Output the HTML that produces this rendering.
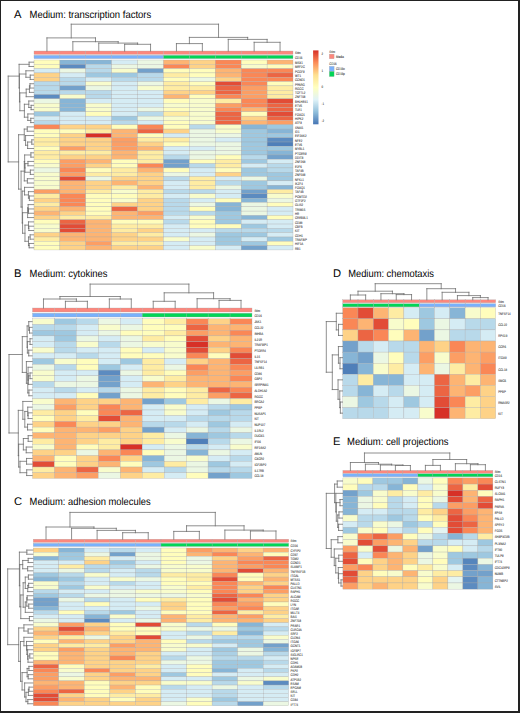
<!DOCTYPE html>
<html><head><meta charset="utf-8"><title>Heatmaps</title>
<style>html,body{margin:0;padding:0;background:#fff;}body{width:520px;height:713px;overflow:hidden;font-family:"Liberation Sans",sans-serif;}svg{display:block;}</style>
</head><body>
<svg width="520" height="713" viewBox="0 0 520 713" font-family="Liberation Sans, sans-serif" text-rendering="geometricPrecision">
<rect x="0" y="0" width="520" height="713" fill="#fff"/>
<g stroke="#a8a8a8" stroke-width="0.3">
<rect x="34" y="60" width="25.9" height="4.32" fill="#fffdbc"/>
<rect x="59.9" y="60" width="25.9" height="4.32" fill="#87b5d6"/>
<rect x="85.8" y="60" width="25.9" height="4.32" fill="#87b5d6"/>
<rect x="111.7" y="60" width="25.9" height="4.32" fill="#d5ecf4"/>
<rect x="137.6" y="60" width="25.9" height="4.32" fill="#ebf7e3"/>
<rect x="163.5" y="60" width="25.9" height="4.32" fill="#fdb473"/>
<rect x="189.4" y="60" width="25.9" height="4.32" fill="#fed287"/>
<rect x="215.3" y="60" width="25.9" height="4.32" fill="#fa8756"/>
<rect x="241.2" y="60" width="25.9" height="4.32" fill="#fffdbc"/>
<rect x="267.1" y="60" width="25.9" height="4.32" fill="#fdb473"/>
<rect x="34" y="64.32" width="25.9" height="4.32" fill="#fffdbc"/>
<rect x="59.9" y="64.32" width="25.9" height="4.32" fill="#5c8bc0"/>
<rect x="85.8" y="64.32" width="25.9" height="4.32" fill="#b8d9ea"/>
<rect x="111.7" y="64.32" width="25.9" height="4.32" fill="#ebf7e3"/>
<rect x="137.6" y="64.32" width="25.9" height="4.32" fill="#ebf7e3"/>
<rect x="163.5" y="64.32" width="25.9" height="4.32" fill="#fa8756"/>
<rect x="189.4" y="64.32" width="25.9" height="4.32" fill="#fed287"/>
<rect x="215.3" y="64.32" width="25.9" height="4.32" fill="#fa8756"/>
<rect x="241.2" y="64.32" width="25.9" height="4.32" fill="#f8fccc"/>
<rect x="267.1" y="64.32" width="25.9" height="4.32" fill="#fffdbc"/>
<rect x="34" y="68.63" width="25.9" height="4.32" fill="#d5ecf4"/>
<rect x="59.9" y="68.63" width="25.9" height="4.32" fill="#ebf7e3"/>
<rect x="85.8" y="68.63" width="25.9" height="4.32" fill="#b8d9ea"/>
<rect x="111.7" y="68.63" width="25.9" height="4.32" fill="#f8fccc"/>
<rect x="137.6" y="68.63" width="25.9" height="4.32" fill="#73a1cb"/>
<rect x="163.5" y="68.63" width="25.9" height="4.32" fill="#fffdbc"/>
<rect x="189.4" y="68.63" width="25.9" height="4.32" fill="#fffdbc"/>
<rect x="215.3" y="68.63" width="25.9" height="4.32" fill="#fdb473"/>
<rect x="241.2" y="68.63" width="25.9" height="4.32" fill="#fa8756"/>
<rect x="267.1" y="68.63" width="25.9" height="4.32" fill="#fa8756"/>
<rect x="34" y="72.95" width="25.9" height="4.32" fill="#fed287"/>
<rect x="59.9" y="72.95" width="25.9" height="4.32" fill="#d5ecf4"/>
<rect x="85.8" y="72.95" width="25.9" height="4.32" fill="#9ec8e0"/>
<rect x="111.7" y="72.95" width="25.9" height="4.32" fill="#9ec8e0"/>
<rect x="137.6" y="72.95" width="25.9" height="4.32" fill="#b8d9ea"/>
<rect x="163.5" y="72.95" width="25.9" height="4.32" fill="#feeca3"/>
<rect x="189.4" y="72.95" width="25.9" height="4.32" fill="#fffdbc"/>
<rect x="215.3" y="72.95" width="25.9" height="4.32" fill="#fdb473"/>
<rect x="241.2" y="72.95" width="25.9" height="4.32" fill="#fa8756"/>
<rect x="267.1" y="72.95" width="25.9" height="4.32" fill="#ec6543"/>
<rect x="34" y="77.27" width="25.9" height="4.32" fill="#fed287"/>
<rect x="59.9" y="77.27" width="25.9" height="4.32" fill="#b8d9ea"/>
<rect x="85.8" y="77.27" width="25.9" height="4.32" fill="#d5ecf4"/>
<rect x="111.7" y="77.27" width="25.9" height="4.32" fill="#b8d9ea"/>
<rect x="137.6" y="77.27" width="25.9" height="4.32" fill="#b8d9ea"/>
<rect x="163.5" y="77.27" width="25.9" height="4.32" fill="#fffdbc"/>
<rect x="189.4" y="77.27" width="25.9" height="4.32" fill="#ebf7e3"/>
<rect x="215.3" y="77.27" width="25.9" height="4.32" fill="#fed287"/>
<rect x="241.2" y="77.27" width="25.9" height="4.32" fill="#fa8756"/>
<rect x="267.1" y="77.27" width="25.9" height="4.32" fill="#fa8756"/>
<rect x="34" y="81.59" width="25.9" height="4.32" fill="#b8d9ea"/>
<rect x="59.9" y="81.59" width="25.9" height="4.32" fill="#b8d9ea"/>
<rect x="85.8" y="81.59" width="25.9" height="4.32" fill="#f8fccc"/>
<rect x="111.7" y="81.59" width="25.9" height="4.32" fill="#d5ecf4"/>
<rect x="137.6" y="81.59" width="25.9" height="4.32" fill="#ebf7e3"/>
<rect x="163.5" y="81.59" width="25.9" height="4.32" fill="#feeca3"/>
<rect x="189.4" y="81.59" width="25.9" height="4.32" fill="#fffdbc"/>
<rect x="215.3" y="81.59" width="25.9" height="4.32" fill="#e24c36"/>
<rect x="241.2" y="81.59" width="25.9" height="4.32" fill="#fa8756"/>
<rect x="267.1" y="81.59" width="25.9" height="4.32" fill="#fffdbc"/>
<rect x="34" y="85.9" width="25.9" height="4.32" fill="#b8d9ea"/>
<rect x="59.9" y="85.9" width="25.9" height="4.32" fill="#73a1cb"/>
<rect x="85.8" y="85.9" width="25.9" height="4.32" fill="#ebf7e3"/>
<rect x="111.7" y="85.9" width="25.9" height="4.32" fill="#d5ecf4"/>
<rect x="137.6" y="85.9" width="25.9" height="4.32" fill="#f8fccc"/>
<rect x="163.5" y="85.9" width="25.9" height="4.32" fill="#feeca3"/>
<rect x="189.4" y="85.9" width="25.9" height="4.32" fill="#feeca3"/>
<rect x="215.3" y="85.9" width="25.9" height="4.32" fill="#ec6543"/>
<rect x="241.2" y="85.9" width="25.9" height="4.32" fill="#fc9e64"/>
<rect x="267.1" y="85.9" width="25.9" height="4.32" fill="#feeca3"/>
<rect x="34" y="90.22" width="25.9" height="4.32" fill="#b8d9ea"/>
<rect x="59.9" y="90.22" width="25.9" height="4.32" fill="#b8d9ea"/>
<rect x="85.8" y="90.22" width="25.9" height="4.32" fill="#b8d9ea"/>
<rect x="111.7" y="90.22" width="25.9" height="4.32" fill="#d5ecf4"/>
<rect x="137.6" y="90.22" width="25.9" height="4.32" fill="#d5ecf4"/>
<rect x="163.5" y="90.22" width="25.9" height="4.32" fill="#fed287"/>
<rect x="189.4" y="90.22" width="25.9" height="4.32" fill="#fed287"/>
<rect x="215.3" y="90.22" width="25.9" height="4.32" fill="#ec6543"/>
<rect x="241.2" y="90.22" width="25.9" height="4.32" fill="#fc9e64"/>
<rect x="267.1" y="90.22" width="25.9" height="4.32" fill="#feeca3"/>
<rect x="34" y="94.54" width="25.9" height="4.32" fill="#5c8bc0"/>
<rect x="59.9" y="94.54" width="25.9" height="4.32" fill="#f8fccc"/>
<rect x="85.8" y="94.54" width="25.9" height="4.32" fill="#b8d9ea"/>
<rect x="111.7" y="94.54" width="25.9" height="4.32" fill="#d5ecf4"/>
<rect x="137.6" y="94.54" width="25.9" height="4.32" fill="#d5ecf4"/>
<rect x="163.5" y="94.54" width="25.9" height="4.32" fill="#fdb473"/>
<rect x="189.4" y="94.54" width="25.9" height="4.32" fill="#fffdbc"/>
<rect x="215.3" y="94.54" width="25.9" height="4.32" fill="#fa8756"/>
<rect x="241.2" y="94.54" width="25.9" height="4.32" fill="#fc9e64"/>
<rect x="267.1" y="94.54" width="25.9" height="4.32" fill="#feeca3"/>
<rect x="34" y="98.85" width="25.9" height="4.32" fill="#ebf7e3"/>
<rect x="59.9" y="98.85" width="25.9" height="4.32" fill="#87b5d6"/>
<rect x="85.8" y="98.85" width="25.9" height="4.32" fill="#d5ecf4"/>
<rect x="111.7" y="98.85" width="25.9" height="4.32" fill="#d5ecf4"/>
<rect x="137.6" y="98.85" width="25.9" height="4.32" fill="#d5ecf4"/>
<rect x="163.5" y="98.85" width="25.9" height="4.32" fill="#fffdbc"/>
<rect x="189.4" y="98.85" width="25.9" height="4.32" fill="#f8fccc"/>
<rect x="215.3" y="98.85" width="25.9" height="4.32" fill="#feeca3"/>
<rect x="241.2" y="98.85" width="25.9" height="4.32" fill="#fa8756"/>
<rect x="267.1" y="98.85" width="25.9" height="4.32" fill="#e24c36"/>
<rect x="34" y="103.17" width="25.9" height="4.32" fill="#f8fccc"/>
<rect x="59.9" y="103.17" width="25.9" height="4.32" fill="#87b5d6"/>
<rect x="85.8" y="103.17" width="25.9" height="4.32" fill="#f8fccc"/>
<rect x="111.7" y="103.17" width="25.9" height="4.32" fill="#d5ecf4"/>
<rect x="137.6" y="103.17" width="25.9" height="4.32" fill="#d5ecf4"/>
<rect x="163.5" y="103.17" width="25.9" height="4.32" fill="#f8fccc"/>
<rect x="189.4" y="103.17" width="25.9" height="4.32" fill="#f8fccc"/>
<rect x="215.3" y="103.17" width="25.9" height="4.32" fill="#fc9e64"/>
<rect x="241.2" y="103.17" width="25.9" height="4.32" fill="#fa8756"/>
<rect x="267.1" y="103.17" width="25.9" height="4.32" fill="#ec6543"/>
<rect x="34" y="107.49" width="25.9" height="4.32" fill="#f8fccc"/>
<rect x="59.9" y="107.49" width="25.9" height="4.32" fill="#87b5d6"/>
<rect x="85.8" y="107.49" width="25.9" height="4.32" fill="#f8fccc"/>
<rect x="111.7" y="107.49" width="25.9" height="4.32" fill="#d5ecf4"/>
<rect x="137.6" y="107.49" width="25.9" height="4.32" fill="#ebf7e3"/>
<rect x="163.5" y="107.49" width="25.9" height="4.32" fill="#fffdbc"/>
<rect x="189.4" y="107.49" width="25.9" height="4.32" fill="#f8fccc"/>
<rect x="215.3" y="107.49" width="25.9" height="4.32" fill="#fa8756"/>
<rect x="241.2" y="107.49" width="25.9" height="4.32" fill="#fdb473"/>
<rect x="267.1" y="107.49" width="25.9" height="4.32" fill="#ec6543"/>
<rect x="34" y="111.8" width="25.9" height="4.32" fill="#9ec8e0"/>
<rect x="59.9" y="111.8" width="25.9" height="4.32" fill="#d5ecf4"/>
<rect x="85.8" y="111.8" width="25.9" height="4.32" fill="#fffdbc"/>
<rect x="111.7" y="111.8" width="25.9" height="4.32" fill="#d5ecf4"/>
<rect x="137.6" y="111.8" width="25.9" height="4.32" fill="#b8d9ea"/>
<rect x="163.5" y="111.8" width="25.9" height="4.32" fill="#feeca3"/>
<rect x="189.4" y="111.8" width="25.9" height="4.32" fill="#f8fccc"/>
<rect x="215.3" y="111.8" width="25.9" height="4.32" fill="#ec6543"/>
<rect x="241.2" y="111.8" width="25.9" height="4.32" fill="#fffdbc"/>
<rect x="267.1" y="111.8" width="25.9" height="4.32" fill="#e24c36"/>
<rect x="34" y="116.12" width="25.9" height="4.32" fill="#d5ecf4"/>
<rect x="59.9" y="116.12" width="25.9" height="4.32" fill="#d5ecf4"/>
<rect x="85.8" y="116.12" width="25.9" height="4.32" fill="#d5ecf4"/>
<rect x="111.7" y="116.12" width="25.9" height="4.32" fill="#9ec8e0"/>
<rect x="137.6" y="116.12" width="25.9" height="4.32" fill="#ebf7e3"/>
<rect x="163.5" y="116.12" width="25.9" height="4.32" fill="#f8fccc"/>
<rect x="189.4" y="116.12" width="25.9" height="4.32" fill="#f8fccc"/>
<rect x="215.3" y="116.12" width="25.9" height="4.32" fill="#ec6543"/>
<rect x="241.2" y="116.12" width="25.9" height="4.32" fill="#fed287"/>
<rect x="267.1" y="116.12" width="25.9" height="4.32" fill="#ec6543"/>
<rect x="34" y="120.44" width="25.9" height="4.32" fill="#b8d9ea"/>
<rect x="59.9" y="120.44" width="25.9" height="4.32" fill="#d5ecf4"/>
<rect x="85.8" y="120.44" width="25.9" height="4.32" fill="#d5ecf4"/>
<rect x="111.7" y="120.44" width="25.9" height="4.32" fill="#b8d9ea"/>
<rect x="137.6" y="120.44" width="25.9" height="4.32" fill="#d5ecf4"/>
<rect x="163.5" y="120.44" width="25.9" height="4.32" fill="#fffdbc"/>
<rect x="189.4" y="120.44" width="25.9" height="4.32" fill="#f8fccc"/>
<rect x="215.3" y="120.44" width="25.9" height="4.32" fill="#ec6543"/>
<rect x="241.2" y="120.44" width="25.9" height="4.32" fill="#fdb473"/>
<rect x="267.1" y="120.44" width="25.9" height="4.32" fill="#fc9e64"/>
<rect x="34" y="124.75" width="25.9" height="4.32" fill="#fa8756"/>
<rect x="59.9" y="124.75" width="25.9" height="4.32" fill="#fed287"/>
<rect x="85.8" y="124.75" width="25.9" height="4.32" fill="#fed287"/>
<rect x="111.7" y="124.75" width="25.9" height="4.32" fill="#fffdbc"/>
<rect x="137.6" y="124.75" width="25.9" height="4.32" fill="#fa8756"/>
<rect x="163.5" y="124.75" width="25.9" height="4.32" fill="#fffdbc"/>
<rect x="189.4" y="124.75" width="25.9" height="4.32" fill="#b8d9ea"/>
<rect x="215.3" y="124.75" width="25.9" height="4.32" fill="#f8fccc"/>
<rect x="241.2" y="124.75" width="25.9" height="4.32" fill="#87b5d6"/>
<rect x="267.1" y="124.75" width="25.9" height="4.32" fill="#9ec8e0"/>
<rect x="34" y="129.07" width="25.9" height="4.32" fill="#fffdbc"/>
<rect x="59.9" y="129.07" width="25.9" height="4.32" fill="#fffdbc"/>
<rect x="85.8" y="129.07" width="25.9" height="4.32" fill="#feeca3"/>
<rect x="111.7" y="129.07" width="25.9" height="4.32" fill="#fdb473"/>
<rect x="137.6" y="129.07" width="25.9" height="4.32" fill="#ec6543"/>
<rect x="163.5" y="129.07" width="25.9" height="4.32" fill="#fed287"/>
<rect x="189.4" y="129.07" width="25.9" height="4.32" fill="#ebf7e3"/>
<rect x="215.3" y="129.07" width="25.9" height="4.32" fill="#f8fccc"/>
<rect x="241.2" y="129.07" width="25.9" height="4.32" fill="#9ec8e0"/>
<rect x="267.1" y="129.07" width="25.9" height="4.32" fill="#87b5d6"/>
<rect x="34" y="133.39" width="25.9" height="4.32" fill="#fffdbc"/>
<rect x="59.9" y="133.39" width="25.9" height="4.32" fill="#fed287"/>
<rect x="85.8" y="133.39" width="25.9" height="4.32" fill="#d73027"/>
<rect x="111.7" y="133.39" width="25.9" height="4.32" fill="#fdb473"/>
<rect x="137.6" y="133.39" width="25.9" height="4.32" fill="#fffdbc"/>
<rect x="163.5" y="133.39" width="25.9" height="4.32" fill="#d5ecf4"/>
<rect x="189.4" y="133.39" width="25.9" height="4.32" fill="#ebf7e3"/>
<rect x="215.3" y="133.39" width="25.9" height="4.32" fill="#ebf7e3"/>
<rect x="241.2" y="133.39" width="25.9" height="4.32" fill="#9ec8e0"/>
<rect x="267.1" y="133.39" width="25.9" height="4.32" fill="#9ec8e0"/>
<rect x="34" y="137.71" width="25.9" height="4.32" fill="#feeca3"/>
<rect x="59.9" y="137.71" width="25.9" height="4.32" fill="#fed287"/>
<rect x="85.8" y="137.71" width="25.9" height="4.32" fill="#fed287"/>
<rect x="111.7" y="137.71" width="25.9" height="4.32" fill="#fc9e64"/>
<rect x="137.6" y="137.71" width="25.9" height="4.32" fill="#feeca3"/>
<rect x="163.5" y="137.71" width="25.9" height="4.32" fill="#feeca3"/>
<rect x="189.4" y="137.71" width="25.9" height="4.32" fill="#ebf7e3"/>
<rect x="215.3" y="137.71" width="25.9" height="4.32" fill="#d5ecf4"/>
<rect x="241.2" y="137.71" width="25.9" height="4.32" fill="#9ec8e0"/>
<rect x="267.1" y="137.71" width="25.9" height="4.32" fill="#5c8bc0"/>
<rect x="34" y="142.02" width="25.9" height="4.32" fill="#feeca3"/>
<rect x="59.9" y="142.02" width="25.9" height="4.32" fill="#fed287"/>
<rect x="85.8" y="142.02" width="25.9" height="4.32" fill="#fed287"/>
<rect x="111.7" y="142.02" width="25.9" height="4.32" fill="#fc9e64"/>
<rect x="137.6" y="142.02" width="25.9" height="4.32" fill="#fed287"/>
<rect x="163.5" y="142.02" width="25.9" height="4.32" fill="#fffdbc"/>
<rect x="189.4" y="142.02" width="25.9" height="4.32" fill="#ebf7e3"/>
<rect x="215.3" y="142.02" width="25.9" height="4.32" fill="#ebf7e3"/>
<rect x="241.2" y="142.02" width="25.9" height="4.32" fill="#9ec8e0"/>
<rect x="267.1" y="142.02" width="25.9" height="4.32" fill="#4f7fb9"/>
<rect x="34" y="146.34" width="25.9" height="4.32" fill="#fffdbc"/>
<rect x="59.9" y="146.34" width="25.9" height="4.32" fill="#fc9e64"/>
<rect x="85.8" y="146.34" width="25.9" height="4.32" fill="#fed287"/>
<rect x="111.7" y="146.34" width="25.9" height="4.32" fill="#fc9e64"/>
<rect x="137.6" y="146.34" width="25.9" height="4.32" fill="#fdb473"/>
<rect x="163.5" y="146.34" width="25.9" height="4.32" fill="#d5ecf4"/>
<rect x="189.4" y="146.34" width="25.9" height="4.32" fill="#d5ecf4"/>
<rect x="215.3" y="146.34" width="25.9" height="4.32" fill="#ebf7e3"/>
<rect x="241.2" y="146.34" width="25.9" height="4.32" fill="#9ec8e0"/>
<rect x="267.1" y="146.34" width="25.9" height="4.32" fill="#9ec8e0"/>
<rect x="34" y="150.66" width="25.9" height="4.32" fill="#feeca3"/>
<rect x="59.9" y="150.66" width="25.9" height="4.32" fill="#feeca3"/>
<rect x="85.8" y="150.66" width="25.9" height="4.32" fill="#feeca3"/>
<rect x="111.7" y="150.66" width="25.9" height="4.32" fill="#fdb473"/>
<rect x="137.6" y="150.66" width="25.9" height="4.32" fill="#feeca3"/>
<rect x="163.5" y="150.66" width="25.9" height="4.32" fill="#d5ecf4"/>
<rect x="189.4" y="150.66" width="25.9" height="4.32" fill="#ebf7e3"/>
<rect x="215.3" y="150.66" width="25.9" height="4.32" fill="#ebf7e3"/>
<rect x="241.2" y="150.66" width="25.9" height="4.32" fill="#9ec8e0"/>
<rect x="267.1" y="150.66" width="25.9" height="4.32" fill="#87b5d6"/>
<rect x="34" y="154.97" width="25.9" height="4.32" fill="#feeca3"/>
<rect x="59.9" y="154.97" width="25.9" height="4.32" fill="#fed287"/>
<rect x="85.8" y="154.97" width="25.9" height="4.32" fill="#fed287"/>
<rect x="111.7" y="154.97" width="25.9" height="4.32" fill="#fdb473"/>
<rect x="137.6" y="154.97" width="25.9" height="4.32" fill="#feeca3"/>
<rect x="163.5" y="154.97" width="25.9" height="4.32" fill="#b8d9ea"/>
<rect x="189.4" y="154.97" width="25.9" height="4.32" fill="#ebf7e3"/>
<rect x="215.3" y="154.97" width="25.9" height="4.32" fill="#fffdbc"/>
<rect x="241.2" y="154.97" width="25.9" height="4.32" fill="#b8d9ea"/>
<rect x="267.1" y="154.97" width="25.9" height="4.32" fill="#73a1cb"/>
<rect x="34" y="159.29" width="25.9" height="4.32" fill="#fffdbc"/>
<rect x="59.9" y="159.29" width="25.9" height="4.32" fill="#fc9e64"/>
<rect x="85.8" y="159.29" width="25.9" height="4.32" fill="#fdb473"/>
<rect x="111.7" y="159.29" width="25.9" height="4.32" fill="#fffdbc"/>
<rect x="137.6" y="159.29" width="25.9" height="4.32" fill="#feeca3"/>
<rect x="163.5" y="159.29" width="25.9" height="4.32" fill="#73a1cb"/>
<rect x="189.4" y="159.29" width="25.9" height="4.32" fill="#fffdbc"/>
<rect x="215.3" y="159.29" width="25.9" height="4.32" fill="#feeca3"/>
<rect x="241.2" y="159.29" width="25.9" height="4.32" fill="#9ec8e0"/>
<rect x="267.1" y="159.29" width="25.9" height="4.32" fill="#d5ecf4"/>
<rect x="34" y="163.61" width="25.9" height="4.32" fill="#f8fccc"/>
<rect x="59.9" y="163.61" width="25.9" height="4.32" fill="#fc9e64"/>
<rect x="85.8" y="163.61" width="25.9" height="4.32" fill="#fed287"/>
<rect x="111.7" y="163.61" width="25.9" height="4.32" fill="#fffdbc"/>
<rect x="137.6" y="163.61" width="25.9" height="4.32" fill="#fa8756"/>
<rect x="163.5" y="163.61" width="25.9" height="4.32" fill="#73a1cb"/>
<rect x="189.4" y="163.61" width="25.9" height="4.32" fill="#b8d9ea"/>
<rect x="215.3" y="163.61" width="25.9" height="4.32" fill="#feeca3"/>
<rect x="241.2" y="163.61" width="25.9" height="4.32" fill="#d5ecf4"/>
<rect x="267.1" y="163.61" width="25.9" height="4.32" fill="#b8d9ea"/>
<rect x="34" y="167.93" width="25.9" height="4.32" fill="#ebf7e3"/>
<rect x="59.9" y="167.93" width="25.9" height="4.32" fill="#fa8756"/>
<rect x="85.8" y="167.93" width="25.9" height="4.32" fill="#fffdbc"/>
<rect x="111.7" y="167.93" width="25.9" height="4.32" fill="#feeca3"/>
<rect x="137.6" y="167.93" width="25.9" height="4.32" fill="#fdb473"/>
<rect x="163.5" y="167.93" width="25.9" height="4.32" fill="#fffdbc"/>
<rect x="189.4" y="167.93" width="25.9" height="4.32" fill="#d5ecf4"/>
<rect x="215.3" y="167.93" width="25.9" height="4.32" fill="#fffdbc"/>
<rect x="241.2" y="167.93" width="25.9" height="4.32" fill="#9ec8e0"/>
<rect x="267.1" y="167.93" width="25.9" height="4.32" fill="#b8d9ea"/>
<rect x="34" y="172.24" width="25.9" height="4.32" fill="#f8fccc"/>
<rect x="59.9" y="172.24" width="25.9" height="4.32" fill="#fc9e64"/>
<rect x="85.8" y="172.24" width="25.9" height="4.32" fill="#feeca3"/>
<rect x="111.7" y="172.24" width="25.9" height="4.32" fill="#feeca3"/>
<rect x="137.6" y="172.24" width="25.9" height="4.32" fill="#fed287"/>
<rect x="163.5" y="172.24" width="25.9" height="4.32" fill="#ebf7e3"/>
<rect x="189.4" y="172.24" width="25.9" height="4.32" fill="#d5ecf4"/>
<rect x="215.3" y="172.24" width="25.9" height="4.32" fill="#fed287"/>
<rect x="241.2" y="172.24" width="25.9" height="4.32" fill="#9ec8e0"/>
<rect x="267.1" y="172.24" width="25.9" height="4.32" fill="#9ec8e0"/>
<rect x="34" y="176.56" width="25.9" height="4.32" fill="#f8fccc"/>
<rect x="59.9" y="176.56" width="25.9" height="4.32" fill="#e24c36"/>
<rect x="85.8" y="176.56" width="25.9" height="4.32" fill="#ebf7e3"/>
<rect x="111.7" y="176.56" width="25.9" height="4.32" fill="#fed287"/>
<rect x="137.6" y="176.56" width="25.9" height="4.32" fill="#fed287"/>
<rect x="163.5" y="176.56" width="25.9" height="4.32" fill="#b8d9ea"/>
<rect x="189.4" y="176.56" width="25.9" height="4.32" fill="#feeca3"/>
<rect x="215.3" y="176.56" width="25.9" height="4.32" fill="#d5ecf4"/>
<rect x="241.2" y="176.56" width="25.9" height="4.32" fill="#ebf7e3"/>
<rect x="267.1" y="176.56" width="25.9" height="4.32" fill="#9ec8e0"/>
<rect x="34" y="180.88" width="25.9" height="4.32" fill="#f8fccc"/>
<rect x="59.9" y="180.88" width="25.9" height="4.32" fill="#fdb473"/>
<rect x="85.8" y="180.88" width="25.9" height="4.32" fill="#fed287"/>
<rect x="111.7" y="180.88" width="25.9" height="4.32" fill="#fdb473"/>
<rect x="137.6" y="180.88" width="25.9" height="4.32" fill="#fed287"/>
<rect x="163.5" y="180.88" width="25.9" height="4.32" fill="#d5ecf4"/>
<rect x="189.4" y="180.88" width="25.9" height="4.32" fill="#feeca3"/>
<rect x="215.3" y="180.88" width="25.9" height="4.32" fill="#b8d9ea"/>
<rect x="241.2" y="180.88" width="25.9" height="4.32" fill="#9ec8e0"/>
<rect x="267.1" y="180.88" width="25.9" height="4.32" fill="#d5ecf4"/>
<rect x="34" y="185.19" width="25.9" height="4.32" fill="#f8fccc"/>
<rect x="59.9" y="185.19" width="25.9" height="4.32" fill="#fdb473"/>
<rect x="85.8" y="185.19" width="25.9" height="4.32" fill="#fed287"/>
<rect x="111.7" y="185.19" width="25.9" height="4.32" fill="#feeca3"/>
<rect x="137.6" y="185.19" width="25.9" height="4.32" fill="#fdb473"/>
<rect x="163.5" y="185.19" width="25.9" height="4.32" fill="#d5ecf4"/>
<rect x="189.4" y="185.19" width="25.9" height="4.32" fill="#feeca3"/>
<rect x="215.3" y="185.19" width="25.9" height="4.32" fill="#ebf7e3"/>
<rect x="241.2" y="185.19" width="25.9" height="4.32" fill="#9ec8e0"/>
<rect x="267.1" y="185.19" width="25.9" height="4.32" fill="#87b5d6"/>
<rect x="34" y="189.51" width="25.9" height="4.32" fill="#fc9e64"/>
<rect x="59.9" y="189.51" width="25.9" height="4.32" fill="#fdb473"/>
<rect x="85.8" y="189.51" width="25.9" height="4.32" fill="#feeca3"/>
<rect x="111.7" y="189.51" width="25.9" height="4.32" fill="#f8fccc"/>
<rect x="137.6" y="189.51" width="25.9" height="4.32" fill="#feeca3"/>
<rect x="163.5" y="189.51" width="25.9" height="4.32" fill="#b8d9ea"/>
<rect x="189.4" y="189.51" width="25.9" height="4.32" fill="#b8d9ea"/>
<rect x="215.3" y="189.51" width="25.9" height="4.32" fill="#d5ecf4"/>
<rect x="241.2" y="189.51" width="25.9" height="4.32" fill="#73a1cb"/>
<rect x="267.1" y="189.51" width="25.9" height="4.32" fill="#feeca3"/>
<rect x="34" y="193.83" width="25.9" height="4.32" fill="#feeca3"/>
<rect x="59.9" y="193.83" width="25.9" height="4.32" fill="#fa8756"/>
<rect x="85.8" y="193.83" width="25.9" height="4.32" fill="#fffdbc"/>
<rect x="111.7" y="193.83" width="25.9" height="4.32" fill="#fffdbc"/>
<rect x="137.6" y="193.83" width="25.9" height="4.32" fill="#feeca3"/>
<rect x="163.5" y="193.83" width="25.9" height="4.32" fill="#d5ecf4"/>
<rect x="189.4" y="193.83" width="25.9" height="4.32" fill="#f8fccc"/>
<rect x="215.3" y="193.83" width="25.9" height="4.32" fill="#d5ecf4"/>
<rect x="241.2" y="193.83" width="25.9" height="4.32" fill="#5c8bc0"/>
<rect x="267.1" y="193.83" width="25.9" height="4.32" fill="#f8fccc"/>
<rect x="34" y="198.14" width="25.9" height="4.32" fill="#fed287"/>
<rect x="59.9" y="198.14" width="25.9" height="4.32" fill="#fa8756"/>
<rect x="85.8" y="198.14" width="25.9" height="4.32" fill="#fffdbc"/>
<rect x="111.7" y="198.14" width="25.9" height="4.32" fill="#f8fccc"/>
<rect x="137.6" y="198.14" width="25.9" height="4.32" fill="#fed287"/>
<rect x="163.5" y="198.14" width="25.9" height="4.32" fill="#b8d9ea"/>
<rect x="189.4" y="198.14" width="25.9" height="4.32" fill="#d5ecf4"/>
<rect x="215.3" y="198.14" width="25.9" height="4.32" fill="#fffdbc"/>
<rect x="241.2" y="198.14" width="25.9" height="4.32" fill="#87b5d6"/>
<rect x="267.1" y="198.14" width="25.9" height="4.32" fill="#ebf7e3"/>
<rect x="34" y="202.46" width="25.9" height="4.32" fill="#feeca3"/>
<rect x="59.9" y="202.46" width="25.9" height="4.32" fill="#fa8756"/>
<rect x="85.8" y="202.46" width="25.9" height="4.32" fill="#fffdbc"/>
<rect x="111.7" y="202.46" width="25.9" height="4.32" fill="#fed287"/>
<rect x="137.6" y="202.46" width="25.9" height="4.32" fill="#fed287"/>
<rect x="163.5" y="202.46" width="25.9" height="4.32" fill="#b8d9ea"/>
<rect x="189.4" y="202.46" width="25.9" height="4.32" fill="#ebf7e3"/>
<rect x="215.3" y="202.46" width="25.9" height="4.32" fill="#87b5d6"/>
<rect x="241.2" y="202.46" width="25.9" height="4.32" fill="#ebf7e3"/>
<rect x="267.1" y="202.46" width="25.9" height="4.32" fill="#fffdbc"/>
<rect x="34" y="206.78" width="25.9" height="4.32" fill="#fed287"/>
<rect x="59.9" y="206.78" width="25.9" height="4.32" fill="#fdb473"/>
<rect x="85.8" y="206.78" width="25.9" height="4.32" fill="#fffdbc"/>
<rect x="111.7" y="206.78" width="25.9" height="4.32" fill="#ec6543"/>
<rect x="137.6" y="206.78" width="25.9" height="4.32" fill="#fed287"/>
<rect x="163.5" y="206.78" width="25.9" height="4.32" fill="#b8d9ea"/>
<rect x="189.4" y="206.78" width="25.9" height="4.32" fill="#fffdbc"/>
<rect x="215.3" y="206.78" width="25.9" height="4.32" fill="#87b5d6"/>
<rect x="241.2" y="206.78" width="25.9" height="4.32" fill="#ebf7e3"/>
<rect x="267.1" y="206.78" width="25.9" height="4.32" fill="#d5ecf4"/>
<rect x="34" y="211.09" width="25.9" height="4.32" fill="#fdb473"/>
<rect x="59.9" y="211.09" width="25.9" height="4.32" fill="#fed287"/>
<rect x="85.8" y="211.09" width="25.9" height="4.32" fill="#fffdbc"/>
<rect x="111.7" y="211.09" width="25.9" height="4.32" fill="#fdb473"/>
<rect x="137.6" y="211.09" width="25.9" height="4.32" fill="#fc9e64"/>
<rect x="163.5" y="211.09" width="25.9" height="4.32" fill="#b8d9ea"/>
<rect x="189.4" y="211.09" width="25.9" height="4.32" fill="#b8d9ea"/>
<rect x="215.3" y="211.09" width="25.9" height="4.32" fill="#9ec8e0"/>
<rect x="241.2" y="211.09" width="25.9" height="4.32" fill="#ebf7e3"/>
<rect x="267.1" y="211.09" width="25.9" height="4.32" fill="#d5ecf4"/>
<rect x="34" y="215.41" width="25.9" height="4.32" fill="#fed287"/>
<rect x="59.9" y="215.41" width="25.9" height="4.32" fill="#feeca3"/>
<rect x="85.8" y="215.41" width="25.9" height="4.32" fill="#feeca3"/>
<rect x="111.7" y="215.41" width="25.9" height="4.32" fill="#fdb473"/>
<rect x="137.6" y="215.41" width="25.9" height="4.32" fill="#fdb473"/>
<rect x="163.5" y="215.41" width="25.9" height="4.32" fill="#d5ecf4"/>
<rect x="189.4" y="215.41" width="25.9" height="4.32" fill="#f8fccc"/>
<rect x="215.3" y="215.41" width="25.9" height="4.32" fill="#9ec8e0"/>
<rect x="241.2" y="215.41" width="25.9" height="4.32" fill="#87b5d6"/>
<rect x="267.1" y="215.41" width="25.9" height="4.32" fill="#fffdbc"/>
<rect x="34" y="219.73" width="25.9" height="4.32" fill="#fffdbc"/>
<rect x="59.9" y="219.73" width="25.9" height="4.32" fill="#ec6543"/>
<rect x="85.8" y="219.73" width="25.9" height="4.32" fill="#fdb473"/>
<rect x="111.7" y="219.73" width="25.9" height="4.32" fill="#fffdbc"/>
<rect x="137.6" y="219.73" width="25.9" height="4.32" fill="#fffdbc"/>
<rect x="163.5" y="219.73" width="25.9" height="4.32" fill="#b8d9ea"/>
<rect x="189.4" y="219.73" width="25.9" height="4.32" fill="#fffdbc"/>
<rect x="215.3" y="219.73" width="25.9" height="4.32" fill="#9ec8e0"/>
<rect x="241.2" y="219.73" width="25.9" height="4.32" fill="#d5ecf4"/>
<rect x="267.1" y="219.73" width="25.9" height="4.32" fill="#d5ecf4"/>
<rect x="34" y="224.05" width="25.9" height="4.32" fill="#f8fccc"/>
<rect x="59.9" y="224.05" width="25.9" height="4.32" fill="#e24c36"/>
<rect x="85.8" y="224.05" width="25.9" height="4.32" fill="#fdb473"/>
<rect x="111.7" y="224.05" width="25.9" height="4.32" fill="#feeca3"/>
<rect x="137.6" y="224.05" width="25.9" height="4.32" fill="#feeca3"/>
<rect x="163.5" y="224.05" width="25.9" height="4.32" fill="#d5ecf4"/>
<rect x="189.4" y="224.05" width="25.9" height="4.32" fill="#fffdbc"/>
<rect x="215.3" y="224.05" width="25.9" height="4.32" fill="#fffdbc"/>
<rect x="241.2" y="224.05" width="25.9" height="4.32" fill="#9ec8e0"/>
<rect x="267.1" y="224.05" width="25.9" height="4.32" fill="#d5ecf4"/>
<rect x="34" y="228.36" width="25.9" height="4.32" fill="#f8fccc"/>
<rect x="59.9" y="228.36" width="25.9" height="4.32" fill="#e24c36"/>
<rect x="85.8" y="228.36" width="25.9" height="4.32" fill="#fdb473"/>
<rect x="111.7" y="228.36" width="25.9" height="4.32" fill="#feeca3"/>
<rect x="137.6" y="228.36" width="25.9" height="4.32" fill="#fed287"/>
<rect x="163.5" y="228.36" width="25.9" height="4.32" fill="#d5ecf4"/>
<rect x="189.4" y="228.36" width="25.9" height="4.32" fill="#d5ecf4"/>
<rect x="215.3" y="228.36" width="25.9" height="4.32" fill="#b8d9ea"/>
<rect x="241.2" y="228.36" width="25.9" height="4.32" fill="#b8d9ea"/>
<rect x="267.1" y="228.36" width="25.9" height="4.32" fill="#b8d9ea"/>
<rect x="34" y="232.68" width="25.9" height="4.32" fill="#fed287"/>
<rect x="59.9" y="232.68" width="25.9" height="4.32" fill="#fdb473"/>
<rect x="85.8" y="232.68" width="25.9" height="4.32" fill="#fdb473"/>
<rect x="111.7" y="232.68" width="25.9" height="4.32" fill="#fed287"/>
<rect x="137.6" y="232.68" width="25.9" height="4.32" fill="#feeca3"/>
<rect x="163.5" y="232.68" width="25.9" height="4.32" fill="#d5ecf4"/>
<rect x="189.4" y="232.68" width="25.9" height="4.32" fill="#ebf7e3"/>
<rect x="215.3" y="232.68" width="25.9" height="4.32" fill="#9ec8e0"/>
<rect x="241.2" y="232.68" width="25.9" height="4.32" fill="#9ec8e0"/>
<rect x="267.1" y="232.68" width="25.9" height="4.32" fill="#d5ecf4"/>
<rect x="34" y="237" width="25.9" height="4.32" fill="#feeca3"/>
<rect x="59.9" y="237" width="25.9" height="4.32" fill="#fdb473"/>
<rect x="85.8" y="237" width="25.9" height="4.32" fill="#fdb473"/>
<rect x="111.7" y="237" width="25.9" height="4.32" fill="#fed287"/>
<rect x="137.6" y="237" width="25.9" height="4.32" fill="#fed287"/>
<rect x="163.5" y="237" width="25.9" height="4.32" fill="#f8fccc"/>
<rect x="189.4" y="237" width="25.9" height="4.32" fill="#d5ecf4"/>
<rect x="215.3" y="237" width="25.9" height="4.32" fill="#9ec8e0"/>
<rect x="241.2" y="237" width="25.9" height="4.32" fill="#d5ecf4"/>
<rect x="267.1" y="237" width="25.9" height="4.32" fill="#9ec8e0"/>
<rect x="34" y="241.31" width="25.9" height="4.32" fill="#fffdbc"/>
<rect x="59.9" y="241.31" width="25.9" height="4.32" fill="#fed287"/>
<rect x="85.8" y="241.31" width="25.9" height="4.32" fill="#fc9e64"/>
<rect x="111.7" y="241.31" width="25.9" height="4.32" fill="#feeca3"/>
<rect x="137.6" y="241.31" width="25.9" height="4.32" fill="#feeca3"/>
<rect x="163.5" y="241.31" width="25.9" height="4.32" fill="#d5ecf4"/>
<rect x="189.4" y="241.31" width="25.9" height="4.32" fill="#d5ecf4"/>
<rect x="215.3" y="241.31" width="25.9" height="4.32" fill="#9ec8e0"/>
<rect x="241.2" y="241.31" width="25.9" height="4.32" fill="#9ec8e0"/>
<rect x="267.1" y="241.31" width="25.9" height="4.32" fill="#fffdbc"/>
<rect x="34" y="245.63" width="25.9" height="4.32" fill="#fffdbc"/>
<rect x="59.9" y="245.63" width="25.9" height="4.32" fill="#fed287"/>
<rect x="85.8" y="245.63" width="25.9" height="4.32" fill="#fdb473"/>
<rect x="111.7" y="245.63" width="25.9" height="4.32" fill="#fed287"/>
<rect x="137.6" y="245.63" width="25.9" height="4.32" fill="#fed287"/>
<rect x="163.5" y="245.63" width="25.9" height="4.32" fill="#d5ecf4"/>
<rect x="189.4" y="245.63" width="25.9" height="4.32" fill="#f8fccc"/>
<rect x="215.3" y="245.63" width="25.9" height="4.32" fill="#d5ecf4"/>
<rect x="241.2" y="245.63" width="25.9" height="4.32" fill="#73a1cb"/>
<rect x="267.1" y="245.63" width="25.9" height="4.32" fill="#d5ecf4"/>
<rect x="34" y="51" width="25.9" height="3.4" fill="#fc877d"/>
<rect x="34" y="55.3" width="25.9" height="3.35" fill="#79b1fc"/>
<rect x="59.9" y="51" width="25.9" height="3.4" fill="#fc877d"/>
<rect x="59.9" y="55.3" width="25.9" height="3.35" fill="#79b1fc"/>
<rect x="85.8" y="51" width="25.9" height="3.4" fill="#fc877d"/>
<rect x="85.8" y="55.3" width="25.9" height="3.35" fill="#79b1fc"/>
<rect x="111.7" y="51" width="25.9" height="3.4" fill="#fc877d"/>
<rect x="111.7" y="55.3" width="25.9" height="3.35" fill="#79b1fc"/>
<rect x="137.6" y="51" width="25.9" height="3.4" fill="#fc877d"/>
<rect x="137.6" y="55.3" width="25.9" height="3.35" fill="#79b1fc"/>
<rect x="163.5" y="51" width="25.9" height="3.4" fill="#fc877d"/>
<rect x="163.5" y="55.3" width="25.9" height="3.35" fill="#02d456"/>
<rect x="189.4" y="51" width="25.9" height="3.4" fill="#fc877d"/>
<rect x="189.4" y="55.3" width="25.9" height="3.35" fill="#02d456"/>
<rect x="215.3" y="51" width="25.9" height="3.4" fill="#fc877d"/>
<rect x="215.3" y="55.3" width="25.9" height="3.35" fill="#02d456"/>
<rect x="241.2" y="51" width="25.9" height="3.4" fill="#fc877d"/>
<rect x="241.2" y="55.3" width="25.9" height="3.35" fill="#02d456"/>
<rect x="267.1" y="51" width="25.9" height="3.4" fill="#fc877d"/>
<rect x="267.1" y="55.3" width="25.9" height="3.35" fill="#02d456"/>
</g>
<g stroke="#6a6a6a" stroke-width="0.75" stroke-linecap="square">
<line x1="124.65" y1="44.3" x2="150.55" y2="44.3"/>
<line x1="124.65" y1="44.3" x2="124.65" y2="51"/>
<line x1="150.55" y1="44.3" x2="150.55" y2="51"/>
<line x1="98.75" y1="43.1" x2="137.6" y2="43.1"/>
<line x1="98.75" y1="43.1" x2="98.75" y2="51"/>
<line x1="137.6" y1="43.1" x2="137.6" y2="44.3"/>
<line x1="72.85" y1="41.7" x2="118.17" y2="41.7"/>
<line x1="72.85" y1="41.7" x2="72.85" y2="51"/>
<line x1="118.17" y1="41.7" x2="118.17" y2="43.1"/>
<line x1="46.95" y1="37.9" x2="95.51" y2="37.9"/>
<line x1="46.95" y1="37.9" x2="46.95" y2="51"/>
<line x1="95.51" y1="37.9" x2="95.51" y2="41.7"/>
<line x1="176.45" y1="43.6" x2="202.35" y2="43.6"/>
<line x1="176.45" y1="43.6" x2="176.45" y2="51"/>
<line x1="202.35" y1="43.6" x2="202.35" y2="51"/>
<line x1="254.15" y1="42.3" x2="280.05" y2="42.3"/>
<line x1="254.15" y1="42.3" x2="254.15" y2="51"/>
<line x1="280.05" y1="42.3" x2="280.05" y2="51"/>
<line x1="228.25" y1="39.4" x2="267.1" y2="39.4"/>
<line x1="228.25" y1="39.4" x2="228.25" y2="51"/>
<line x1="267.1" y1="39.4" x2="267.1" y2="42.3"/>
<line x1="189.4" y1="37.4" x2="247.67" y2="37.4"/>
<line x1="189.4" y1="37.4" x2="189.4" y2="43.6"/>
<line x1="247.67" y1="37.4" x2="247.67" y2="39.4"/>
<line x1="71.23" y1="24.2" x2="218.54" y2="24.2"/>
<line x1="71.23" y1="24.2" x2="71.23" y2="37.9"/>
<line x1="218.54" y1="24.2" x2="218.54" y2="37.4"/>
<line x1="29.1" y1="62.16" x2="29.1" y2="66.48"/>
<line x1="29.1" y1="62.16" x2="33.6" y2="62.16"/>
<line x1="29.1" y1="66.48" x2="33.6" y2="66.48"/>
<line x1="30.22" y1="75.11" x2="30.22" y2="79.43"/>
<line x1="30.22" y1="75.11" x2="33.6" y2="75.11"/>
<line x1="30.22" y1="79.43" x2="33.6" y2="79.43"/>
<line x1="25.92" y1="70.79" x2="25.92" y2="77.27"/>
<line x1="25.92" y1="70.79" x2="33.6" y2="70.79"/>
<line x1="25.92" y1="77.27" x2="30.22" y2="77.27"/>
<line x1="29.97" y1="83.74" x2="29.97" y2="88.06"/>
<line x1="29.97" y1="83.74" x2="33.6" y2="83.74"/>
<line x1="29.97" y1="88.06" x2="33.6" y2="88.06"/>
<line x1="29.44" y1="85.9" x2="29.44" y2="92.38"/>
<line x1="29.44" y1="85.9" x2="29.97" y2="85.9"/>
<line x1="29.44" y1="92.38" x2="33.6" y2="92.38"/>
<line x1="26.19" y1="89.14" x2="26.19" y2="96.69"/>
<line x1="26.19" y1="89.14" x2="29.44" y2="89.14"/>
<line x1="26.19" y1="96.69" x2="33.6" y2="96.69"/>
<line x1="31.12" y1="105.33" x2="31.12" y2="109.65"/>
<line x1="31.12" y1="105.33" x2="33.6" y2="105.33"/>
<line x1="31.12" y1="109.65" x2="33.6" y2="109.65"/>
<line x1="28.79" y1="101.01" x2="28.79" y2="107.49"/>
<line x1="28.79" y1="101.01" x2="33.6" y2="101.01"/>
<line x1="28.79" y1="107.49" x2="31.12" y2="107.49"/>
<line x1="30.79" y1="118.28" x2="30.79" y2="122.6"/>
<line x1="30.79" y1="118.28" x2="33.6" y2="118.28"/>
<line x1="30.79" y1="122.6" x2="33.6" y2="122.6"/>
<line x1="27.84" y1="113.96" x2="27.84" y2="120.44"/>
<line x1="27.84" y1="113.96" x2="33.6" y2="113.96"/>
<line x1="27.84" y1="120.44" x2="30.79" y2="120.44"/>
<line x1="24.39" y1="104.25" x2="24.39" y2="117.2"/>
<line x1="24.39" y1="104.25" x2="28.79" y2="104.25"/>
<line x1="24.39" y1="117.2" x2="27.84" y2="117.2"/>
<line x1="19.85" y1="92.92" x2="19.85" y2="110.72"/>
<line x1="19.85" y1="92.92" x2="26.19" y2="92.92"/>
<line x1="19.85" y1="110.72" x2="24.39" y2="110.72"/>
<line x1="19.48" y1="74.03" x2="19.48" y2="101.82"/>
<line x1="19.48" y1="74.03" x2="25.92" y2="74.03"/>
<line x1="19.48" y1="101.82" x2="19.85" y2="101.82"/>
<line x1="19.1" y1="64.32" x2="19.1" y2="87.93"/>
<line x1="19.1" y1="64.32" x2="29.1" y2="64.32"/>
<line x1="19.1" y1="87.93" x2="19.48" y2="87.93"/>
<line x1="27.23" y1="126.91" x2="27.23" y2="131.23"/>
<line x1="27.23" y1="126.91" x2="33.6" y2="126.91"/>
<line x1="27.23" y1="131.23" x2="33.6" y2="131.23"/>
<line x1="31.8" y1="139.86" x2="31.8" y2="144.18"/>
<line x1="31.8" y1="139.86" x2="33.6" y2="139.86"/>
<line x1="31.8" y1="144.18" x2="33.6" y2="144.18"/>
<line x1="27.63" y1="142.02" x2="27.63" y2="148.5"/>
<line x1="27.63" y1="142.02" x2="31.8" y2="142.02"/>
<line x1="27.63" y1="148.5" x2="33.6" y2="148.5"/>
<line x1="25.57" y1="135.55" x2="25.57" y2="145.26"/>
<line x1="25.57" y1="135.55" x2="33.6" y2="135.55"/>
<line x1="25.57" y1="145.26" x2="27.63" y2="145.26"/>
<line x1="24.26" y1="129.07" x2="24.26" y2="140.4"/>
<line x1="24.26" y1="129.07" x2="27.23" y2="129.07"/>
<line x1="24.26" y1="140.4" x2="25.57" y2="140.4"/>
<line x1="30.9" y1="152.82" x2="30.9" y2="157.13"/>
<line x1="30.9" y1="152.82" x2="33.6" y2="152.82"/>
<line x1="30.9" y1="157.13" x2="33.6" y2="157.13"/>
<line x1="27.98" y1="161.45" x2="27.98" y2="165.77"/>
<line x1="27.98" y1="161.45" x2="33.6" y2="161.45"/>
<line x1="27.98" y1="165.77" x2="33.6" y2="165.77"/>
<line x1="30.35" y1="170.08" x2="30.35" y2="174.4"/>
<line x1="30.35" y1="170.08" x2="33.6" y2="170.08"/>
<line x1="30.35" y1="174.4" x2="33.6" y2="174.4"/>
<line x1="25.01" y1="163.61" x2="25.01" y2="172.24"/>
<line x1="25.01" y1="163.61" x2="27.98" y2="163.61"/>
<line x1="25.01" y1="172.24" x2="30.35" y2="172.24"/>
<line x1="24.65" y1="154.97" x2="24.65" y2="167.93"/>
<line x1="24.65" y1="154.97" x2="30.9" y2="154.97"/>
<line x1="24.65" y1="167.93" x2="25.01" y2="167.93"/>
<line x1="27.36" y1="178.72" x2="27.36" y2="183.03"/>
<line x1="27.36" y1="178.72" x2="33.6" y2="178.72"/>
<line x1="27.36" y1="183.03" x2="33.6" y2="183.03"/>
<line x1="24.29" y1="161.45" x2="24.29" y2="180.88"/>
<line x1="24.29" y1="161.45" x2="24.65" y2="161.45"/>
<line x1="24.29" y1="180.88" x2="27.36" y2="180.88"/>
<line x1="29.38" y1="195.99" x2="29.38" y2="200.3"/>
<line x1="29.38" y1="195.99" x2="33.6" y2="195.99"/>
<line x1="29.38" y1="200.3" x2="33.6" y2="200.3"/>
<line x1="28.45" y1="191.67" x2="28.45" y2="198.14"/>
<line x1="28.45" y1="191.67" x2="33.6" y2="191.67"/>
<line x1="28.45" y1="198.14" x2="29.38" y2="198.14"/>
<line x1="24.54" y1="187.35" x2="24.54" y2="194.91"/>
<line x1="24.54" y1="187.35" x2="33.6" y2="187.35"/>
<line x1="24.54" y1="194.91" x2="28.45" y2="194.91"/>
<line x1="28.51" y1="208.94" x2="28.51" y2="213.25"/>
<line x1="28.51" y1="208.94" x2="33.6" y2="208.94"/>
<line x1="28.51" y1="213.25" x2="33.6" y2="213.25"/>
<line x1="28.15" y1="204.62" x2="28.15" y2="211.09"/>
<line x1="28.15" y1="204.62" x2="33.6" y2="204.62"/>
<line x1="28.15" y1="211.09" x2="28.51" y2="211.09"/>
<line x1="27.62" y1="207.86" x2="27.62" y2="217.57"/>
<line x1="27.62" y1="207.86" x2="28.15" y2="207.86"/>
<line x1="27.62" y1="217.57" x2="33.6" y2="217.57"/>
<line x1="28.83" y1="226.2" x2="28.83" y2="230.52"/>
<line x1="28.83" y1="226.2" x2="33.6" y2="226.2"/>
<line x1="28.83" y1="230.52" x2="33.6" y2="230.52"/>
<line x1="28.47" y1="221.89" x2="28.47" y2="228.36"/>
<line x1="28.47" y1="221.89" x2="33.6" y2="221.89"/>
<line x1="28.47" y1="228.36" x2="28.83" y2="228.36"/>
<line x1="30.11" y1="234.84" x2="30.11" y2="239.16"/>
<line x1="30.11" y1="234.84" x2="33.6" y2="234.84"/>
<line x1="30.11" y1="239.16" x2="33.6" y2="239.16"/>
<line x1="29.19" y1="243.47" x2="29.19" y2="247.79"/>
<line x1="29.19" y1="243.47" x2="33.6" y2="243.47"/>
<line x1="29.19" y1="247.79" x2="33.6" y2="247.79"/>
<line x1="28.47" y1="237" x2="28.47" y2="245.63"/>
<line x1="28.47" y1="237" x2="30.11" y2="237"/>
<line x1="28.47" y1="245.63" x2="29.19" y2="245.63"/>
<line x1="24.98" y1="225.13" x2="24.98" y2="241.31"/>
<line x1="24.98" y1="225.13" x2="28.47" y2="225.13"/>
<line x1="24.98" y1="241.31" x2="28.47" y2="241.31"/>
<line x1="22.58" y1="212.71" x2="22.58" y2="233.22"/>
<line x1="22.58" y1="212.71" x2="27.62" y2="212.71"/>
<line x1="22.58" y1="233.22" x2="24.98" y2="233.22"/>
<line x1="22.22" y1="191.13" x2="22.22" y2="222.97"/>
<line x1="22.22" y1="191.13" x2="24.54" y2="191.13"/>
<line x1="22.22" y1="222.97" x2="22.58" y2="222.97"/>
<line x1="21.07" y1="171.16" x2="21.07" y2="207.05"/>
<line x1="21.07" y1="171.16" x2="24.29" y2="171.16"/>
<line x1="21.07" y1="207.05" x2="22.22" y2="207.05"/>
<line x1="18.6" y1="134.74" x2="18.6" y2="189.11"/>
<line x1="18.6" y1="134.74" x2="24.26" y2="134.74"/>
<line x1="18.6" y1="189.11" x2="21.07" y2="189.11"/>
<line x1="8.2" y1="76.12" x2="8.2" y2="161.92"/>
<line x1="8.2" y1="76.12" x2="19.1" y2="76.12"/>
<line x1="8.2" y1="161.92" x2="18.6" y2="161.92"/>
</g>
<g transform="translate(295,0) scale(0.8,1)" fill="#1e1e1e" stroke="#1e1e1e" stroke-width="0.06">
<text x="0" y="54.32" font-size="3.6" text-anchor="start" fill="#1e1e1e" >Stim</text>
<text x="0" y="58.59" font-size="3.6" text-anchor="start" fill="#1e1e1e" >CD16</text>
<text x="0" y="63.96" font-size="3.6" text-anchor="start" fill="#1e1e1e" >MSX1</text>
<text x="0" y="68.28" font-size="3.6" text-anchor="start" fill="#1e1e1e" >MEF2C</text>
<text x="0" y="72.59" font-size="3.6" text-anchor="start" fill="#1e1e1e" >PCGF3</text>
<text x="0" y="76.91" font-size="3.6" text-anchor="start" fill="#1e1e1e" >WT1</text>
<text x="0" y="81.23" font-size="3.6" text-anchor="start" fill="#1e1e1e" >CCND1</text>
<text x="0" y="85.54" font-size="3.6" text-anchor="start" fill="#1e1e1e" >PPARG</text>
<text x="0" y="89.86" font-size="3.6" text-anchor="start" fill="#1e1e1e" >RGCC</text>
<text x="0" y="94.18" font-size="3.6" text-anchor="start" fill="#1e1e1e" >TCF7L2</text>
<text x="0" y="98.49" font-size="3.6" text-anchor="start" fill="#1e1e1e" >ZNF703</text>
<text x="0" y="102.81" font-size="3.6" text-anchor="start" fill="#1e1e1e" >BHLHE41</text>
<text x="0" y="107.13" font-size="3.6" text-anchor="start" fill="#1e1e1e" >ETV5</text>
<text x="0" y="111.45" font-size="3.6" text-anchor="start" fill="#1e1e1e" >TLE1</text>
<text x="0" y="115.76" font-size="3.6" text-anchor="start" fill="#1e1e1e" >FOXO1</text>
<text x="0" y="120.08" font-size="3.6" text-anchor="start" fill="#1e1e1e" >HIPK2</text>
<text x="0" y="124.4" font-size="3.6" text-anchor="start" fill="#1e1e1e" >ATF3</text>
<text x="0" y="128.71" font-size="3.6" text-anchor="start" fill="#1e1e1e" >SNAI1</text>
<text x="0" y="133.03" font-size="3.6" text-anchor="start" fill="#1e1e1e" >ID1</text>
<text x="0" y="137.35" font-size="3.6" text-anchor="start" fill="#1e1e1e" >EIF2AK2</text>
<text x="0" y="141.66" font-size="3.6" text-anchor="start" fill="#1e1e1e" >NFE2</text>
<text x="0" y="145.98" font-size="3.6" text-anchor="start" fill="#1e1e1e" >ETV6</text>
<text x="0" y="150.3" font-size="3.6" text-anchor="start" fill="#1e1e1e" >MYBL1</text>
<text x="0" y="154.62" font-size="3.6" text-anchor="start" fill="#1e1e1e" >PTGER3</text>
<text x="0" y="158.93" font-size="3.6" text-anchor="start" fill="#1e1e1e" >DDIT3</text>
<text x="0" y="163.25" font-size="3.6" text-anchor="start" fill="#1e1e1e" >ZNF268</text>
<text x="0" y="167.57" font-size="3.6" text-anchor="start" fill="#1e1e1e" >E2F6</text>
<text x="0" y="171.88" font-size="3.6" text-anchor="start" fill="#1e1e1e" >TAF4B</text>
<text x="0" y="176.2" font-size="3.6" text-anchor="start" fill="#1e1e1e" >ZNF583</text>
<text x="0" y="180.52" font-size="3.6" text-anchor="start" fill="#1e1e1e" >NFKL1</text>
<text x="0" y="184.83" font-size="3.6" text-anchor="start" fill="#1e1e1e" >IKZF4</text>
<text x="0" y="189.15" font-size="3.6" text-anchor="start" fill="#1e1e1e" >FOXQ1</text>
<text x="0" y="193.47" font-size="3.6" text-anchor="start" fill="#1e1e1e" >TAF4B</text>
<text x="0" y="197.79" font-size="3.6" text-anchor="start" fill="#1e1e1e" >PCMTD2</text>
<text x="0" y="202.1" font-size="3.6" text-anchor="start" fill="#1e1e1e" >GTF2F2</text>
<text x="0" y="206.42" font-size="3.6" text-anchor="start" fill="#1e1e1e" >GLIS2</text>
<text x="0" y="210.74" font-size="3.6" text-anchor="start" fill="#1e1e1e" >TRIM15</text>
<text x="0" y="215.05" font-size="3.6" text-anchor="start" fill="#1e1e1e" >HR</text>
<text x="0" y="219.37" font-size="3.6" text-anchor="start" fill="#1e1e1e" >CREB3L1</text>
<text x="0" y="223.69" font-size="3.6" text-anchor="start" fill="#1e1e1e" >CD38</text>
<text x="0" y="228" font-size="3.6" text-anchor="start" fill="#1e1e1e" >CBFB</text>
<text x="0" y="232.32" font-size="3.6" text-anchor="start" fill="#1e1e1e" >KIT</text>
<text x="0" y="236.64" font-size="3.6" text-anchor="start" fill="#1e1e1e" >CDH1</text>
<text x="0" y="240.96" font-size="3.6" text-anchor="start" fill="#1e1e1e" >TRAF3IP</text>
<text x="0" y="245.27" font-size="3.6" text-anchor="start" fill="#1e1e1e" >HIF1A</text>
<text x="0" y="249.59" font-size="3.6" text-anchor="start" fill="#1e1e1e" >RB1</text>
</g>
<g stroke="#a8a8a8" stroke-width="0.3">
<rect x="32.5" y="318.8" width="21.95" height="5.7" fill="#f8fccc"/>
<rect x="54.45" y="318.8" width="21.95" height="5.7" fill="#9ec8e0"/>
<rect x="76.4" y="318.8" width="21.95" height="5.7" fill="#b8d9ea"/>
<rect x="98.35" y="318.8" width="21.95" height="5.7" fill="#ebf7e3"/>
<rect x="120.3" y="318.8" width="21.95" height="5.7" fill="#d5ecf4"/>
<rect x="142.25" y="318.8" width="21.95" height="5.7" fill="#fffdbc"/>
<rect x="164.2" y="318.8" width="21.95" height="5.7" fill="#feeca3"/>
<rect x="186.15" y="318.8" width="21.95" height="5.7" fill="#fa8756"/>
<rect x="208.1" y="318.8" width="21.95" height="5.7" fill="#fed287"/>
<rect x="230.05" y="318.8" width="21.95" height="5.7" fill="#fa8756"/>
<rect x="32.5" y="324.5" width="21.95" height="5.7" fill="#b8d9ea"/>
<rect x="54.45" y="324.5" width="21.95" height="5.7" fill="#b8d9ea"/>
<rect x="76.4" y="324.5" width="21.95" height="5.7" fill="#d5ecf4"/>
<rect x="98.35" y="324.5" width="21.95" height="5.7" fill="#f8fccc"/>
<rect x="120.3" y="324.5" width="21.95" height="5.7" fill="#ebf7e3"/>
<rect x="142.25" y="324.5" width="21.95" height="5.7" fill="#fffdbc"/>
<rect x="164.2" y="324.5" width="21.95" height="5.7" fill="#fffdbc"/>
<rect x="186.15" y="324.5" width="21.95" height="5.7" fill="#ec6543"/>
<rect x="208.1" y="324.5" width="21.95" height="5.7" fill="#fdb473"/>
<rect x="230.05" y="324.5" width="21.95" height="5.7" fill="#fdb473"/>
<rect x="32.5" y="330.2" width="21.95" height="5.7" fill="#9ec8e0"/>
<rect x="54.45" y="330.2" width="21.95" height="5.7" fill="#9ec8e0"/>
<rect x="76.4" y="330.2" width="21.95" height="5.7" fill="#d5ecf4"/>
<rect x="98.35" y="330.2" width="21.95" height="5.7" fill="#ebf7e3"/>
<rect x="120.3" y="330.2" width="21.95" height="5.7" fill="#fffdbc"/>
<rect x="142.25" y="330.2" width="21.95" height="5.7" fill="#fffdbc"/>
<rect x="164.2" y="330.2" width="21.95" height="5.7" fill="#feeca3"/>
<rect x="186.15" y="330.2" width="21.95" height="5.7" fill="#fc9e64"/>
<rect x="208.1" y="330.2" width="21.95" height="5.7" fill="#fdb473"/>
<rect x="230.05" y="330.2" width="21.95" height="5.7" fill="#fa8756"/>
<rect x="32.5" y="335.9" width="21.95" height="5.7" fill="#d5ecf4"/>
<rect x="54.45" y="335.9" width="21.95" height="5.7" fill="#9ec8e0"/>
<rect x="76.4" y="335.9" width="21.95" height="5.7" fill="#ebf7e3"/>
<rect x="98.35" y="335.9" width="21.95" height="5.7" fill="#d5ecf4"/>
<rect x="120.3" y="335.9" width="21.95" height="5.7" fill="#ebf7e3"/>
<rect x="142.25" y="335.9" width="21.95" height="5.7" fill="#feeca3"/>
<rect x="164.2" y="335.9" width="21.95" height="5.7" fill="#fffdbc"/>
<rect x="186.15" y="335.9" width="21.95" height="5.7" fill="#e24c36"/>
<rect x="208.1" y="335.9" width="21.95" height="5.7" fill="#fed287"/>
<rect x="230.05" y="335.9" width="21.95" height="5.7" fill="#fdb473"/>
<rect x="32.5" y="341.6" width="21.95" height="5.7" fill="#d5ecf4"/>
<rect x="54.45" y="341.6" width="21.95" height="5.7" fill="#b8d9ea"/>
<rect x="76.4" y="341.6" width="21.95" height="5.7" fill="#f8fccc"/>
<rect x="98.35" y="341.6" width="21.95" height="5.7" fill="#b8d9ea"/>
<rect x="120.3" y="341.6" width="21.95" height="5.7" fill="#ebf7e3"/>
<rect x="142.25" y="341.6" width="21.95" height="5.7" fill="#f8fccc"/>
<rect x="164.2" y="341.6" width="21.95" height="5.7" fill="#f8fccc"/>
<rect x="186.15" y="341.6" width="21.95" height="5.7" fill="#d73027"/>
<rect x="208.1" y="341.6" width="21.95" height="5.7" fill="#fdb473"/>
<rect x="230.05" y="341.6" width="21.95" height="5.7" fill="#fdb473"/>
<rect x="32.5" y="347.3" width="21.95" height="5.7" fill="#f8fccc"/>
<rect x="54.45" y="347.3" width="21.95" height="5.7" fill="#b8d9ea"/>
<rect x="76.4" y="347.3" width="21.95" height="5.7" fill="#d5ecf4"/>
<rect x="98.35" y="347.3" width="21.95" height="5.7" fill="#d5ecf4"/>
<rect x="120.3" y="347.3" width="21.95" height="5.7" fill="#fffdbc"/>
<rect x="142.25" y="347.3" width="21.95" height="5.7" fill="#d5ecf4"/>
<rect x="164.2" y="347.3" width="21.95" height="5.7" fill="#f8fccc"/>
<rect x="186.15" y="347.3" width="21.95" height="5.7" fill="#e24c36"/>
<rect x="208.1" y="347.3" width="21.95" height="5.7" fill="#fed287"/>
<rect x="230.05" y="347.3" width="21.95" height="5.7" fill="#fa8756"/>
<rect x="32.5" y="353" width="21.95" height="5.7" fill="#d5ecf4"/>
<rect x="54.45" y="353" width="21.95" height="5.7" fill="#d5ecf4"/>
<rect x="76.4" y="353" width="21.95" height="5.7" fill="#b8d9ea"/>
<rect x="98.35" y="353" width="21.95" height="5.7" fill="#d5ecf4"/>
<rect x="120.3" y="353" width="21.95" height="5.7" fill="#fffdbc"/>
<rect x="142.25" y="353" width="21.95" height="5.7" fill="#fffdbc"/>
<rect x="164.2" y="353" width="21.95" height="5.7" fill="#f8fccc"/>
<rect x="186.15" y="353" width="21.95" height="5.7" fill="#fa8756"/>
<rect x="208.1" y="353" width="21.95" height="5.7" fill="#fffdbc"/>
<rect x="230.05" y="353" width="21.95" height="5.7" fill="#e24c36"/>
<rect x="32.5" y="358.7" width="21.95" height="5.7" fill="#9ec8e0"/>
<rect x="54.45" y="358.7" width="21.95" height="5.7" fill="#f8fccc"/>
<rect x="76.4" y="358.7" width="21.95" height="5.7" fill="#fffdbc"/>
<rect x="98.35" y="358.7" width="21.95" height="5.7" fill="#d5ecf4"/>
<rect x="120.3" y="358.7" width="21.95" height="5.7" fill="#9ec8e0"/>
<rect x="142.25" y="358.7" width="21.95" height="5.7" fill="#feeca3"/>
<rect x="164.2" y="358.7" width="21.95" height="5.7" fill="#d5ecf4"/>
<rect x="186.15" y="358.7" width="21.95" height="5.7" fill="#fed287"/>
<rect x="208.1" y="358.7" width="21.95" height="5.7" fill="#fdb473"/>
<rect x="230.05" y="358.7" width="21.95" height="5.7" fill="#ec6543"/>
<rect x="32.5" y="364.4" width="21.95" height="5.7" fill="#ebf7e3"/>
<rect x="54.45" y="364.4" width="21.95" height="5.7" fill="#b8d9ea"/>
<rect x="76.4" y="364.4" width="21.95" height="5.7" fill="#fffdbc"/>
<rect x="98.35" y="364.4" width="21.95" height="5.7" fill="#9ec8e0"/>
<rect x="120.3" y="364.4" width="21.95" height="5.7" fill="#d5ecf4"/>
<rect x="142.25" y="364.4" width="21.95" height="5.7" fill="#feeca3"/>
<rect x="164.2" y="364.4" width="21.95" height="5.7" fill="#ebf7e3"/>
<rect x="186.15" y="364.4" width="21.95" height="5.7" fill="#fa8756"/>
<rect x="208.1" y="364.4" width="21.95" height="5.7" fill="#fdb473"/>
<rect x="230.05" y="364.4" width="21.95" height="5.7" fill="#fa8756"/>
<rect x="32.5" y="370.1" width="21.95" height="5.7" fill="#f8fccc"/>
<rect x="54.45" y="370.1" width="21.95" height="5.7" fill="#d5ecf4"/>
<rect x="76.4" y="370.1" width="21.95" height="5.7" fill="#d5ecf4"/>
<rect x="98.35" y="370.1" width="21.95" height="5.7" fill="#5c8bc0"/>
<rect x="120.3" y="370.1" width="21.95" height="5.7" fill="#ebf7e3"/>
<rect x="142.25" y="370.1" width="21.95" height="5.7" fill="#feeca3"/>
<rect x="164.2" y="370.1" width="21.95" height="5.7" fill="#fffdbc"/>
<rect x="186.15" y="370.1" width="21.95" height="5.7" fill="#fc9e64"/>
<rect x="208.1" y="370.1" width="21.95" height="5.7" fill="#fdb473"/>
<rect x="230.05" y="370.1" width="21.95" height="5.7" fill="#fc9e64"/>
<rect x="32.5" y="375.8" width="21.95" height="5.7" fill="#f8fccc"/>
<rect x="54.45" y="375.8" width="21.95" height="5.7" fill="#d5ecf4"/>
<rect x="76.4" y="375.8" width="21.95" height="5.7" fill="#ebf7e3"/>
<rect x="98.35" y="375.8" width="21.95" height="5.7" fill="#73a1cb"/>
<rect x="120.3" y="375.8" width="21.95" height="5.7" fill="#d5ecf4"/>
<rect x="142.25" y="375.8" width="21.95" height="5.7" fill="#f8fccc"/>
<rect x="164.2" y="375.8" width="21.95" height="5.7" fill="#feeca3"/>
<rect x="186.15" y="375.8" width="21.95" height="5.7" fill="#fdb473"/>
<rect x="208.1" y="375.8" width="21.95" height="5.7" fill="#fdb473"/>
<rect x="230.05" y="375.8" width="21.95" height="5.7" fill="#fa8756"/>
<rect x="32.5" y="381.5" width="21.95" height="5.7" fill="#b8d9ea"/>
<rect x="54.45" y="381.5" width="21.95" height="5.7" fill="#ebf7e3"/>
<rect x="76.4" y="381.5" width="21.95" height="5.7" fill="#ebf7e3"/>
<rect x="98.35" y="381.5" width="21.95" height="5.7" fill="#73a1cb"/>
<rect x="120.3" y="381.5" width="21.95" height="5.7" fill="#d5ecf4"/>
<rect x="142.25" y="381.5" width="21.95" height="5.7" fill="#fdb473"/>
<rect x="164.2" y="381.5" width="21.95" height="5.7" fill="#fed287"/>
<rect x="186.15" y="381.5" width="21.95" height="5.7" fill="#fdb473"/>
<rect x="208.1" y="381.5" width="21.95" height="5.7" fill="#fdb473"/>
<rect x="230.05" y="381.5" width="21.95" height="5.7" fill="#fdb473"/>
<rect x="32.5" y="387.2" width="21.95" height="5.7" fill="#d5ecf4"/>
<rect x="54.45" y="387.2" width="21.95" height="5.7" fill="#b8d9ea"/>
<rect x="76.4" y="387.2" width="21.95" height="5.7" fill="#d5ecf4"/>
<rect x="98.35" y="387.2" width="21.95" height="5.7" fill="#b8d9ea"/>
<rect x="120.3" y="387.2" width="21.95" height="5.7" fill="#ebf7e3"/>
<rect x="142.25" y="387.2" width="21.95" height="5.7" fill="#feeca3"/>
<rect x="164.2" y="387.2" width="21.95" height="5.7" fill="#fffdbc"/>
<rect x="186.15" y="387.2" width="21.95" height="5.7" fill="#feeca3"/>
<rect x="208.1" y="387.2" width="21.95" height="5.7" fill="#ec6543"/>
<rect x="230.05" y="387.2" width="21.95" height="5.7" fill="#fa8756"/>
<rect x="32.5" y="392.9" width="21.95" height="5.7" fill="#d5ecf4"/>
<rect x="54.45" y="392.9" width="21.95" height="5.7" fill="#d5ecf4"/>
<rect x="76.4" y="392.9" width="21.95" height="5.7" fill="#fffdbc"/>
<rect x="98.35" y="392.9" width="21.95" height="5.7" fill="#73a1cb"/>
<rect x="120.3" y="392.9" width="21.95" height="5.7" fill="#ebf7e3"/>
<rect x="142.25" y="392.9" width="21.95" height="5.7" fill="#feeca3"/>
<rect x="164.2" y="392.9" width="21.95" height="5.7" fill="#fffdbc"/>
<rect x="186.15" y="392.9" width="21.95" height="5.7" fill="#feeca3"/>
<rect x="208.1" y="392.9" width="21.95" height="5.7" fill="#fc9e64"/>
<rect x="230.05" y="392.9" width="21.95" height="5.7" fill="#ec6543"/>
<rect x="32.5" y="398.6" width="21.95" height="5.7" fill="#f8fccc"/>
<rect x="54.45" y="398.6" width="21.95" height="5.7" fill="#fdb473"/>
<rect x="76.4" y="398.6" width="21.95" height="5.7" fill="#fed287"/>
<rect x="98.35" y="398.6" width="21.95" height="5.7" fill="#fed287"/>
<rect x="120.3" y="398.6" width="21.95" height="5.7" fill="#fdb473"/>
<rect x="142.25" y="398.6" width="21.95" height="5.7" fill="#73a1cb"/>
<rect x="164.2" y="398.6" width="21.95" height="5.7" fill="#9ec8e0"/>
<rect x="186.15" y="398.6" width="21.95" height="5.7" fill="#feeca3"/>
<rect x="208.1" y="398.6" width="21.95" height="5.7" fill="#ebf7e3"/>
<rect x="230.05" y="398.6" width="21.95" height="5.7" fill="#feeca3"/>
<rect x="32.5" y="404.3" width="21.95" height="5.7" fill="#ebf7e3"/>
<rect x="54.45" y="404.3" width="21.95" height="5.7" fill="#fc9e64"/>
<rect x="76.4" y="404.3" width="21.95" height="5.7" fill="#fed287"/>
<rect x="98.35" y="404.3" width="21.95" height="5.7" fill="#fa8756"/>
<rect x="120.3" y="404.3" width="21.95" height="5.7" fill="#fdb473"/>
<rect x="142.25" y="404.3" width="21.95" height="5.7" fill="#d5ecf4"/>
<rect x="164.2" y="404.3" width="21.95" height="5.7" fill="#f8fccc"/>
<rect x="186.15" y="404.3" width="21.95" height="5.7" fill="#d5ecf4"/>
<rect x="208.1" y="404.3" width="21.95" height="5.7" fill="#b8d9ea"/>
<rect x="230.05" y="404.3" width="21.95" height="5.7" fill="#9ec8e0"/>
<rect x="32.5" y="410" width="21.95" height="5.7" fill="#feeca3"/>
<rect x="54.45" y="410" width="21.95" height="5.7" fill="#fed287"/>
<rect x="76.4" y="410" width="21.95" height="5.7" fill="#fffdbc"/>
<rect x="98.35" y="410" width="21.95" height="5.7" fill="#fa8756"/>
<rect x="120.3" y="410" width="21.95" height="5.7" fill="#ec6543"/>
<rect x="142.25" y="410" width="21.95" height="5.7" fill="#d5ecf4"/>
<rect x="164.2" y="410" width="21.95" height="5.7" fill="#f8fccc"/>
<rect x="186.15" y="410" width="21.95" height="5.7" fill="#d5ecf4"/>
<rect x="208.1" y="410" width="21.95" height="5.7" fill="#9ec8e0"/>
<rect x="230.05" y="410" width="21.95" height="5.7" fill="#b8d9ea"/>
<rect x="32.5" y="415.7" width="21.95" height="5.7" fill="#fffdbc"/>
<rect x="54.45" y="415.7" width="21.95" height="5.7" fill="#fed287"/>
<rect x="76.4" y="415.7" width="21.95" height="5.7" fill="#feeca3"/>
<rect x="98.35" y="415.7" width="21.95" height="5.7" fill="#e24c36"/>
<rect x="120.3" y="415.7" width="21.95" height="5.7" fill="#fdb473"/>
<rect x="142.25" y="415.7" width="21.95" height="5.7" fill="#d5ecf4"/>
<rect x="164.2" y="415.7" width="21.95" height="5.7" fill="#d5ecf4"/>
<rect x="186.15" y="415.7" width="21.95" height="5.7" fill="#b8d9ea"/>
<rect x="208.1" y="415.7" width="21.95" height="5.7" fill="#b8d9ea"/>
<rect x="230.05" y="415.7" width="21.95" height="5.7" fill="#b8d9ea"/>
<rect x="32.5" y="421.4" width="21.95" height="5.7" fill="#fed287"/>
<rect x="54.45" y="421.4" width="21.95" height="5.7" fill="#fa8756"/>
<rect x="76.4" y="421.4" width="21.95" height="5.7" fill="#fed287"/>
<rect x="98.35" y="421.4" width="21.95" height="5.7" fill="#fed287"/>
<rect x="120.3" y="421.4" width="21.95" height="5.7" fill="#fdb473"/>
<rect x="142.25" y="421.4" width="21.95" height="5.7" fill="#b8d9ea"/>
<rect x="164.2" y="421.4" width="21.95" height="5.7" fill="#b8d9ea"/>
<rect x="186.15" y="421.4" width="21.95" height="5.7" fill="#d5ecf4"/>
<rect x="208.1" y="421.4" width="21.95" height="5.7" fill="#9ec8e0"/>
<rect x="230.05" y="421.4" width="21.95" height="5.7" fill="#d5ecf4"/>
<rect x="32.5" y="427.1" width="21.95" height="5.7" fill="#fffdbc"/>
<rect x="54.45" y="427.1" width="21.95" height="5.7" fill="#fdb473"/>
<rect x="76.4" y="427.1" width="21.95" height="5.7" fill="#fdb473"/>
<rect x="98.35" y="427.1" width="21.95" height="5.7" fill="#fc9e64"/>
<rect x="120.3" y="427.1" width="21.95" height="5.7" fill="#fed287"/>
<rect x="142.25" y="427.1" width="21.95" height="5.7" fill="#73a1cb"/>
<rect x="164.2" y="427.1" width="21.95" height="5.7" fill="#d5ecf4"/>
<rect x="186.15" y="427.1" width="21.95" height="5.7" fill="#ebf7e3"/>
<rect x="208.1" y="427.1" width="21.95" height="5.7" fill="#b8d9ea"/>
<rect x="230.05" y="427.1" width="21.95" height="5.7" fill="#ebf7e3"/>
<rect x="32.5" y="432.8" width="21.95" height="5.7" fill="#fdb473"/>
<rect x="54.45" y="432.8" width="21.95" height="5.7" fill="#fdb473"/>
<rect x="76.4" y="432.8" width="21.95" height="5.7" fill="#fed287"/>
<rect x="98.35" y="432.8" width="21.95" height="5.7" fill="#fed287"/>
<rect x="120.3" y="432.8" width="21.95" height="5.7" fill="#fed287"/>
<rect x="142.25" y="432.8" width="21.95" height="5.7" fill="#feeca3"/>
<rect x="164.2" y="432.8" width="21.95" height="5.7" fill="#ebf7e3"/>
<rect x="186.15" y="432.8" width="21.95" height="5.7" fill="#87b5d6"/>
<rect x="208.1" y="432.8" width="21.95" height="5.7" fill="#9ec8e0"/>
<rect x="230.05" y="432.8" width="21.95" height="5.7" fill="#b8d9ea"/>
<rect x="32.5" y="438.5" width="21.95" height="5.7" fill="#feeca3"/>
<rect x="54.45" y="438.5" width="21.95" height="5.7" fill="#fdb473"/>
<rect x="76.4" y="438.5" width="21.95" height="5.7" fill="#fed287"/>
<rect x="98.35" y="438.5" width="21.95" height="5.7" fill="#feeca3"/>
<rect x="120.3" y="438.5" width="21.95" height="5.7" fill="#fed287"/>
<rect x="142.25" y="438.5" width="21.95" height="5.7" fill="#feeca3"/>
<rect x="164.2" y="438.5" width="21.95" height="5.7" fill="#f8fccc"/>
<rect x="186.15" y="438.5" width="21.95" height="5.7" fill="#4f7fb9"/>
<rect x="208.1" y="438.5" width="21.95" height="5.7" fill="#b8d9ea"/>
<rect x="230.05" y="438.5" width="21.95" height="5.7" fill="#ebf7e3"/>
<rect x="32.5" y="444.2" width="21.95" height="5.7" fill="#f8fccc"/>
<rect x="54.45" y="444.2" width="21.95" height="5.7" fill="#fdb473"/>
<rect x="76.4" y="444.2" width="21.95" height="5.7" fill="#fffdbc"/>
<rect x="98.35" y="444.2" width="21.95" height="5.7" fill="#feeca3"/>
<rect x="120.3" y="444.2" width="21.95" height="5.7" fill="#d73027"/>
<rect x="142.25" y="444.2" width="21.95" height="5.7" fill="#d5ecf4"/>
<rect x="164.2" y="444.2" width="21.95" height="5.7" fill="#ebf7e3"/>
<rect x="186.15" y="444.2" width="21.95" height="5.7" fill="#b8d9ea"/>
<rect x="208.1" y="444.2" width="21.95" height="5.7" fill="#d5ecf4"/>
<rect x="230.05" y="444.2" width="21.95" height="5.7" fill="#f8fccc"/>
<rect x="32.5" y="449.9" width="21.95" height="5.7" fill="#fed287"/>
<rect x="54.45" y="449.9" width="21.95" height="5.7" fill="#fed287"/>
<rect x="76.4" y="449.9" width="21.95" height="5.7" fill="#ebf7e3"/>
<rect x="98.35" y="449.9" width="21.95" height="5.7" fill="#fdb473"/>
<rect x="120.3" y="449.9" width="21.95" height="5.7" fill="#fa8756"/>
<rect x="142.25" y="449.9" width="21.95" height="5.7" fill="#fffdbc"/>
<rect x="164.2" y="449.9" width="21.95" height="5.7" fill="#ebf7e3"/>
<rect x="186.15" y="449.9" width="21.95" height="5.7" fill="#87b5d6"/>
<rect x="208.1" y="449.9" width="21.95" height="5.7" fill="#ebf7e3"/>
<rect x="230.05" y="449.9" width="21.95" height="5.7" fill="#d5ecf4"/>
<rect x="32.5" y="455.6" width="21.95" height="5.7" fill="#fdb473"/>
<rect x="54.45" y="455.6" width="21.95" height="5.7" fill="#fffdbc"/>
<rect x="76.4" y="455.6" width="21.95" height="5.7" fill="#fed287"/>
<rect x="98.35" y="455.6" width="21.95" height="5.7" fill="#fa8756"/>
<rect x="120.3" y="455.6" width="21.95" height="5.7" fill="#fed287"/>
<rect x="142.25" y="455.6" width="21.95" height="5.7" fill="#87b5d6"/>
<rect x="164.2" y="455.6" width="21.95" height="5.7" fill="#ebf7e3"/>
<rect x="186.15" y="455.6" width="21.95" height="5.7" fill="#f8fccc"/>
<rect x="208.1" y="455.6" width="21.95" height="5.7" fill="#d5ecf4"/>
<rect x="230.05" y="455.6" width="21.95" height="5.7" fill="#b8d9ea"/>
<rect x="32.5" y="461.3" width="21.95" height="5.7" fill="#e24c36"/>
<rect x="54.45" y="461.3" width="21.95" height="5.7" fill="#fffdbc"/>
<rect x="76.4" y="461.3" width="21.95" height="5.7" fill="#fed287"/>
<rect x="98.35" y="461.3" width="21.95" height="5.7" fill="#fdb473"/>
<rect x="120.3" y="461.3" width="21.95" height="5.7" fill="#fffdbc"/>
<rect x="142.25" y="461.3" width="21.95" height="5.7" fill="#9ec8e0"/>
<rect x="164.2" y="461.3" width="21.95" height="5.7" fill="#feeca3"/>
<rect x="186.15" y="461.3" width="21.95" height="5.7" fill="#ebf7e3"/>
<rect x="208.1" y="461.3" width="21.95" height="5.7" fill="#9ec8e0"/>
<rect x="230.05" y="461.3" width="21.95" height="5.7" fill="#d5ecf4"/>
<rect x="32.5" y="467" width="21.95" height="5.7" fill="#feeca3"/>
<rect x="54.45" y="467" width="21.95" height="5.7" fill="#fdb473"/>
<rect x="76.4" y="467" width="21.95" height="5.7" fill="#ec6543"/>
<rect x="98.35" y="467" width="21.95" height="5.7" fill="#f8fccc"/>
<rect x="120.3" y="467" width="21.95" height="5.7" fill="#fdb473"/>
<rect x="142.25" y="467" width="21.95" height="5.7" fill="#d5ecf4"/>
<rect x="164.2" y="467" width="21.95" height="5.7" fill="#b8d9ea"/>
<rect x="186.15" y="467" width="21.95" height="5.7" fill="#ebf7e3"/>
<rect x="208.1" y="467" width="21.95" height="5.7" fill="#b8d9ea"/>
<rect x="230.05" y="467" width="21.95" height="5.7" fill="#b8d9ea"/>
<rect x="32.5" y="472.7" width="21.95" height="5.7" fill="#fed287"/>
<rect x="54.45" y="472.7" width="21.95" height="5.7" fill="#fdb473"/>
<rect x="76.4" y="472.7" width="21.95" height="5.7" fill="#fc9e64"/>
<rect x="98.35" y="472.7" width="21.95" height="5.7" fill="#ebf7e3"/>
<rect x="120.3" y="472.7" width="21.95" height="5.7" fill="#fed287"/>
<rect x="142.25" y="472.7" width="21.95" height="5.7" fill="#feeca3"/>
<rect x="164.2" y="472.7" width="21.95" height="5.7" fill="#d5ecf4"/>
<rect x="186.15" y="472.7" width="21.95" height="5.7" fill="#fffdbc"/>
<rect x="208.1" y="472.7" width="21.95" height="5.7" fill="#73a1cb"/>
<rect x="230.05" y="472.7" width="21.95" height="5.7" fill="#9ec8e0"/>
<rect x="32.5" y="308" width="21.95" height="4" fill="#fc877d"/>
<rect x="32.5" y="313.2" width="21.95" height="3.8" fill="#79b1fc"/>
<rect x="54.45" y="308" width="21.95" height="4" fill="#fc877d"/>
<rect x="54.45" y="313.2" width="21.95" height="3.8" fill="#79b1fc"/>
<rect x="76.4" y="308" width="21.95" height="4" fill="#fc877d"/>
<rect x="76.4" y="313.2" width="21.95" height="3.8" fill="#79b1fc"/>
<rect x="98.35" y="308" width="21.95" height="4" fill="#fc877d"/>
<rect x="98.35" y="313.2" width="21.95" height="3.8" fill="#79b1fc"/>
<rect x="120.3" y="308" width="21.95" height="4" fill="#fc877d"/>
<rect x="120.3" y="313.2" width="21.95" height="3.8" fill="#79b1fc"/>
<rect x="142.25" y="308" width="21.95" height="4" fill="#fc877d"/>
<rect x="142.25" y="313.2" width="21.95" height="3.8" fill="#02d456"/>
<rect x="164.2" y="308" width="21.95" height="4" fill="#fc877d"/>
<rect x="164.2" y="313.2" width="21.95" height="3.8" fill="#02d456"/>
<rect x="186.15" y="308" width="21.95" height="4" fill="#fc877d"/>
<rect x="186.15" y="313.2" width="21.95" height="3.8" fill="#02d456"/>
<rect x="208.1" y="308" width="21.95" height="4" fill="#fc877d"/>
<rect x="208.1" y="313.2" width="21.95" height="3.8" fill="#02d456"/>
<rect x="230.05" y="308" width="21.95" height="4" fill="#fc877d"/>
<rect x="230.05" y="313.2" width="21.95" height="3.8" fill="#02d456"/>
</g>
<g stroke="#6a6a6a" stroke-width="0.75" stroke-linecap="square">
<line x1="65.42" y1="301.3" x2="87.38" y2="301.3"/>
<line x1="65.42" y1="301.3" x2="65.42" y2="308"/>
<line x1="87.38" y1="301.3" x2="87.38" y2="308"/>
<line x1="43.48" y1="299" x2="76.4" y2="299"/>
<line x1="43.48" y1="299" x2="43.48" y2="308"/>
<line x1="76.4" y1="299" x2="76.4" y2="301.3"/>
<line x1="109.33" y1="299" x2="131.27" y2="299"/>
<line x1="109.33" y1="299" x2="109.33" y2="308"/>
<line x1="131.27" y1="299" x2="131.27" y2="308"/>
<line x1="59.94" y1="296.5" x2="120.3" y2="296.5"/>
<line x1="59.94" y1="296.5" x2="59.94" y2="299"/>
<line x1="120.3" y1="296.5" x2="120.3" y2="299"/>
<line x1="153.22" y1="301.3" x2="175.17" y2="301.3"/>
<line x1="153.22" y1="301.3" x2="153.22" y2="308"/>
<line x1="175.17" y1="301.3" x2="175.17" y2="308"/>
<line x1="219.07" y1="300.4" x2="241.03" y2="300.4"/>
<line x1="219.07" y1="300.4" x2="219.07" y2="308"/>
<line x1="241.03" y1="300.4" x2="241.03" y2="308"/>
<line x1="197.12" y1="298.7" x2="230.05" y2="298.7"/>
<line x1="197.12" y1="298.7" x2="197.12" y2="308"/>
<line x1="230.05" y1="298.7" x2="230.05" y2="300.4"/>
<line x1="164.2" y1="292.8" x2="213.59" y2="292.8"/>
<line x1="164.2" y1="292.8" x2="164.2" y2="301.3"/>
<line x1="213.59" y1="292.8" x2="213.59" y2="298.7"/>
<line x1="90.12" y1="284.1" x2="188.89" y2="284.1"/>
<line x1="90.12" y1="284.1" x2="90.12" y2="296.5"/>
<line x1="188.89" y1="284.1" x2="188.89" y2="292.8"/>
<line x1="29.5" y1="327.35" x2="29.5" y2="333.05"/>
<line x1="29.5" y1="327.35" x2="32.1" y2="327.35"/>
<line x1="29.5" y1="333.05" x2="32.1" y2="333.05"/>
<line x1="28.74" y1="321.65" x2="28.74" y2="330.2"/>
<line x1="28.74" y1="321.65" x2="32.1" y2="321.65"/>
<line x1="28.74" y1="330.2" x2="29.5" y2="330.2"/>
<line x1="30.04" y1="338.75" x2="30.04" y2="344.45"/>
<line x1="30.04" y1="338.75" x2="32.1" y2="338.75"/>
<line x1="30.04" y1="344.45" x2="32.1" y2="344.45"/>
<line x1="28.72" y1="350.15" x2="28.72" y2="355.85"/>
<line x1="28.72" y1="350.15" x2="32.1" y2="350.15"/>
<line x1="28.72" y1="355.85" x2="32.1" y2="355.85"/>
<line x1="27.39" y1="341.6" x2="27.39" y2="353"/>
<line x1="27.39" y1="341.6" x2="30.04" y2="341.6"/>
<line x1="27.39" y1="353" x2="28.72" y2="353"/>
<line x1="27.13" y1="325.93" x2="27.13" y2="347.3"/>
<line x1="27.13" y1="325.93" x2="28.74" y2="325.93"/>
<line x1="27.13" y1="347.3" x2="27.39" y2="347.3"/>
<line x1="30.04" y1="372.95" x2="30.04" y2="378.65"/>
<line x1="30.04" y1="372.95" x2="32.1" y2="372.95"/>
<line x1="30.04" y1="378.65" x2="32.1" y2="378.65"/>
<line x1="28.38" y1="375.8" x2="28.38" y2="384.35"/>
<line x1="28.38" y1="375.8" x2="30.04" y2="375.8"/>
<line x1="28.38" y1="384.35" x2="32.1" y2="384.35"/>
<line x1="28.07" y1="367.25" x2="28.07" y2="380.08"/>
<line x1="28.07" y1="367.25" x2="32.1" y2="367.25"/>
<line x1="28.07" y1="380.08" x2="28.38" y2="380.08"/>
<line x1="28.91" y1="390.05" x2="28.91" y2="395.75"/>
<line x1="28.91" y1="390.05" x2="32.1" y2="390.05"/>
<line x1="28.91" y1="395.75" x2="32.1" y2="395.75"/>
<line x1="27.77" y1="373.66" x2="27.77" y2="392.9"/>
<line x1="27.77" y1="373.66" x2="28.07" y2="373.66"/>
<line x1="27.77" y1="392.9" x2="28.91" y2="392.9"/>
<line x1="26.4" y1="361.55" x2="26.4" y2="383.28"/>
<line x1="26.4" y1="361.55" x2="32.1" y2="361.55"/>
<line x1="26.4" y1="383.28" x2="27.77" y2="383.28"/>
<line x1="22.3" y1="336.61" x2="22.3" y2="372.42"/>
<line x1="22.3" y1="336.61" x2="27.13" y2="336.61"/>
<line x1="22.3" y1="372.42" x2="26.4" y2="372.42"/>
<line x1="28.09" y1="412.85" x2="28.09" y2="418.55"/>
<line x1="28.09" y1="412.85" x2="32.1" y2="412.85"/>
<line x1="28.09" y1="418.55" x2="32.1" y2="418.55"/>
<line x1="27.74" y1="407.15" x2="27.74" y2="415.7"/>
<line x1="27.74" y1="407.15" x2="32.1" y2="407.15"/>
<line x1="27.74" y1="415.7" x2="28.09" y2="415.7"/>
<line x1="27.55" y1="424.25" x2="27.55" y2="429.95"/>
<line x1="27.55" y1="424.25" x2="32.1" y2="424.25"/>
<line x1="27.55" y1="429.95" x2="32.1" y2="429.95"/>
<line x1="24.81" y1="411.43" x2="24.81" y2="427.1"/>
<line x1="24.81" y1="411.43" x2="27.74" y2="411.43"/>
<line x1="24.81" y1="427.1" x2="27.55" y2="427.1"/>
<line x1="22.83" y1="401.45" x2="22.83" y2="419.26"/>
<line x1="22.83" y1="401.45" x2="32.1" y2="401.45"/>
<line x1="22.83" y1="419.26" x2="24.81" y2="419.26"/>
<line x1="28.18" y1="435.65" x2="28.18" y2="441.35"/>
<line x1="28.18" y1="435.65" x2="32.1" y2="435.65"/>
<line x1="28.18" y1="441.35" x2="32.1" y2="441.35"/>
<line x1="26.22" y1="447.05" x2="26.22" y2="452.75"/>
<line x1="26.22" y1="447.05" x2="32.1" y2="447.05"/>
<line x1="26.22" y1="452.75" x2="32.1" y2="452.75"/>
<line x1="23.36" y1="438.5" x2="23.36" y2="449.9"/>
<line x1="23.36" y1="438.5" x2="28.18" y2="438.5"/>
<line x1="23.36" y1="449.9" x2="26.22" y2="449.9"/>
<line x1="26.56" y1="458.45" x2="26.56" y2="464.15"/>
<line x1="26.56" y1="458.45" x2="32.1" y2="458.45"/>
<line x1="26.56" y1="464.15" x2="32.1" y2="464.15"/>
<line x1="26.7" y1="469.85" x2="26.7" y2="475.55"/>
<line x1="26.7" y1="469.85" x2="32.1" y2="469.85"/>
<line x1="26.7" y1="475.55" x2="32.1" y2="475.55"/>
<line x1="19.99" y1="461.3" x2="19.99" y2="472.7"/>
<line x1="19.99" y1="461.3" x2="26.56" y2="461.3"/>
<line x1="19.99" y1="472.7" x2="26.7" y2="472.7"/>
<line x1="18.65" y1="444.2" x2="18.65" y2="467"/>
<line x1="18.65" y1="444.2" x2="23.36" y2="444.2"/>
<line x1="18.65" y1="467" x2="19.99" y2="467"/>
<line x1="18.3" y1="410.36" x2="18.3" y2="455.6"/>
<line x1="18.3" y1="410.36" x2="22.83" y2="410.36"/>
<line x1="18.3" y1="455.6" x2="18.65" y2="455.6"/>
<line x1="9" y1="354.51" x2="9" y2="432.98"/>
<line x1="9" y1="354.51" x2="22.3" y2="354.51"/>
<line x1="9" y1="432.98" x2="18.3" y2="432.98"/>
</g>
<g transform="translate(254.4,0) scale(0.8,1)" fill="#1e1e1e" stroke="#1e1e1e" stroke-width="0.06">
<text x="0" y="311.62" font-size="3.6" text-anchor="start" fill="#1e1e1e" >Stim</text>
<text x="0" y="316.72" font-size="3.6" text-anchor="start" fill="#1e1e1e" >CD16</text>
<text x="0" y="323.45" font-size="3.6" text-anchor="start" fill="#1e1e1e" >JAK1</text>
<text x="0" y="329.15" font-size="3.6" text-anchor="start" fill="#1e1e1e" >CCL22</text>
<text x="0" y="334.85" font-size="3.6" text-anchor="start" fill="#1e1e1e" >INHBA</text>
<text x="0" y="340.55" font-size="3.6" text-anchor="start" fill="#1e1e1e" >IL21R</text>
<text x="0" y="346.25" font-size="3.6" text-anchor="start" fill="#1e1e1e" >TRAF3IP1</text>
<text x="0" y="351.95" font-size="3.6" text-anchor="start" fill="#1e1e1e" >PTGER4</text>
<text x="0" y="357.65" font-size="3.6" text-anchor="start" fill="#1e1e1e" >IL15</text>
<text x="0" y="363.35" font-size="3.6" text-anchor="start" fill="#1e1e1e" >TNFSF14</text>
<text x="0" y="369.05" font-size="3.6" text-anchor="start" fill="#1e1e1e" >LILRB1</text>
<text x="0" y="374.75" font-size="3.6" text-anchor="start" fill="#1e1e1e" >CD86</text>
<text x="0" y="380.45" font-size="3.6" text-anchor="start" fill="#1e1e1e" >GBP2</text>
<text x="0" y="386.15" font-size="3.6" text-anchor="start" fill="#1e1e1e" >SERPINA1</text>
<text x="0" y="391.85" font-size="3.6" text-anchor="start" fill="#1e1e1e" >ALDH1A2</text>
<text x="0" y="397.55" font-size="3.6" text-anchor="start" fill="#1e1e1e" >RGCC</text>
<text x="0" y="403.25" font-size="3.6" text-anchor="start" fill="#1e1e1e" >BRCA2</text>
<text x="0" y="408.95" font-size="3.6" text-anchor="start" fill="#1e1e1e" >PPBP</text>
<text x="0" y="414.65" font-size="3.6" text-anchor="start" fill="#1e1e1e" >NUSAP1</text>
<text x="0" y="420.35" font-size="3.6" text-anchor="start" fill="#1e1e1e" >KIT</text>
<text x="0" y="426.05" font-size="3.6" text-anchor="start" fill="#1e1e1e" >NUP107</text>
<text x="0" y="431.75" font-size="3.6" text-anchor="start" fill="#1e1e1e" >IL1RL2</text>
<text x="0" y="437.45" font-size="3.6" text-anchor="start" fill="#1e1e1e" >DUOX1</text>
<text x="0" y="443.15" font-size="3.6" text-anchor="start" fill="#1e1e1e" >IFI16</text>
<text x="0" y="448.85" font-size="3.6" text-anchor="start" fill="#1e1e1e" >EIF2AK2</text>
<text x="0" y="454.55" font-size="3.6" text-anchor="start" fill="#1e1e1e" >ANLN</text>
<text x="0" y="460.25" font-size="3.6" text-anchor="start" fill="#1e1e1e" >CXCR2</text>
<text x="0" y="465.95" font-size="3.6" text-anchor="start" fill="#1e1e1e" >IGF2BP2</text>
<text x="0" y="471.65" font-size="3.6" text-anchor="start" fill="#1e1e1e" >IL17RB</text>
<text x="0" y="477.35" font-size="3.6" text-anchor="start" fill="#1e1e1e" >CCL18</text>
</g>
<g stroke="#a8a8a8" stroke-width="0.3">
<rect x="33.25" y="548" width="25.55" height="4.15" fill="#fed287"/>
<rect x="58.8" y="548" width="25.55" height="4.15" fill="#87b5d6"/>
<rect x="84.35" y="548" width="25.55" height="4.15" fill="#d5ecf4"/>
<rect x="109.9" y="548" width="25.55" height="4.15" fill="#b8d9ea"/>
<rect x="135.45" y="548" width="25.55" height="4.15" fill="#d5ecf4"/>
<rect x="161" y="548" width="25.55" height="4.15" fill="#fffdbc"/>
<rect x="186.55" y="548" width="25.55" height="4.15" fill="#fc9e64"/>
<rect x="212.1" y="548" width="25.55" height="4.15" fill="#fdb473"/>
<rect x="237.65" y="548" width="25.55" height="4.15" fill="#fed287"/>
<rect x="263.2" y="548" width="25.55" height="4.15" fill="#fdb473"/>
<rect x="33.25" y="552.15" width="25.55" height="4.15" fill="#f8fccc"/>
<rect x="58.8" y="552.15" width="25.55" height="4.15" fill="#9ec8e0"/>
<rect x="84.35" y="552.15" width="25.55" height="4.15" fill="#ebf7e3"/>
<rect x="109.9" y="552.15" width="25.55" height="4.15" fill="#73a1cb"/>
<rect x="135.45" y="552.15" width="25.55" height="4.15" fill="#ebf7e3"/>
<rect x="161" y="552.15" width="25.55" height="4.15" fill="#fffdbc"/>
<rect x="186.55" y="552.15" width="25.55" height="4.15" fill="#fdb473"/>
<rect x="212.1" y="552.15" width="25.55" height="4.15" fill="#fa8756"/>
<rect x="237.65" y="552.15" width="25.55" height="4.15" fill="#fdb473"/>
<rect x="263.2" y="552.15" width="25.55" height="4.15" fill="#fffdbc"/>
<rect x="33.25" y="556.31" width="25.55" height="4.15" fill="#87b5d6"/>
<rect x="58.8" y="556.31" width="25.55" height="4.15" fill="#9ec8e0"/>
<rect x="84.35" y="556.31" width="25.55" height="4.15" fill="#feeca3"/>
<rect x="109.9" y="556.31" width="25.55" height="4.15" fill="#d5ecf4"/>
<rect x="135.45" y="556.31" width="25.55" height="4.15" fill="#ebf7e3"/>
<rect x="161" y="556.31" width="25.55" height="4.15" fill="#fffdbc"/>
<rect x="186.55" y="556.31" width="25.55" height="4.15" fill="#ebf7e3"/>
<rect x="212.1" y="556.31" width="25.55" height="4.15" fill="#fed287"/>
<rect x="237.65" y="556.31" width="25.55" height="4.15" fill="#fc9e64"/>
<rect x="263.2" y="556.31" width="25.55" height="4.15" fill="#ec6543"/>
<rect x="33.25" y="560.46" width="25.55" height="4.15" fill="#d5ecf4"/>
<rect x="58.8" y="560.46" width="25.55" height="4.15" fill="#d5ecf4"/>
<rect x="84.35" y="560.46" width="25.55" height="4.15" fill="#fed287"/>
<rect x="109.9" y="560.46" width="25.55" height="4.15" fill="#9ec8e0"/>
<rect x="135.45" y="560.46" width="25.55" height="4.15" fill="#d5ecf4"/>
<rect x="161" y="560.46" width="25.55" height="4.15" fill="#fffdbc"/>
<rect x="186.55" y="560.46" width="25.55" height="4.15" fill="#ebf7e3"/>
<rect x="212.1" y="560.46" width="25.55" height="4.15" fill="#fdb473"/>
<rect x="237.65" y="560.46" width="25.55" height="4.15" fill="#fa8756"/>
<rect x="263.2" y="560.46" width="25.55" height="4.15" fill="#fa8756"/>
<rect x="33.25" y="564.61" width="25.55" height="4.15" fill="#d5ecf4"/>
<rect x="58.8" y="564.61" width="25.55" height="4.15" fill="#feeca3"/>
<rect x="84.35" y="564.61" width="25.55" height="4.15" fill="#b8d9ea"/>
<rect x="109.9" y="564.61" width="25.55" height="4.15" fill="#b8d9ea"/>
<rect x="135.45" y="564.61" width="25.55" height="4.15" fill="#ebf7e3"/>
<rect x="161" y="564.61" width="25.55" height="4.15" fill="#f8fccc"/>
<rect x="186.55" y="564.61" width="25.55" height="4.15" fill="#f8fccc"/>
<rect x="212.1" y="564.61" width="25.55" height="4.15" fill="#fdb473"/>
<rect x="237.65" y="564.61" width="25.55" height="4.15" fill="#fc9e64"/>
<rect x="263.2" y="564.61" width="25.55" height="4.15" fill="#fa8756"/>
<rect x="33.25" y="568.76" width="25.55" height="4.15" fill="#d5ecf4"/>
<rect x="58.8" y="568.76" width="25.55" height="4.15" fill="#ebf7e3"/>
<rect x="84.35" y="568.76" width="25.55" height="4.15" fill="#b8d9ea"/>
<rect x="109.9" y="568.76" width="25.55" height="4.15" fill="#d5ecf4"/>
<rect x="135.45" y="568.76" width="25.55" height="4.15" fill="#b8d9ea"/>
<rect x="161" y="568.76" width="25.55" height="4.15" fill="#f8fccc"/>
<rect x="186.55" y="568.76" width="25.55" height="4.15" fill="#f8fccc"/>
<rect x="212.1" y="568.76" width="25.55" height="4.15" fill="#fdb473"/>
<rect x="237.65" y="568.76" width="25.55" height="4.15" fill="#e24c36"/>
<rect x="263.2" y="568.76" width="25.55" height="4.15" fill="#fdb473"/>
<rect x="33.25" y="572.92" width="25.55" height="4.15" fill="#9ec8e0"/>
<rect x="58.8" y="572.92" width="25.55" height="4.15" fill="#b8d9ea"/>
<rect x="84.35" y="572.92" width="25.55" height="4.15" fill="#f8fccc"/>
<rect x="109.9" y="572.92" width="25.55" height="4.15" fill="#d5ecf4"/>
<rect x="135.45" y="572.92" width="25.55" height="4.15" fill="#b8d9ea"/>
<rect x="161" y="572.92" width="25.55" height="4.15" fill="#feeca3"/>
<rect x="186.55" y="572.92" width="25.55" height="4.15" fill="#feeca3"/>
<rect x="212.1" y="572.92" width="25.55" height="4.15" fill="#fa8756"/>
<rect x="237.65" y="572.92" width="25.55" height="4.15" fill="#fffdbc"/>
<rect x="263.2" y="572.92" width="25.55" height="4.15" fill="#fed287"/>
<rect x="33.25" y="577.07" width="25.55" height="4.15" fill="#87b5d6"/>
<rect x="58.8" y="577.07" width="25.55" height="4.15" fill="#9ec8e0"/>
<rect x="84.35" y="577.07" width="25.55" height="4.15" fill="#d5ecf4"/>
<rect x="109.9" y="577.07" width="25.55" height="4.15" fill="#f8fccc"/>
<rect x="135.45" y="577.07" width="25.55" height="4.15" fill="#ebf7e3"/>
<rect x="161" y="577.07" width="25.55" height="4.15" fill="#fffdbc"/>
<rect x="186.55" y="577.07" width="25.55" height="4.15" fill="#feeca3"/>
<rect x="212.1" y="577.07" width="25.55" height="4.15" fill="#e24c36"/>
<rect x="237.65" y="577.07" width="25.55" height="4.15" fill="#fffdbc"/>
<rect x="263.2" y="577.07" width="25.55" height="4.15" fill="#fdb473"/>
<rect x="33.25" y="581.22" width="25.55" height="4.15" fill="#f8fccc"/>
<rect x="58.8" y="581.22" width="25.55" height="4.15" fill="#b8d9ea"/>
<rect x="84.35" y="581.22" width="25.55" height="4.15" fill="#d5ecf4"/>
<rect x="109.9" y="581.22" width="25.55" height="4.15" fill="#b8d9ea"/>
<rect x="135.45" y="581.22" width="25.55" height="4.15" fill="#d5ecf4"/>
<rect x="161" y="581.22" width="25.55" height="4.15" fill="#fffdbc"/>
<rect x="186.55" y="581.22" width="25.55" height="4.15" fill="#fffdbc"/>
<rect x="212.1" y="581.22" width="25.55" height="4.15" fill="#fa8756"/>
<rect x="237.65" y="581.22" width="25.55" height="4.15" fill="#fdb473"/>
<rect x="263.2" y="581.22" width="25.55" height="4.15" fill="#fed287"/>
<rect x="33.25" y="585.38" width="25.55" height="4.15" fill="#f8fccc"/>
<rect x="58.8" y="585.38" width="25.55" height="4.15" fill="#9ec8e0"/>
<rect x="84.35" y="585.38" width="25.55" height="4.15" fill="#f8fccc"/>
<rect x="109.9" y="585.38" width="25.55" height="4.15" fill="#d5ecf4"/>
<rect x="135.45" y="585.38" width="25.55" height="4.15" fill="#d5ecf4"/>
<rect x="161" y="585.38" width="25.55" height="4.15" fill="#f8fccc"/>
<rect x="186.55" y="585.38" width="25.55" height="4.15" fill="#feeca3"/>
<rect x="212.1" y="585.38" width="25.55" height="4.15" fill="#fa8756"/>
<rect x="237.65" y="585.38" width="25.55" height="4.15" fill="#fed287"/>
<rect x="263.2" y="585.38" width="25.55" height="4.15" fill="#fa8756"/>
<rect x="33.25" y="589.53" width="25.55" height="4.15" fill="#b8d9ea"/>
<rect x="58.8" y="589.53" width="25.55" height="4.15" fill="#d5ecf4"/>
<rect x="84.35" y="589.53" width="25.55" height="4.15" fill="#d5ecf4"/>
<rect x="109.9" y="589.53" width="25.55" height="4.15" fill="#ebf7e3"/>
<rect x="135.45" y="589.53" width="25.55" height="4.15" fill="#f8fccc"/>
<rect x="161" y="589.53" width="25.55" height="4.15" fill="#f8fccc"/>
<rect x="186.55" y="589.53" width="25.55" height="4.15" fill="#fffdbc"/>
<rect x="212.1" y="589.53" width="25.55" height="4.15" fill="#fa8756"/>
<rect x="237.65" y="589.53" width="25.55" height="4.15" fill="#fed287"/>
<rect x="263.2" y="589.53" width="25.55" height="4.15" fill="#fc9e64"/>
<rect x="33.25" y="593.68" width="25.55" height="4.15" fill="#9ec8e0"/>
<rect x="58.8" y="593.68" width="25.55" height="4.15" fill="#b8d9ea"/>
<rect x="84.35" y="593.68" width="25.55" height="4.15" fill="#ebf7e3"/>
<rect x="109.9" y="593.68" width="25.55" height="4.15" fill="#ebf7e3"/>
<rect x="135.45" y="593.68" width="25.55" height="4.15" fill="#ebf7e3"/>
<rect x="161" y="593.68" width="25.55" height="4.15" fill="#ebf7e3"/>
<rect x="186.55" y="593.68" width="25.55" height="4.15" fill="#f8fccc"/>
<rect x="212.1" y="593.68" width="25.55" height="4.15" fill="#ec6543"/>
<rect x="237.65" y="593.68" width="25.55" height="4.15" fill="#fa8756"/>
<rect x="263.2" y="593.68" width="25.55" height="4.15" fill="#fed287"/>
<rect x="33.25" y="597.84" width="25.55" height="4.15" fill="#73a1cb"/>
<rect x="58.8" y="597.84" width="25.55" height="4.15" fill="#ebf7e3"/>
<rect x="84.35" y="597.84" width="25.55" height="4.15" fill="#b8d9ea"/>
<rect x="109.9" y="597.84" width="25.55" height="4.15" fill="#d5ecf4"/>
<rect x="135.45" y="597.84" width="25.55" height="4.15" fill="#fffdbc"/>
<rect x="161" y="597.84" width="25.55" height="4.15" fill="#feeca3"/>
<rect x="186.55" y="597.84" width="25.55" height="4.15" fill="#fffdbc"/>
<rect x="212.1" y="597.84" width="25.55" height="4.15" fill="#e24c36"/>
<rect x="237.65" y="597.84" width="25.55" height="4.15" fill="#fdb473"/>
<rect x="263.2" y="597.84" width="25.55" height="4.15" fill="#fed287"/>
<rect x="33.25" y="601.99" width="25.55" height="4.15" fill="#73a1cb"/>
<rect x="58.8" y="601.99" width="25.55" height="4.15" fill="#d5ecf4"/>
<rect x="84.35" y="601.99" width="25.55" height="4.15" fill="#fffdbc"/>
<rect x="109.9" y="601.99" width="25.55" height="4.15" fill="#d5ecf4"/>
<rect x="135.45" y="601.99" width="25.55" height="4.15" fill="#d5ecf4"/>
<rect x="161" y="601.99" width="25.55" height="4.15" fill="#fed287"/>
<rect x="186.55" y="601.99" width="25.55" height="4.15" fill="#fffdbc"/>
<rect x="212.1" y="601.99" width="25.55" height="4.15" fill="#fa8756"/>
<rect x="237.65" y="601.99" width="25.55" height="4.15" fill="#fc9e64"/>
<rect x="263.2" y="601.99" width="25.55" height="4.15" fill="#fffdbc"/>
<rect x="33.25" y="606.14" width="25.55" height="4.15" fill="#87b5d6"/>
<rect x="58.8" y="606.14" width="25.55" height="4.15" fill="#d5ecf4"/>
<rect x="84.35" y="606.14" width="25.55" height="4.15" fill="#d5ecf4"/>
<rect x="109.9" y="606.14" width="25.55" height="4.15" fill="#d5ecf4"/>
<rect x="135.45" y="606.14" width="25.55" height="4.15" fill="#ebf7e3"/>
<rect x="161" y="606.14" width="25.55" height="4.15" fill="#fed287"/>
<rect x="186.55" y="606.14" width="25.55" height="4.15" fill="#fffdbc"/>
<rect x="212.1" y="606.14" width="25.55" height="4.15" fill="#fc9e64"/>
<rect x="237.65" y="606.14" width="25.55" height="4.15" fill="#fa8756"/>
<rect x="263.2" y="606.14" width="25.55" height="4.15" fill="#fed287"/>
<rect x="33.25" y="610.29" width="25.55" height="4.15" fill="#b8d9ea"/>
<rect x="58.8" y="610.29" width="25.55" height="4.15" fill="#fffdbc"/>
<rect x="84.35" y="610.29" width="25.55" height="4.15" fill="#b8d9ea"/>
<rect x="109.9" y="610.29" width="25.55" height="4.15" fill="#9ec8e0"/>
<rect x="135.45" y="610.29" width="25.55" height="4.15" fill="#d5ecf4"/>
<rect x="161" y="610.29" width="25.55" height="4.15" fill="#fffdbc"/>
<rect x="186.55" y="610.29" width="25.55" height="4.15" fill="#fffdbc"/>
<rect x="212.1" y="610.29" width="25.55" height="4.15" fill="#ec6543"/>
<rect x="237.65" y="610.29" width="25.55" height="4.15" fill="#feeca3"/>
<rect x="263.2" y="610.29" width="25.55" height="4.15" fill="#fed287"/>
<rect x="33.25" y="614.45" width="25.55" height="4.15" fill="#d5ecf4"/>
<rect x="58.8" y="614.45" width="25.55" height="4.15" fill="#d5ecf4"/>
<rect x="84.35" y="614.45" width="25.55" height="4.15" fill="#87b5d6"/>
<rect x="109.9" y="614.45" width="25.55" height="4.15" fill="#f8fccc"/>
<rect x="135.45" y="614.45" width="25.55" height="4.15" fill="#d5ecf4"/>
<rect x="161" y="614.45" width="25.55" height="4.15" fill="#fdb473"/>
<rect x="186.55" y="614.45" width="25.55" height="4.15" fill="#feeca3"/>
<rect x="212.1" y="614.45" width="25.55" height="4.15" fill="#fdb473"/>
<rect x="237.65" y="614.45" width="25.55" height="4.15" fill="#fc9e64"/>
<rect x="263.2" y="614.45" width="25.55" height="4.15" fill="#feeca3"/>
<rect x="33.25" y="618.6" width="25.55" height="4.15" fill="#ebf7e3"/>
<rect x="58.8" y="618.6" width="25.55" height="4.15" fill="#d5ecf4"/>
<rect x="84.35" y="618.6" width="25.55" height="4.15" fill="#5c8bc0"/>
<rect x="109.9" y="618.6" width="25.55" height="4.15" fill="#d5ecf4"/>
<rect x="135.45" y="618.6" width="25.55" height="4.15" fill="#ebf7e3"/>
<rect x="161" y="618.6" width="25.55" height="4.15" fill="#fdb473"/>
<rect x="186.55" y="618.6" width="25.55" height="4.15" fill="#feeca3"/>
<rect x="212.1" y="618.6" width="25.55" height="4.15" fill="#fdb473"/>
<rect x="237.65" y="618.6" width="25.55" height="4.15" fill="#fdb473"/>
<rect x="263.2" y="618.6" width="25.55" height="4.15" fill="#fed287"/>
<rect x="33.25" y="622.75" width="25.55" height="4.15" fill="#f8fccc"/>
<rect x="58.8" y="622.75" width="25.55" height="4.15" fill="#fc9e64"/>
<rect x="84.35" y="622.75" width="25.55" height="4.15" fill="#fed287"/>
<rect x="109.9" y="622.75" width="25.55" height="4.15" fill="#fffdbc"/>
<rect x="135.45" y="622.75" width="25.55" height="4.15" fill="#e24c36"/>
<rect x="161" y="622.75" width="25.55" height="4.15" fill="#f8fccc"/>
<rect x="186.55" y="622.75" width="25.55" height="4.15" fill="#b8d9ea"/>
<rect x="212.1" y="622.75" width="25.55" height="4.15" fill="#fffdbc"/>
<rect x="237.65" y="622.75" width="25.55" height="4.15" fill="#87b5d6"/>
<rect x="263.2" y="622.75" width="25.55" height="4.15" fill="#d5ecf4"/>
<rect x="33.25" y="626.91" width="25.55" height="4.15" fill="#fed287"/>
<rect x="58.8" y="626.91" width="25.55" height="4.15" fill="#e24c36"/>
<rect x="84.35" y="626.91" width="25.55" height="4.15" fill="#fdb473"/>
<rect x="109.9" y="626.91" width="25.55" height="4.15" fill="#fffdbc"/>
<rect x="135.45" y="626.91" width="25.55" height="4.15" fill="#fffdbc"/>
<rect x="161" y="626.91" width="25.55" height="4.15" fill="#f8fccc"/>
<rect x="186.55" y="626.91" width="25.55" height="4.15" fill="#ebf7e3"/>
<rect x="212.1" y="626.91" width="25.55" height="4.15" fill="#ebf7e3"/>
<rect x="237.65" y="626.91" width="25.55" height="4.15" fill="#9ec8e0"/>
<rect x="263.2" y="626.91" width="25.55" height="4.15" fill="#b8d9ea"/>
<rect x="33.25" y="631.06" width="25.55" height="4.15" fill="#fdb473"/>
<rect x="58.8" y="631.06" width="25.55" height="4.15" fill="#fa8756"/>
<rect x="84.35" y="631.06" width="25.55" height="4.15" fill="#fed287"/>
<rect x="109.9" y="631.06" width="25.55" height="4.15" fill="#feeca3"/>
<rect x="135.45" y="631.06" width="25.55" height="4.15" fill="#fffdbc"/>
<rect x="161" y="631.06" width="25.55" height="4.15" fill="#d5ecf4"/>
<rect x="186.55" y="631.06" width="25.55" height="4.15" fill="#b8d9ea"/>
<rect x="212.1" y="631.06" width="25.55" height="4.15" fill="#feeca3"/>
<rect x="237.65" y="631.06" width="25.55" height="4.15" fill="#87b5d6"/>
<rect x="263.2" y="631.06" width="25.55" height="4.15" fill="#d5ecf4"/>
<rect x="33.25" y="635.21" width="25.55" height="4.15" fill="#fed287"/>
<rect x="58.8" y="635.21" width="25.55" height="4.15" fill="#feeca3"/>
<rect x="84.35" y="635.21" width="25.55" height="4.15" fill="#ebf7e3"/>
<rect x="109.9" y="635.21" width="25.55" height="4.15" fill="#fed287"/>
<rect x="135.45" y="635.21" width="25.55" height="4.15" fill="#e24c36"/>
<rect x="161" y="635.21" width="25.55" height="4.15" fill="#d5ecf4"/>
<rect x="186.55" y="635.21" width="25.55" height="4.15" fill="#ebf7e3"/>
<rect x="212.1" y="635.21" width="25.55" height="4.15" fill="#b8d9ea"/>
<rect x="237.65" y="635.21" width="25.55" height="4.15" fill="#b8d9ea"/>
<rect x="263.2" y="635.21" width="25.55" height="4.15" fill="#f8fccc"/>
<rect x="33.25" y="639.37" width="25.55" height="4.15" fill="#fffdbc"/>
<rect x="58.8" y="639.37" width="25.55" height="4.15" fill="#fdb473"/>
<rect x="84.35" y="639.37" width="25.55" height="4.15" fill="#fed287"/>
<rect x="109.9" y="639.37" width="25.55" height="4.15" fill="#fed287"/>
<rect x="135.45" y="639.37" width="25.55" height="4.15" fill="#fdb473"/>
<rect x="161" y="639.37" width="25.55" height="4.15" fill="#fffdbc"/>
<rect x="186.55" y="639.37" width="25.55" height="4.15" fill="#b8d9ea"/>
<rect x="212.1" y="639.37" width="25.55" height="4.15" fill="#9ec8e0"/>
<rect x="237.65" y="639.37" width="25.55" height="4.15" fill="#9ec8e0"/>
<rect x="263.2" y="639.37" width="25.55" height="4.15" fill="#ebf7e3"/>
<rect x="33.25" y="643.52" width="25.55" height="4.15" fill="#fed287"/>
<rect x="58.8" y="643.52" width="25.55" height="4.15" fill="#feeca3"/>
<rect x="84.35" y="643.52" width="25.55" height="4.15" fill="#feeca3"/>
<rect x="109.9" y="643.52" width="25.55" height="4.15" fill="#fc9e64"/>
<rect x="135.45" y="643.52" width="25.55" height="4.15" fill="#fdb473"/>
<rect x="161" y="643.52" width="25.55" height="4.15" fill="#f8fccc"/>
<rect x="186.55" y="643.52" width="25.55" height="4.15" fill="#f8fccc"/>
<rect x="212.1" y="643.52" width="25.55" height="4.15" fill="#d5ecf4"/>
<rect x="237.65" y="643.52" width="25.55" height="4.15" fill="#9ec8e0"/>
<rect x="263.2" y="643.52" width="25.55" height="4.15" fill="#73a1cb"/>
<rect x="33.25" y="647.67" width="25.55" height="4.15" fill="#fed287"/>
<rect x="58.8" y="647.67" width="25.55" height="4.15" fill="#fc9e64"/>
<rect x="84.35" y="647.67" width="25.55" height="4.15" fill="#fed287"/>
<rect x="109.9" y="647.67" width="25.55" height="4.15" fill="#fdb473"/>
<rect x="135.45" y="647.67" width="25.55" height="4.15" fill="#fdb473"/>
<rect x="161" y="647.67" width="25.55" height="4.15" fill="#f8fccc"/>
<rect x="186.55" y="647.67" width="25.55" height="4.15" fill="#d5ecf4"/>
<rect x="212.1" y="647.67" width="25.55" height="4.15" fill="#9ec8e0"/>
<rect x="237.65" y="647.67" width="25.55" height="4.15" fill="#ebf7e3"/>
<rect x="263.2" y="647.67" width="25.55" height="4.15" fill="#87b5d6"/>
<rect x="33.25" y="651.83" width="25.55" height="4.15" fill="#fffdbc"/>
<rect x="58.8" y="651.83" width="25.55" height="4.15" fill="#fdb473"/>
<rect x="84.35" y="651.83" width="25.55" height="4.15" fill="#fed287"/>
<rect x="109.9" y="651.83" width="25.55" height="4.15" fill="#fdb473"/>
<rect x="135.45" y="651.83" width="25.55" height="4.15" fill="#fed287"/>
<rect x="161" y="651.83" width="25.55" height="4.15" fill="#d5ecf4"/>
<rect x="186.55" y="651.83" width="25.55" height="4.15" fill="#d5ecf4"/>
<rect x="212.1" y="651.83" width="25.55" height="4.15" fill="#abd0e5"/>
<rect x="237.65" y="651.83" width="25.55" height="4.15" fill="#ebf7e3"/>
<rect x="263.2" y="651.83" width="25.55" height="4.15" fill="#b8d9ea"/>
<rect x="33.25" y="655.98" width="25.55" height="4.15" fill="#fffdbc"/>
<rect x="58.8" y="655.98" width="25.55" height="4.15" fill="#fdb473"/>
<rect x="84.35" y="655.98" width="25.55" height="4.15" fill="#fed287"/>
<rect x="109.9" y="655.98" width="25.55" height="4.15" fill="#fa8756"/>
<rect x="135.45" y="655.98" width="25.55" height="4.15" fill="#fed287"/>
<rect x="161" y="655.98" width="25.55" height="4.15" fill="#b8d9ea"/>
<rect x="186.55" y="655.98" width="25.55" height="4.15" fill="#ebf7e3"/>
<rect x="212.1" y="655.98" width="25.55" height="4.15" fill="#b8d9ea"/>
<rect x="237.65" y="655.98" width="25.55" height="4.15" fill="#b8d9ea"/>
<rect x="263.2" y="655.98" width="25.55" height="4.15" fill="#d5ecf4"/>
<rect x="33.25" y="660.13" width="25.55" height="4.15" fill="#fdb473"/>
<rect x="58.8" y="660.13" width="25.55" height="4.15" fill="#fdb473"/>
<rect x="84.35" y="660.13" width="25.55" height="4.15" fill="#fed287"/>
<rect x="109.9" y="660.13" width="25.55" height="4.15" fill="#fed287"/>
<rect x="135.45" y="660.13" width="25.55" height="4.15" fill="#fed287"/>
<rect x="161" y="660.13" width="25.55" height="4.15" fill="#ebf7e3"/>
<rect x="186.55" y="660.13" width="25.55" height="4.15" fill="#ebf7e3"/>
<rect x="212.1" y="660.13" width="25.55" height="4.15" fill="#9ec8e0"/>
<rect x="237.65" y="660.13" width="25.55" height="4.15" fill="#9ec8e0"/>
<rect x="263.2" y="660.13" width="25.55" height="4.15" fill="#b8d9ea"/>
<rect x="33.25" y="664.28" width="25.55" height="4.15" fill="#ec6543"/>
<rect x="58.8" y="664.28" width="25.55" height="4.15" fill="#fffdbc"/>
<rect x="84.35" y="664.28" width="25.55" height="4.15" fill="#fed287"/>
<rect x="109.9" y="664.28" width="25.55" height="4.15" fill="#fed287"/>
<rect x="135.45" y="664.28" width="25.55" height="4.15" fill="#feeca3"/>
<rect x="161" y="664.28" width="25.55" height="4.15" fill="#d5ecf4"/>
<rect x="186.55" y="664.28" width="25.55" height="4.15" fill="#fffdbc"/>
<rect x="212.1" y="664.28" width="25.55" height="4.15" fill="#9ec8e0"/>
<rect x="237.65" y="664.28" width="25.55" height="4.15" fill="#9ec8e0"/>
<rect x="263.2" y="664.28" width="25.55" height="4.15" fill="#d5ecf4"/>
<rect x="33.25" y="668.44" width="25.55" height="4.15" fill="#fa8756"/>
<rect x="58.8" y="668.44" width="25.55" height="4.15" fill="#f8fccc"/>
<rect x="84.35" y="668.44" width="25.55" height="4.15" fill="#fa8756"/>
<rect x="109.9" y="668.44" width="25.55" height="4.15" fill="#fed287"/>
<rect x="135.45" y="668.44" width="25.55" height="4.15" fill="#fed287"/>
<rect x="161" y="668.44" width="25.55" height="4.15" fill="#d5ecf4"/>
<rect x="186.55" y="668.44" width="25.55" height="4.15" fill="#fffdbc"/>
<rect x="212.1" y="668.44" width="25.55" height="4.15" fill="#87b5d6"/>
<rect x="237.65" y="668.44" width="25.55" height="4.15" fill="#d5ecf4"/>
<rect x="263.2" y="668.44" width="25.55" height="4.15" fill="#b8d9ea"/>
<rect x="33.25" y="672.59" width="25.55" height="4.15" fill="#fc9e64"/>
<rect x="58.8" y="672.59" width="25.55" height="4.15" fill="#ebf7e3"/>
<rect x="84.35" y="672.59" width="25.55" height="4.15" fill="#fed287"/>
<rect x="109.9" y="672.59" width="25.55" height="4.15" fill="#fc9e64"/>
<rect x="135.45" y="672.59" width="25.55" height="4.15" fill="#fed287"/>
<rect x="161" y="672.59" width="25.55" height="4.15" fill="#9ec8e0"/>
<rect x="186.55" y="672.59" width="25.55" height="4.15" fill="#fffdbc"/>
<rect x="212.1" y="672.59" width="25.55" height="4.15" fill="#d5ecf4"/>
<rect x="237.65" y="672.59" width="25.55" height="4.15" fill="#d5ecf4"/>
<rect x="263.2" y="672.59" width="25.55" height="4.15" fill="#d5ecf4"/>
<rect x="33.25" y="676.74" width="25.55" height="4.15" fill="#fc9e64"/>
<rect x="58.8" y="676.74" width="25.55" height="4.15" fill="#f8fccc"/>
<rect x="84.35" y="676.74" width="25.55" height="4.15" fill="#fed287"/>
<rect x="109.9" y="676.74" width="25.55" height="4.15" fill="#fdb473"/>
<rect x="135.45" y="676.74" width="25.55" height="4.15" fill="#fdb473"/>
<rect x="161" y="676.74" width="25.55" height="4.15" fill="#d5ecf4"/>
<rect x="186.55" y="676.74" width="25.55" height="4.15" fill="#d5ecf4"/>
<rect x="212.1" y="676.74" width="25.55" height="4.15" fill="#9ec8e0"/>
<rect x="237.65" y="676.74" width="25.55" height="4.15" fill="#ebf7e3"/>
<rect x="263.2" y="676.74" width="25.55" height="4.15" fill="#f8fccc"/>
<rect x="33.25" y="680.9" width="25.55" height="4.15" fill="#fdb473"/>
<rect x="58.8" y="680.9" width="25.55" height="4.15" fill="#fdb473"/>
<rect x="84.35" y="680.9" width="25.55" height="4.15" fill="#fffdbc"/>
<rect x="109.9" y="680.9" width="25.55" height="4.15" fill="#fed287"/>
<rect x="135.45" y="680.9" width="25.55" height="4.15" fill="#fed287"/>
<rect x="161" y="680.9" width="25.55" height="4.15" fill="#f8fccc"/>
<rect x="186.55" y="680.9" width="25.55" height="4.15" fill="#f8fccc"/>
<rect x="212.1" y="680.9" width="25.55" height="4.15" fill="#b8d9ea"/>
<rect x="237.65" y="680.9" width="25.55" height="4.15" fill="#f8fccc"/>
<rect x="263.2" y="680.9" width="25.55" height="4.15" fill="#5c8bc0"/>
<rect x="33.25" y="685.05" width="25.55" height="4.15" fill="#fc9e64"/>
<rect x="58.8" y="685.05" width="25.55" height="4.15" fill="#fdb473"/>
<rect x="84.35" y="685.05" width="25.55" height="4.15" fill="#fffdbc"/>
<rect x="109.9" y="685.05" width="25.55" height="4.15" fill="#fdb473"/>
<rect x="135.45" y="685.05" width="25.55" height="4.15" fill="#fffdbc"/>
<rect x="161" y="685.05" width="25.55" height="4.15" fill="#b8d9ea"/>
<rect x="186.55" y="685.05" width="25.55" height="4.15" fill="#d5ecf4"/>
<rect x="212.1" y="685.05" width="25.55" height="4.15" fill="#ebf7e3"/>
<rect x="237.65" y="685.05" width="25.55" height="4.15" fill="#d5ecf4"/>
<rect x="263.2" y="685.05" width="25.55" height="4.15" fill="#b8d9ea"/>
<rect x="33.25" y="689.2" width="25.55" height="4.15" fill="#fa8756"/>
<rect x="58.8" y="689.2" width="25.55" height="4.15" fill="#ec6543"/>
<rect x="84.35" y="689.2" width="25.55" height="4.15" fill="#fffdbc"/>
<rect x="109.9" y="689.2" width="25.55" height="4.15" fill="#fed287"/>
<rect x="135.45" y="689.2" width="25.55" height="4.15" fill="#fffdbc"/>
<rect x="161" y="689.2" width="25.55" height="4.15" fill="#d5ecf4"/>
<rect x="186.55" y="689.2" width="25.55" height="4.15" fill="#d5ecf4"/>
<rect x="212.1" y="689.2" width="25.55" height="4.15" fill="#b8d9ea"/>
<rect x="237.65" y="689.2" width="25.55" height="4.15" fill="#d5ecf4"/>
<rect x="263.2" y="689.2" width="25.55" height="4.15" fill="#d5ecf4"/>
<rect x="33.25" y="693.36" width="25.55" height="4.15" fill="#e24c36"/>
<rect x="58.8" y="693.36" width="25.55" height="4.15" fill="#fed287"/>
<rect x="84.35" y="693.36" width="25.55" height="4.15" fill="#fffdbc"/>
<rect x="109.9" y="693.36" width="25.55" height="4.15" fill="#feeca3"/>
<rect x="135.45" y="693.36" width="25.55" height="4.15" fill="#feeca3"/>
<rect x="161" y="693.36" width="25.55" height="4.15" fill="#d5ecf4"/>
<rect x="186.55" y="693.36" width="25.55" height="4.15" fill="#d5ecf4"/>
<rect x="212.1" y="693.36" width="25.55" height="4.15" fill="#b8d9ea"/>
<rect x="237.65" y="693.36" width="25.55" height="4.15" fill="#d5ecf4"/>
<rect x="263.2" y="693.36" width="25.55" height="4.15" fill="#d5ecf4"/>
<rect x="33.25" y="697.51" width="25.55" height="4.15" fill="#e24c36"/>
<rect x="58.8" y="697.51" width="25.55" height="4.15" fill="#fdb473"/>
<rect x="84.35" y="697.51" width="25.55" height="4.15" fill="#fed287"/>
<rect x="109.9" y="697.51" width="25.55" height="4.15" fill="#fffdbc"/>
<rect x="135.45" y="697.51" width="25.55" height="4.15" fill="#fed287"/>
<rect x="161" y="697.51" width="25.55" height="4.15" fill="#d5ecf4"/>
<rect x="186.55" y="697.51" width="25.55" height="4.15" fill="#f8fccc"/>
<rect x="212.1" y="697.51" width="25.55" height="4.15" fill="#9ec8e0"/>
<rect x="237.65" y="697.51" width="25.55" height="4.15" fill="#d5ecf4"/>
<rect x="263.2" y="697.51" width="25.55" height="4.15" fill="#d5ecf4"/>
<rect x="33.25" y="701.66" width="25.55" height="4.15" fill="#fa8756"/>
<rect x="58.8" y="701.66" width="25.55" height="4.15" fill="#fed287"/>
<rect x="84.35" y="701.66" width="25.55" height="4.15" fill="#fed287"/>
<rect x="109.9" y="701.66" width="25.55" height="4.15" fill="#fed287"/>
<rect x="135.45" y="701.66" width="25.55" height="4.15" fill="#fed287"/>
<rect x="161" y="701.66" width="25.55" height="4.15" fill="#ebf7e3"/>
<rect x="186.55" y="701.66" width="25.55" height="4.15" fill="#fffdbc"/>
<rect x="212.1" y="701.66" width="25.55" height="4.15" fill="#b8d9ea"/>
<rect x="237.65" y="701.66" width="25.55" height="4.15" fill="#73a1cb"/>
<rect x="263.2" y="701.66" width="25.55" height="4.15" fill="#ebf7e3"/>
<rect x="33.25" y="539.2" width="25.55" height="3.2" fill="#fc877d"/>
<rect x="33.25" y="543.3" width="25.55" height="3.2" fill="#79b1fc"/>
<rect x="58.8" y="539.2" width="25.55" height="3.2" fill="#fc877d"/>
<rect x="58.8" y="543.3" width="25.55" height="3.2" fill="#79b1fc"/>
<rect x="84.35" y="539.2" width="25.55" height="3.2" fill="#fc877d"/>
<rect x="84.35" y="543.3" width="25.55" height="3.2" fill="#79b1fc"/>
<rect x="109.9" y="539.2" width="25.55" height="3.2" fill="#fc877d"/>
<rect x="109.9" y="543.3" width="25.55" height="3.2" fill="#79b1fc"/>
<rect x="135.45" y="539.2" width="25.55" height="3.2" fill="#fc877d"/>
<rect x="135.45" y="543.3" width="25.55" height="3.2" fill="#79b1fc"/>
<rect x="161" y="539.2" width="25.55" height="3.2" fill="#fc877d"/>
<rect x="161" y="543.3" width="25.55" height="3.2" fill="#02d456"/>
<rect x="186.55" y="539.2" width="25.55" height="3.2" fill="#fc877d"/>
<rect x="186.55" y="543.3" width="25.55" height="3.2" fill="#02d456"/>
<rect x="212.1" y="539.2" width="25.55" height="3.2" fill="#fc877d"/>
<rect x="212.1" y="543.3" width="25.55" height="3.2" fill="#02d456"/>
<rect x="237.65" y="539.2" width="25.55" height="3.2" fill="#fc877d"/>
<rect x="237.65" y="543.3" width="25.55" height="3.2" fill="#02d456"/>
<rect x="263.2" y="539.2" width="25.55" height="3.2" fill="#fc877d"/>
<rect x="263.2" y="543.3" width="25.55" height="3.2" fill="#02d456"/>
</g>
<g stroke="#6a6a6a" stroke-width="0.75" stroke-linecap="square">
<line x1="122.67" y1="532.7" x2="148.23" y2="532.7"/>
<line x1="122.67" y1="532.7" x2="122.67" y2="539.2"/>
<line x1="148.23" y1="532.7" x2="148.23" y2="539.2"/>
<line x1="97.12" y1="530.4" x2="135.45" y2="530.4"/>
<line x1="97.12" y1="530.4" x2="97.12" y2="539.2"/>
<line x1="135.45" y1="530.4" x2="135.45" y2="532.7"/>
<line x1="71.58" y1="528.3" x2="116.29" y2="528.3"/>
<line x1="71.58" y1="528.3" x2="71.58" y2="539.2"/>
<line x1="116.29" y1="528.3" x2="116.29" y2="530.4"/>
<line x1="46.02" y1="527" x2="93.93" y2="527"/>
<line x1="46.02" y1="527" x2="46.02" y2="539.2"/>
<line x1="93.93" y1="527" x2="93.93" y2="528.3"/>
<line x1="173.78" y1="531.4" x2="199.33" y2="531.4"/>
<line x1="173.78" y1="531.4" x2="173.78" y2="539.2"/>
<line x1="199.33" y1="531.4" x2="199.33" y2="539.2"/>
<line x1="250.43" y1="531" x2="275.98" y2="531"/>
<line x1="250.43" y1="531" x2="250.43" y2="539.2"/>
<line x1="275.98" y1="531" x2="275.98" y2="539.2"/>
<line x1="224.88" y1="530.1" x2="263.2" y2="530.1"/>
<line x1="224.88" y1="530.1" x2="224.88" y2="539.2"/>
<line x1="263.2" y1="530.1" x2="263.2" y2="531"/>
<line x1="186.55" y1="525.8" x2="244.04" y2="525.8"/>
<line x1="186.55" y1="525.8" x2="186.55" y2="531.4"/>
<line x1="244.04" y1="525.8" x2="244.04" y2="530.1"/>
<line x1="69.98" y1="512.4" x2="215.29" y2="512.4"/>
<line x1="69.98" y1="512.4" x2="69.98" y2="527"/>
<line x1="215.29" y1="512.4" x2="215.29" y2="525.8"/>
<line x1="26.83" y1="550.08" x2="26.83" y2="554.23"/>
<line x1="26.83" y1="550.08" x2="32.9" y2="550.08"/>
<line x1="26.83" y1="554.23" x2="32.9" y2="554.23"/>
<line x1="28.16" y1="558.38" x2="28.16" y2="562.54"/>
<line x1="28.16" y1="558.38" x2="32.9" y2="558.38"/>
<line x1="28.16" y1="562.54" x2="32.9" y2="562.54"/>
<line x1="27.65" y1="566.69" x2="27.65" y2="570.84"/>
<line x1="27.65" y1="566.69" x2="32.9" y2="566.69"/>
<line x1="27.65" y1="570.84" x2="32.9" y2="570.84"/>
<line x1="22.71" y1="560.46" x2="22.71" y2="568.76"/>
<line x1="22.71" y1="560.46" x2="28.16" y2="560.46"/>
<line x1="22.71" y1="568.76" x2="27.65" y2="568.76"/>
<line x1="28.38" y1="574.99" x2="28.38" y2="579.15"/>
<line x1="28.38" y1="574.99" x2="32.9" y2="574.99"/>
<line x1="28.38" y1="579.15" x2="32.9" y2="579.15"/>
<line x1="28.61" y1="583.3" x2="28.61" y2="587.45"/>
<line x1="28.61" y1="583.3" x2="32.9" y2="583.3"/>
<line x1="28.61" y1="587.45" x2="32.9" y2="587.45"/>
<line x1="27.74" y1="585.38" x2="27.74" y2="591.61"/>
<line x1="27.74" y1="585.38" x2="28.61" y2="585.38"/>
<line x1="27.74" y1="591.61" x2="32.9" y2="591.61"/>
<line x1="25.28" y1="577.07" x2="25.28" y2="588.49"/>
<line x1="25.28" y1="577.07" x2="28.38" y2="577.07"/>
<line x1="25.28" y1="588.49" x2="27.74" y2="588.49"/>
<line x1="27.18" y1="595.76" x2="27.18" y2="599.91"/>
<line x1="27.18" y1="595.76" x2="32.9" y2="595.76"/>
<line x1="27.18" y1="599.91" x2="32.9" y2="599.91"/>
<line x1="28.73" y1="604.07" x2="28.73" y2="608.22"/>
<line x1="28.73" y1="604.07" x2="32.9" y2="604.07"/>
<line x1="28.73" y1="608.22" x2="32.9" y2="608.22"/>
<line x1="26.78" y1="597.84" x2="26.78" y2="606.14"/>
<line x1="26.78" y1="597.84" x2="27.18" y2="597.84"/>
<line x1="26.78" y1="606.14" x2="28.73" y2="606.14"/>
<line x1="25.29" y1="601.99" x2="25.29" y2="612.37"/>
<line x1="25.29" y1="601.99" x2="26.78" y2="601.99"/>
<line x1="25.29" y1="612.37" x2="32.9" y2="612.37"/>
<line x1="23.15" y1="582.78" x2="23.15" y2="607.18"/>
<line x1="23.15" y1="582.78" x2="25.28" y2="582.78"/>
<line x1="23.15" y1="607.18" x2="25.29" y2="607.18"/>
<line x1="29.4" y1="616.52" x2="29.4" y2="620.68"/>
<line x1="29.4" y1="616.52" x2="32.9" y2="616.52"/>
<line x1="29.4" y1="620.68" x2="32.9" y2="620.68"/>
<line x1="20.79" y1="594.98" x2="20.79" y2="618.6"/>
<line x1="20.79" y1="594.98" x2="23.15" y2="594.98"/>
<line x1="20.79" y1="618.6" x2="29.4" y2="618.6"/>
<line x1="19.8" y1="564.61" x2="19.8" y2="606.79"/>
<line x1="19.8" y1="564.61" x2="22.71" y2="564.61"/>
<line x1="19.8" y1="606.79" x2="20.79" y2="606.79"/>
<line x1="19.4" y1="552.15" x2="19.4" y2="585.7"/>
<line x1="19.4" y1="552.15" x2="26.83" y2="552.15"/>
<line x1="19.4" y1="585.7" x2="19.8" y2="585.7"/>
<line x1="28.11" y1="628.98" x2="28.11" y2="633.14"/>
<line x1="28.11" y1="628.98" x2="32.9" y2="628.98"/>
<line x1="28.11" y1="633.14" x2="32.9" y2="633.14"/>
<line x1="23.92" y1="624.83" x2="23.92" y2="631.06"/>
<line x1="23.92" y1="624.83" x2="32.9" y2="624.83"/>
<line x1="23.92" y1="631.06" x2="28.11" y2="631.06"/>
<line x1="29.75" y1="653.9" x2="29.75" y2="658.05"/>
<line x1="29.75" y1="653.9" x2="32.9" y2="653.9"/>
<line x1="29.75" y1="658.05" x2="32.9" y2="658.05"/>
<line x1="28.01" y1="655.98" x2="28.01" y2="662.21"/>
<line x1="28.01" y1="655.98" x2="29.75" y2="655.98"/>
<line x1="28.01" y1="662.21" x2="32.9" y2="662.21"/>
<line x1="27.63" y1="649.75" x2="27.63" y2="659.09"/>
<line x1="27.63" y1="649.75" x2="32.9" y2="649.75"/>
<line x1="27.63" y1="659.09" x2="28.01" y2="659.09"/>
<line x1="26.89" y1="645.6" x2="26.89" y2="654.42"/>
<line x1="26.89" y1="645.6" x2="32.9" y2="645.6"/>
<line x1="26.89" y1="654.42" x2="27.63" y2="654.42"/>
<line x1="26.52" y1="641.44" x2="26.52" y2="650.01"/>
<line x1="26.52" y1="641.44" x2="32.9" y2="641.44"/>
<line x1="26.52" y1="650.01" x2="26.89" y2="650.01"/>
<line x1="23.91" y1="637.29" x2="23.91" y2="645.73"/>
<line x1="23.91" y1="637.29" x2="32.9" y2="637.29"/>
<line x1="23.91" y1="645.73" x2="26.52" y2="645.73"/>
<line x1="28.91" y1="666.36" x2="28.91" y2="670.51"/>
<line x1="28.91" y1="666.36" x2="32.9" y2="666.36"/>
<line x1="28.91" y1="670.51" x2="32.9" y2="670.51"/>
<line x1="28.2" y1="674.67" x2="28.2" y2="678.82"/>
<line x1="28.2" y1="674.67" x2="32.9" y2="674.67"/>
<line x1="28.2" y1="678.82" x2="32.9" y2="678.82"/>
<line x1="27.14" y1="668.44" x2="27.14" y2="676.74"/>
<line x1="27.14" y1="668.44" x2="28.91" y2="668.44"/>
<line x1="27.14" y1="676.74" x2="28.2" y2="676.74"/>
<line x1="29.02" y1="687.13" x2="29.02" y2="691.28"/>
<line x1="29.02" y1="687.13" x2="32.9" y2="687.13"/>
<line x1="29.02" y1="691.28" x2="32.9" y2="691.28"/>
<line x1="28.39" y1="689.2" x2="28.39" y2="695.43"/>
<line x1="28.39" y1="689.2" x2="29.02" y2="689.2"/>
<line x1="28.39" y1="695.43" x2="32.9" y2="695.43"/>
<line x1="27.84" y1="699.58" x2="27.84" y2="703.74"/>
<line x1="27.84" y1="699.58" x2="32.9" y2="699.58"/>
<line x1="27.84" y1="703.74" x2="32.9" y2="703.74"/>
<line x1="25.98" y1="692.32" x2="25.98" y2="701.66"/>
<line x1="25.98" y1="692.32" x2="28.39" y2="692.32"/>
<line x1="25.98" y1="701.66" x2="27.84" y2="701.66"/>
<line x1="24.63" y1="682.97" x2="24.63" y2="696.99"/>
<line x1="24.63" y1="682.97" x2="32.9" y2="682.97"/>
<line x1="24.63" y1="696.99" x2="25.98" y2="696.99"/>
<line x1="22.07" y1="672.59" x2="22.07" y2="689.98"/>
<line x1="22.07" y1="672.59" x2="27.14" y2="672.59"/>
<line x1="22.07" y1="689.98" x2="24.63" y2="689.98"/>
<line x1="20.51" y1="641.51" x2="20.51" y2="681.29"/>
<line x1="20.51" y1="641.51" x2="23.91" y2="641.51"/>
<line x1="20.51" y1="681.29" x2="22.07" y2="681.29"/>
<line x1="18.7" y1="627.95" x2="18.7" y2="661.4"/>
<line x1="18.7" y1="627.95" x2="23.92" y2="627.95"/>
<line x1="18.7" y1="661.4" x2="20.51" y2="661.4"/>
<line x1="7.7" y1="568.93" x2="7.7" y2="644.67"/>
<line x1="7.7" y1="568.93" x2="19.4" y2="568.93"/>
<line x1="7.7" y1="644.67" x2="18.7" y2="644.67"/>
</g>
<g transform="translate(290.6,0) scale(0.8,1)" fill="#1e1e1e" stroke="#1e1e1e" stroke-width="0.06">
<text x="0" y="542.42" font-size="3.6" text-anchor="start" fill="#1e1e1e" >Stim</text>
<text x="0" y="546.52" font-size="3.6" text-anchor="start" fill="#1e1e1e" >CD16</text>
<text x="0" y="551.88" font-size="3.6" text-anchor="start" fill="#1e1e1e" >CYFIP2</text>
<text x="0" y="556.03" font-size="3.6" text-anchor="start" fill="#1e1e1e" >CD97</text>
<text x="0" y="560.18" font-size="3.6" text-anchor="start" fill="#1e1e1e" >TGM2</text>
<text x="0" y="564.34" font-size="3.6" text-anchor="start" fill="#1e1e1e" >CCND1</text>
<text x="0" y="568.49" font-size="3.6" text-anchor="start" fill="#1e1e1e" >SLAMF1</text>
<text x="0" y="572.64" font-size="3.6" text-anchor="start" fill="#1e1e1e" >TNFRSF1B</text>
<text x="0" y="576.79" font-size="3.6" text-anchor="start" fill="#1e1e1e" >ITGAL</text>
<text x="0" y="580.95" font-size="3.6" text-anchor="start" fill="#1e1e1e" >MTSS1</text>
<text x="0" y="585.1" font-size="3.6" text-anchor="start" fill="#1e1e1e" >PALLD</text>
<text x="0" y="589.25" font-size="3.6" text-anchor="start" fill="#1e1e1e" >CLSTN1</text>
<text x="0" y="593.41" font-size="3.6" text-anchor="start" fill="#1e1e1e" >RAPH1</text>
<text x="0" y="597.56" font-size="3.6" text-anchor="start" fill="#1e1e1e" >ALCAM</text>
<text x="0" y="601.71" font-size="3.6" text-anchor="start" fill="#1e1e1e" >RGCC</text>
<text x="0" y="605.87" font-size="3.6" text-anchor="start" fill="#1e1e1e" >LYN</text>
<text x="0" y="610.02" font-size="3.6" text-anchor="start" fill="#1e1e1e" >ITGAE</text>
<text x="0" y="614.17" font-size="3.6" text-anchor="start" fill="#1e1e1e" >MLLT4</text>
<text x="0" y="618.32" font-size="3.6" text-anchor="start" fill="#1e1e1e" >BAI1</text>
<text x="0" y="622.48" font-size="3.6" text-anchor="start" fill="#1e1e1e" >ZNF703</text>
<text x="0" y="626.63" font-size="3.6" text-anchor="start" fill="#1e1e1e" >PEAR1</text>
<text x="0" y="630.78" font-size="3.6" text-anchor="start" fill="#1e1e1e" >CLEC4A</text>
<text x="0" y="634.94" font-size="3.6" text-anchor="start" fill="#1e1e1e" >SRF2</text>
<text x="0" y="639.09" font-size="3.6" text-anchor="start" fill="#1e1e1e" >CLDN4</text>
<text x="0" y="643.24" font-size="3.6" text-anchor="start" fill="#1e1e1e" >ITGA6</text>
<text x="0" y="647.4" font-size="3.6" text-anchor="start" fill="#1e1e1e" >GCNT1</text>
<text x="0" y="651.55" font-size="3.6" text-anchor="start" fill="#1e1e1e" >IGFBP7</text>
<text x="0" y="655.7" font-size="3.6" text-anchor="start" fill="#1e1e1e" >SIGLEC1</text>
<text x="0" y="659.85" font-size="3.6" text-anchor="start" fill="#1e1e1e" >NPSE</text>
<text x="0" y="664.01" font-size="3.6" text-anchor="start" fill="#1e1e1e" >CDH1</text>
<text x="0" y="668.16" font-size="3.6" text-anchor="start" fill="#1e1e1e" >ADAM23</text>
<text x="0" y="672.31" font-size="3.6" text-anchor="start" fill="#1e1e1e" >PKP2</text>
<text x="0" y="676.47" font-size="3.6" text-anchor="start" fill="#1e1e1e" >CDH2</text>
<text x="0" y="680.62" font-size="3.6" text-anchor="start" fill="#1e1e1e" >ATP1B2</text>
<text x="0" y="684.77" font-size="3.6" text-anchor="start" fill="#1e1e1e" >ESAM</text>
<text x="0" y="688.93" font-size="3.6" text-anchor="start" fill="#1e1e1e" >EPCAM</text>
<text x="0" y="693.08" font-size="3.6" text-anchor="start" fill="#1e1e1e" >SELL</text>
<text x="0" y="697.23" font-size="3.6" text-anchor="start" fill="#1e1e1e" >KIT</text>
<text x="0" y="701.38" font-size="3.6" text-anchor="start" fill="#1e1e1e" >CD34</text>
<text x="0" y="705.54" font-size="3.6" text-anchor="start" fill="#1e1e1e" >IFT74</text>
</g>
<g stroke="#a8a8a8" stroke-width="0.3">
<rect x="342.7" y="307.7" width="15.3" height="11.1" fill="#fa8756"/>
<rect x="358" y="307.7" width="15.3" height="11.1" fill="#e24c36"/>
<rect x="373.3" y="307.7" width="15.3" height="11.1" fill="#fdb473"/>
<rect x="388.6" y="307.7" width="15.3" height="11.1" fill="#feeca3"/>
<rect x="403.9" y="307.7" width="15.3" height="11.1" fill="#d5ecf4"/>
<rect x="419.2" y="307.7" width="15.3" height="11.1" fill="#9ec8e0"/>
<rect x="434.5" y="307.7" width="15.3" height="11.1" fill="#d5ecf4"/>
<rect x="449.8" y="307.7" width="15.3" height="11.1" fill="#87b5d6"/>
<rect x="465.1" y="307.7" width="15.3" height="11.1" fill="#f8fccc"/>
<rect x="480.4" y="307.7" width="15.3" height="11.1" fill="#fffdbc"/>
<rect x="342.7" y="318.8" width="15.3" height="11.1" fill="#fa8756"/>
<rect x="358" y="318.8" width="15.3" height="11.1" fill="#fdb473"/>
<rect x="373.3" y="318.8" width="15.3" height="11.1" fill="#e24c36"/>
<rect x="388.6" y="318.8" width="15.3" height="11.1" fill="#f8fccc"/>
<rect x="403.9" y="318.8" width="15.3" height="11.1" fill="#fffdbc"/>
<rect x="419.2" y="318.8" width="15.3" height="11.1" fill="#9ec8e0"/>
<rect x="434.5" y="318.8" width="15.3" height="11.1" fill="#ebf7e3"/>
<rect x="449.8" y="318.8" width="15.3" height="11.1" fill="#d5ecf4"/>
<rect x="465.1" y="318.8" width="15.3" height="11.1" fill="#b8d9ea"/>
<rect x="480.4" y="318.8" width="15.3" height="11.1" fill="#b8d9ea"/>
<rect x="342.7" y="329.9" width="15.3" height="11.1" fill="#fed287"/>
<rect x="358" y="329.9" width="15.3" height="11.1" fill="#ec6543"/>
<rect x="373.3" y="329.9" width="15.3" height="11.1" fill="#fa8756"/>
<rect x="388.6" y="329.9" width="15.3" height="11.1" fill="#fffdbc"/>
<rect x="403.9" y="329.9" width="15.3" height="11.1" fill="#fdb473"/>
<rect x="419.2" y="329.9" width="15.3" height="11.1" fill="#73a1cb"/>
<rect x="434.5" y="329.9" width="15.3" height="11.1" fill="#ebf7e3"/>
<rect x="449.8" y="329.9" width="15.3" height="11.1" fill="#b8d9ea"/>
<rect x="465.1" y="329.9" width="15.3" height="11.1" fill="#b8d9ea"/>
<rect x="480.4" y="329.9" width="15.3" height="11.1" fill="#d5ecf4"/>
<rect x="342.7" y="341" width="15.3" height="11.1" fill="#73a1cb"/>
<rect x="358" y="341" width="15.3" height="11.1" fill="#b8d9ea"/>
<rect x="373.3" y="341" width="15.3" height="11.1" fill="#d5ecf4"/>
<rect x="388.6" y="341" width="15.3" height="11.1" fill="#b8d9ea"/>
<rect x="403.9" y="341" width="15.3" height="11.1" fill="#b8d9ea"/>
<rect x="419.2" y="341" width="15.3" height="11.1" fill="#fdb473"/>
<rect x="434.5" y="341" width="15.3" height="11.1" fill="#fed287"/>
<rect x="449.8" y="341" width="15.3" height="11.1" fill="#fa8756"/>
<rect x="465.1" y="341" width="15.3" height="11.1" fill="#fdb473"/>
<rect x="480.4" y="341" width="15.3" height="11.1" fill="#fdb473"/>
<rect x="342.7" y="352.1" width="15.3" height="11.1" fill="#87b5d6"/>
<rect x="358" y="352.1" width="15.3" height="11.1" fill="#73a1cb"/>
<rect x="373.3" y="352.1" width="15.3" height="11.1" fill="#ebf7e3"/>
<rect x="388.6" y="352.1" width="15.3" height="11.1" fill="#fffdbc"/>
<rect x="403.9" y="352.1" width="15.3" height="11.1" fill="#b8d9ea"/>
<rect x="419.2" y="352.1" width="15.3" height="11.1" fill="#fc9e64"/>
<rect x="434.5" y="352.1" width="15.3" height="11.1" fill="#f8fccc"/>
<rect x="449.8" y="352.1" width="15.3" height="11.1" fill="#fc9e64"/>
<rect x="465.1" y="352.1" width="15.3" height="11.1" fill="#fdb473"/>
<rect x="480.4" y="352.1" width="15.3" height="11.1" fill="#fc9e64"/>
<rect x="342.7" y="363.2" width="15.3" height="11.1" fill="#4f7fb9"/>
<rect x="358" y="363.2" width="15.3" height="11.1" fill="#87b5d6"/>
<rect x="373.3" y="363.2" width="15.3" height="11.1" fill="#f8fccc"/>
<rect x="388.6" y="363.2" width="15.3" height="11.1" fill="#feeca3"/>
<rect x="403.9" y="363.2" width="15.3" height="11.1" fill="#d5ecf4"/>
<rect x="419.2" y="363.2" width="15.3" height="11.1" fill="#fdb473"/>
<rect x="434.5" y="363.2" width="15.3" height="11.1" fill="#ebf7e3"/>
<rect x="449.8" y="363.2" width="15.3" height="11.1" fill="#feeca3"/>
<rect x="465.1" y="363.2" width="15.3" height="11.1" fill="#fdb473"/>
<rect x="480.4" y="363.2" width="15.3" height="11.1" fill="#fa8756"/>
<rect x="342.7" y="374.3" width="15.3" height="11.1" fill="#b8d9ea"/>
<rect x="358" y="374.3" width="15.3" height="11.1" fill="#feeca3"/>
<rect x="373.3" y="374.3" width="15.3" height="11.1" fill="#87b5d6"/>
<rect x="388.6" y="374.3" width="15.3" height="11.1" fill="#87b5d6"/>
<rect x="403.9" y="374.3" width="15.3" height="11.1" fill="#d5ecf4"/>
<rect x="419.2" y="374.3" width="15.3" height="11.1" fill="#d5ecf4"/>
<rect x="434.5" y="374.3" width="15.3" height="11.1" fill="#ec6543"/>
<rect x="449.8" y="374.3" width="15.3" height="11.1" fill="#fdb473"/>
<rect x="465.1" y="374.3" width="15.3" height="11.1" fill="#feeca3"/>
<rect x="480.4" y="374.3" width="15.3" height="11.1" fill="#fdb473"/>
<rect x="342.7" y="385.4" width="15.3" height="11.1" fill="#b8d9ea"/>
<rect x="358" y="385.4" width="15.3" height="11.1" fill="#87b5d6"/>
<rect x="373.3" y="385.4" width="15.3" height="11.1" fill="#d5ecf4"/>
<rect x="388.6" y="385.4" width="15.3" height="11.1" fill="#b8d9ea"/>
<rect x="403.9" y="385.4" width="15.3" height="11.1" fill="#ebf7e3"/>
<rect x="419.2" y="385.4" width="15.3" height="11.1" fill="#d5ecf4"/>
<rect x="434.5" y="385.4" width="15.3" height="11.1" fill="#ec6543"/>
<rect x="449.8" y="385.4" width="15.3" height="11.1" fill="#fdb473"/>
<rect x="465.1" y="385.4" width="15.3" height="11.1" fill="#fc9e64"/>
<rect x="480.4" y="385.4" width="15.3" height="11.1" fill="#fed287"/>
<rect x="342.7" y="396.5" width="15.3" height="11.1" fill="#ebf7e3"/>
<rect x="358" y="396.5" width="15.3" height="11.1" fill="#9ec8e0"/>
<rect x="373.3" y="396.5" width="15.3" height="11.1" fill="#b8d9ea"/>
<rect x="388.6" y="396.5" width="15.3" height="11.1" fill="#d5ecf4"/>
<rect x="403.9" y="396.5" width="15.3" height="11.1" fill="#9ec8e0"/>
<rect x="419.2" y="396.5" width="15.3" height="11.1" fill="#d5ecf4"/>
<rect x="434.5" y="396.5" width="15.3" height="11.1" fill="#e24c36"/>
<rect x="449.8" y="396.5" width="15.3" height="11.1" fill="#fa8756"/>
<rect x="465.1" y="396.5" width="15.3" height="11.1" fill="#feeca3"/>
<rect x="480.4" y="396.5" width="15.3" height="11.1" fill="#fed287"/>
<rect x="342.7" y="407.6" width="15.3" height="11.1" fill="#b8d9ea"/>
<rect x="358" y="407.6" width="15.3" height="11.1" fill="#b8d9ea"/>
<rect x="373.3" y="407.6" width="15.3" height="11.1" fill="#b8d9ea"/>
<rect x="388.6" y="407.6" width="15.3" height="11.1" fill="#d5ecf4"/>
<rect x="403.9" y="407.6" width="15.3" height="11.1" fill="#d5ecf4"/>
<rect x="419.2" y="407.6" width="15.3" height="11.1" fill="#f8fccc"/>
<rect x="434.5" y="407.6" width="15.3" height="11.1" fill="#d73027"/>
<rect x="449.8" y="407.6" width="15.3" height="11.1" fill="#fdb473"/>
<rect x="465.1" y="407.6" width="15.3" height="11.1" fill="#feeca3"/>
<rect x="480.4" y="407.6" width="15.3" height="11.1" fill="#fed287"/>
<rect x="342.7" y="299.8" width="15.3" height="3" fill="#fc877d"/>
<rect x="342.7" y="303.7" width="15.3" height="3.2" fill="#02d456"/>
<rect x="358" y="299.8" width="15.3" height="3" fill="#fc877d"/>
<rect x="358" y="303.7" width="15.3" height="3.2" fill="#02d456"/>
<rect x="373.3" y="299.8" width="15.3" height="3" fill="#fc877d"/>
<rect x="373.3" y="303.7" width="15.3" height="3.2" fill="#02d456"/>
<rect x="388.6" y="299.8" width="15.3" height="3" fill="#fc877d"/>
<rect x="388.6" y="303.7" width="15.3" height="3.2" fill="#02d456"/>
<rect x="403.9" y="299.8" width="15.3" height="3" fill="#fc877d"/>
<rect x="403.9" y="303.7" width="15.3" height="3.2" fill="#02d456"/>
<rect x="419.2" y="299.8" width="15.3" height="3" fill="#fc877d"/>
<rect x="419.2" y="303.7" width="15.3" height="3.2" fill="#79b1fc"/>
<rect x="434.5" y="299.8" width="15.3" height="3" fill="#fc877d"/>
<rect x="434.5" y="303.7" width="15.3" height="3.2" fill="#79b1fc"/>
<rect x="449.8" y="299.8" width="15.3" height="3" fill="#fc877d"/>
<rect x="449.8" y="303.7" width="15.3" height="3.2" fill="#79b1fc"/>
<rect x="465.1" y="299.8" width="15.3" height="3" fill="#fc877d"/>
<rect x="465.1" y="303.7" width="15.3" height="3.2" fill="#79b1fc"/>
<rect x="480.4" y="299.8" width="15.3" height="3" fill="#fc877d"/>
<rect x="480.4" y="303.7" width="15.3" height="3.2" fill="#79b1fc"/>
</g>
<g stroke="#6a6a6a" stroke-width="0.75" stroke-linecap="square">
<line x1="350.35" y1="295" x2="365.65" y2="295"/>
<line x1="350.35" y1="295" x2="350.35" y2="299.8"/>
<line x1="365.65" y1="295" x2="365.65" y2="299.8"/>
<line x1="396.25" y1="294.6" x2="411.55" y2="294.6"/>
<line x1="396.25" y1="294.6" x2="396.25" y2="299.8"/>
<line x1="411.55" y1="294.6" x2="411.55" y2="299.8"/>
<line x1="380.95" y1="293.7" x2="403.9" y2="293.7"/>
<line x1="380.95" y1="293.7" x2="380.95" y2="299.8"/>
<line x1="403.9" y1="293.7" x2="403.9" y2="294.6"/>
<line x1="358" y1="291.2" x2="392.42" y2="291.2"/>
<line x1="358" y1="291.2" x2="358" y2="295"/>
<line x1="392.42" y1="291.2" x2="392.42" y2="293.7"/>
<line x1="472.75" y1="297.6" x2="488.05" y2="297.6"/>
<line x1="472.75" y1="297.6" x2="472.75" y2="299.8"/>
<line x1="488.05" y1="297.6" x2="488.05" y2="299.8"/>
<line x1="457.45" y1="295.6" x2="480.4" y2="295.6"/>
<line x1="457.45" y1="295.6" x2="457.45" y2="299.8"/>
<line x1="480.4" y1="295.6" x2="480.4" y2="297.6"/>
<line x1="442.15" y1="292.3" x2="468.92" y2="292.3"/>
<line x1="442.15" y1="292.3" x2="442.15" y2="299.8"/>
<line x1="468.92" y1="292.3" x2="468.92" y2="295.6"/>
<line x1="426.85" y1="288.7" x2="455.54" y2="288.7"/>
<line x1="426.85" y1="288.7" x2="426.85" y2="299.8"/>
<line x1="455.54" y1="288.7" x2="455.54" y2="292.3"/>
<line x1="375.21" y1="283.7" x2="441.19" y2="283.7"/>
<line x1="375.21" y1="283.7" x2="375.21" y2="291.2"/>
<line x1="441.19" y1="283.7" x2="441.19" y2="288.7"/>
<line x1="338.53" y1="324.35" x2="338.53" y2="335.45"/>
<line x1="338.53" y1="324.35" x2="342.5" y2="324.35"/>
<line x1="338.53" y1="335.45" x2="342.5" y2="335.45"/>
<line x1="336.3" y1="313.25" x2="336.3" y2="329.9"/>
<line x1="336.3" y1="313.25" x2="342.5" y2="313.25"/>
<line x1="336.3" y1="329.9" x2="338.53" y2="329.9"/>
<line x1="340.01" y1="357.65" x2="340.01" y2="368.75"/>
<line x1="340.01" y1="357.65" x2="342.5" y2="357.65"/>
<line x1="340.01" y1="368.75" x2="342.5" y2="368.75"/>
<line x1="338.43" y1="346.55" x2="338.43" y2="363.2"/>
<line x1="338.43" y1="346.55" x2="342.5" y2="346.55"/>
<line x1="338.43" y1="363.2" x2="340.01" y2="363.2"/>
<line x1="340.39" y1="402.05" x2="340.39" y2="413.15"/>
<line x1="340.39" y1="402.05" x2="342.5" y2="402.05"/>
<line x1="340.39" y1="413.15" x2="342.5" y2="413.15"/>
<line x1="339.77" y1="390.95" x2="339.77" y2="407.6"/>
<line x1="339.77" y1="390.95" x2="342.5" y2="390.95"/>
<line x1="339.77" y1="407.6" x2="340.39" y2="407.6"/>
<line x1="338.06" y1="379.85" x2="338.06" y2="399.27"/>
<line x1="338.06" y1="379.85" x2="342.5" y2="379.85"/>
<line x1="338.06" y1="399.27" x2="339.77" y2="399.27"/>
<line x1="332.3" y1="354.88" x2="332.3" y2="389.56"/>
<line x1="332.3" y1="354.88" x2="338.43" y2="354.88"/>
<line x1="332.3" y1="389.56" x2="338.06" y2="389.56"/>
<line x1="326.3" y1="321.57" x2="326.3" y2="372.22"/>
<line x1="326.3" y1="321.57" x2="336.3" y2="321.57"/>
<line x1="326.3" y1="372.22" x2="332.3" y2="372.22"/>
</g>
<g transform="translate(498.2,0) scale(0.8,1)" fill="#1e1e1e" stroke="#1e1e1e" stroke-width="0.06">
<text x="0" y="302.92" font-size="3.6" text-anchor="start" fill="#1e1e1e" >Stim</text>
<text x="0" y="306.92" font-size="3.6" text-anchor="start" fill="#1e1e1e" >CD16</text>
<text x="0" y="315.05" font-size="3.6" text-anchor="start" fill="#1e1e1e" >TNFSF14</text>
<text x="0" y="326.15" font-size="3.6" text-anchor="start" fill="#1e1e1e" >CCL22</text>
<text x="0" y="337.25" font-size="3.6" text-anchor="start" fill="#1e1e1e" >RPS19</text>
<text x="0" y="348.35" font-size="3.6" text-anchor="start" fill="#1e1e1e" >CCR6</text>
<text x="0" y="359.45" font-size="3.6" text-anchor="start" fill="#1e1e1e" >ITGA9</text>
<text x="0" y="370.55" font-size="3.6" text-anchor="start" fill="#1e1e1e" >CCL18</text>
<text x="0" y="381.65" font-size="3.6" text-anchor="start" fill="#1e1e1e" >SMC6</text>
<text x="0" y="392.75" font-size="3.6" text-anchor="start" fill="#1e1e1e" >PPBP</text>
<text x="0" y="403.85" font-size="3.6" text-anchor="start" fill="#1e1e1e" >RNASE2</text>
<text x="0" y="414.95" font-size="3.6" text-anchor="start" fill="#1e1e1e" >KIT</text>
</g>
<g stroke="#a8a8a8" stroke-width="0.3">
<rect x="342.9" y="477.9" width="15" height="6.18" fill="#f8fccc"/>
<rect x="357.9" y="477.9" width="15" height="6.18" fill="#fffdbc"/>
<rect x="372.9" y="477.9" width="15" height="6.18" fill="#9ec8e0"/>
<rect x="387.9" y="477.9" width="15" height="6.18" fill="#9ec8e0"/>
<rect x="402.9" y="477.9" width="15" height="6.18" fill="#87b5d6"/>
<rect x="417.9" y="477.9" width="15" height="6.18" fill="#ebf7e3"/>
<rect x="432.9" y="477.9" width="15" height="6.18" fill="#fffdbc"/>
<rect x="447.9" y="477.9" width="15" height="6.18" fill="#fa8756"/>
<rect x="462.9" y="477.9" width="15" height="6.18" fill="#fc9e64"/>
<rect x="477.9" y="477.9" width="15" height="6.18" fill="#fa8756"/>
<rect x="342.9" y="484.08" width="15" height="6.18" fill="#fffdbc"/>
<rect x="357.9" y="484.08" width="15" height="6.18" fill="#b8d9ea"/>
<rect x="372.9" y="484.08" width="15" height="6.18" fill="#b8d9ea"/>
<rect x="387.9" y="484.08" width="15" height="6.18" fill="#87b5d6"/>
<rect x="402.9" y="484.08" width="15" height="6.18" fill="#fffdbc"/>
<rect x="417.9" y="484.08" width="15" height="6.18" fill="#d5ecf4"/>
<rect x="432.9" y="484.08" width="15" height="6.18" fill="#f8fccc"/>
<rect x="447.9" y="484.08" width="15" height="6.18" fill="#ec6543"/>
<rect x="462.9" y="484.08" width="15" height="6.18" fill="#feeca3"/>
<rect x="477.9" y="484.08" width="15" height="6.18" fill="#e24c36"/>
<rect x="342.9" y="490.26" width="15" height="6.18" fill="#73a1cb"/>
<rect x="357.9" y="490.26" width="15" height="6.18" fill="#9ec8e0"/>
<rect x="372.9" y="490.26" width="15" height="6.18" fill="#f8fccc"/>
<rect x="387.9" y="490.26" width="15" height="6.18" fill="#feeca3"/>
<rect x="402.9" y="490.26" width="15" height="6.18" fill="#f8fccc"/>
<rect x="417.9" y="490.26" width="15" height="6.18" fill="#feeca3"/>
<rect x="432.9" y="490.26" width="15" height="6.18" fill="#f8fccc"/>
<rect x="447.9" y="490.26" width="15" height="6.18" fill="#d73027"/>
<rect x="462.9" y="490.26" width="15" height="6.18" fill="#fdb473"/>
<rect x="477.9" y="490.26" width="15" height="6.18" fill="#fffdbc"/>
<rect x="342.9" y="496.44" width="15" height="6.18" fill="#87b5d6"/>
<rect x="357.9" y="496.44" width="15" height="6.18" fill="#ebf7e3"/>
<rect x="372.9" y="496.44" width="15" height="6.18" fill="#f8fccc"/>
<rect x="387.9" y="496.44" width="15" height="6.18" fill="#b8d9ea"/>
<rect x="402.9" y="496.44" width="15" height="6.18" fill="#d5ecf4"/>
<rect x="417.9" y="496.44" width="15" height="6.18" fill="#fffdbc"/>
<rect x="432.9" y="496.44" width="15" height="6.18" fill="#ebf7e3"/>
<rect x="447.9" y="496.44" width="15" height="6.18" fill="#e24c36"/>
<rect x="462.9" y="496.44" width="15" height="6.18" fill="#fdb473"/>
<rect x="477.9" y="496.44" width="15" height="6.18" fill="#ec6543"/>
<rect x="342.9" y="502.62" width="15" height="6.18" fill="#87b5d6"/>
<rect x="357.9" y="502.62" width="15" height="6.18" fill="#ebf7e3"/>
<rect x="372.9" y="502.62" width="15" height="6.18" fill="#fffdbc"/>
<rect x="387.9" y="502.62" width="15" height="6.18" fill="#b8d9ea"/>
<rect x="402.9" y="502.62" width="15" height="6.18" fill="#d5ecf4"/>
<rect x="417.9" y="502.62" width="15" height="6.18" fill="#fffdbc"/>
<rect x="432.9" y="502.62" width="15" height="6.18" fill="#b8d9ea"/>
<rect x="447.9" y="502.62" width="15" height="6.18" fill="#fc9e64"/>
<rect x="462.9" y="502.62" width="15" height="6.18" fill="#fc9e64"/>
<rect x="477.9" y="502.62" width="15" height="6.18" fill="#e24c36"/>
<rect x="342.9" y="508.8" width="15" height="6.18" fill="#87b5d6"/>
<rect x="357.9" y="508.8" width="15" height="6.18" fill="#d5ecf4"/>
<rect x="372.9" y="508.8" width="15" height="6.18" fill="#d5ecf4"/>
<rect x="387.9" y="508.8" width="15" height="6.18" fill="#b8d9ea"/>
<rect x="402.9" y="508.8" width="15" height="6.18" fill="#b8d9ea"/>
<rect x="417.9" y="508.8" width="15" height="6.18" fill="#feeca3"/>
<rect x="432.9" y="508.8" width="15" height="6.18" fill="#fed287"/>
<rect x="447.9" y="508.8" width="15" height="6.18" fill="#ec6543"/>
<rect x="462.9" y="508.8" width="15" height="6.18" fill="#fc9e64"/>
<rect x="477.9" y="508.8" width="15" height="6.18" fill="#fdb473"/>
<rect x="342.9" y="514.98" width="15" height="6.18" fill="#f8fccc"/>
<rect x="357.9" y="514.98" width="15" height="6.18" fill="#b8d9ea"/>
<rect x="372.9" y="514.98" width="15" height="6.18" fill="#b8d9ea"/>
<rect x="387.9" y="514.98" width="15" height="6.18" fill="#9ec8e0"/>
<rect x="402.9" y="514.98" width="15" height="6.18" fill="#b8d9ea"/>
<rect x="417.9" y="514.98" width="15" height="6.18" fill="#fffdbc"/>
<rect x="432.9" y="514.98" width="15" height="6.18" fill="#feeca3"/>
<rect x="447.9" y="514.98" width="15" height="6.18" fill="#e24c36"/>
<rect x="462.9" y="514.98" width="15" height="6.18" fill="#fa8756"/>
<rect x="477.9" y="514.98" width="15" height="6.18" fill="#fdb473"/>
<rect x="342.9" y="521.16" width="15" height="6.18" fill="#d5ecf4"/>
<rect x="357.9" y="521.16" width="15" height="6.18" fill="#b8d9ea"/>
<rect x="372.9" y="521.16" width="15" height="6.18" fill="#f8fccc"/>
<rect x="387.9" y="521.16" width="15" height="6.18" fill="#ebf7e3"/>
<rect x="402.9" y="521.16" width="15" height="6.18" fill="#9ec8e0"/>
<rect x="417.9" y="521.16" width="15" height="6.18" fill="#b8d9ea"/>
<rect x="432.9" y="521.16" width="15" height="6.18" fill="#fffdbc"/>
<rect x="447.9" y="521.16" width="15" height="6.18" fill="#e24c36"/>
<rect x="462.9" y="521.16" width="15" height="6.18" fill="#ec6543"/>
<rect x="477.9" y="521.16" width="15" height="6.18" fill="#fdb473"/>
<rect x="342.9" y="527.34" width="15" height="6.18" fill="#9ec8e0"/>
<rect x="357.9" y="527.34" width="15" height="6.18" fill="#f8fccc"/>
<rect x="372.9" y="527.34" width="15" height="6.18" fill="#fffdbc"/>
<rect x="387.9" y="527.34" width="15" height="6.18" fill="#d5ecf4"/>
<rect x="402.9" y="527.34" width="15" height="6.18" fill="#b8d9ea"/>
<rect x="417.9" y="527.34" width="15" height="6.18" fill="#fffdbc"/>
<rect x="432.9" y="527.34" width="15" height="6.18" fill="#e4f4f1"/>
<rect x="447.9" y="527.34" width="15" height="6.18" fill="#e24c36"/>
<rect x="462.9" y="527.34" width="15" height="6.18" fill="#fa8756"/>
<rect x="477.9" y="527.34" width="15" height="6.18" fill="#fdb473"/>
<rect x="342.9" y="533.52" width="15" height="6.18" fill="#f8fccc"/>
<rect x="357.9" y="533.52" width="15" height="6.18" fill="#fa8756"/>
<rect x="372.9" y="533.52" width="15" height="6.18" fill="#ec6543"/>
<rect x="387.9" y="533.52" width="15" height="6.18" fill="#fc9e64"/>
<rect x="402.9" y="533.52" width="15" height="6.18" fill="#fffdbc"/>
<rect x="417.9" y="533.52" width="15" height="6.18" fill="#ebf7e3"/>
<rect x="432.9" y="533.52" width="15" height="6.18" fill="#b8d9ea"/>
<rect x="447.9" y="533.52" width="15" height="6.18" fill="#87b5d6"/>
<rect x="462.9" y="533.52" width="15" height="6.18" fill="#b8d9ea"/>
<rect x="477.9" y="533.52" width="15" height="6.18" fill="#feeca3"/>
<rect x="342.9" y="539.7" width="15" height="6.18" fill="#f8fccc"/>
<rect x="357.9" y="539.7" width="15" height="6.18" fill="#e24c36"/>
<rect x="372.9" y="539.7" width="15" height="6.18" fill="#fc9e64"/>
<rect x="387.9" y="539.7" width="15" height="6.18" fill="#fdb473"/>
<rect x="402.9" y="539.7" width="15" height="6.18" fill="#fed287"/>
<rect x="417.9" y="539.7" width="15" height="6.18" fill="#b8d9ea"/>
<rect x="432.9" y="539.7" width="15" height="6.18" fill="#b8d9ea"/>
<rect x="447.9" y="539.7" width="15" height="6.18" fill="#d5ecf4"/>
<rect x="462.9" y="539.7" width="15" height="6.18" fill="#d5ecf4"/>
<rect x="477.9" y="539.7" width="15" height="6.18" fill="#9ec8e0"/>
<rect x="342.9" y="545.88" width="15" height="6.18" fill="#fc9e64"/>
<rect x="357.9" y="545.88" width="15" height="6.18" fill="#f8fccc"/>
<rect x="372.9" y="545.88" width="15" height="6.18" fill="#e24c36"/>
<rect x="387.9" y="545.88" width="15" height="6.18" fill="#ebf7e3"/>
<rect x="402.9" y="545.88" width="15" height="6.18" fill="#fdb473"/>
<rect x="417.9" y="545.88" width="15" height="6.18" fill="#73a1cb"/>
<rect x="432.9" y="545.88" width="15" height="6.18" fill="#f8fccc"/>
<rect x="447.9" y="545.88" width="15" height="6.18" fill="#fffdbc"/>
<rect x="462.9" y="545.88" width="15" height="6.18" fill="#d5ecf4"/>
<rect x="477.9" y="545.88" width="15" height="6.18" fill="#b8d9ea"/>
<rect x="342.9" y="552.06" width="15" height="6.18" fill="#ec6543"/>
<rect x="357.9" y="552.06" width="15" height="6.18" fill="#d5ecf4"/>
<rect x="372.9" y="552.06" width="15" height="6.18" fill="#fa8756"/>
<rect x="387.9" y="552.06" width="15" height="6.18" fill="#fdb473"/>
<rect x="402.9" y="552.06" width="15" height="6.18" fill="#fed287"/>
<rect x="417.9" y="552.06" width="15" height="6.18" fill="#ebf7e3"/>
<rect x="432.9" y="552.06" width="15" height="6.18" fill="#f8fccc"/>
<rect x="447.9" y="552.06" width="15" height="6.18" fill="#9ec8e0"/>
<rect x="462.9" y="552.06" width="15" height="6.18" fill="#9ec8e0"/>
<rect x="477.9" y="552.06" width="15" height="6.18" fill="#9ec8e0"/>
<rect x="342.9" y="558.24" width="15" height="6.18" fill="#e24c36"/>
<rect x="357.9" y="558.24" width="15" height="6.18" fill="#fffdbc"/>
<rect x="372.9" y="558.24" width="15" height="6.18" fill="#fed287"/>
<rect x="387.9" y="558.24" width="15" height="6.18" fill="#fdb473"/>
<rect x="402.9" y="558.24" width="15" height="6.18" fill="#fed287"/>
<rect x="417.9" y="558.24" width="15" height="6.18" fill="#ebf7e3"/>
<rect x="432.9" y="558.24" width="15" height="6.18" fill="#fffdbc"/>
<rect x="447.9" y="558.24" width="15" height="6.18" fill="#9ec8e0"/>
<rect x="462.9" y="558.24" width="15" height="6.18" fill="#5585bc"/>
<rect x="477.9" y="558.24" width="15" height="6.18" fill="#ebf7e3"/>
<rect x="342.9" y="564.42" width="15" height="6.18" fill="#fc9e64"/>
<rect x="357.9" y="564.42" width="15" height="6.18" fill="#fa8756"/>
<rect x="372.9" y="564.42" width="15" height="6.18" fill="#fed287"/>
<rect x="387.9" y="564.42" width="15" height="6.18" fill="#fdb473"/>
<rect x="402.9" y="564.42" width="15" height="6.18" fill="#fffdbc"/>
<rect x="417.9" y="564.42" width="15" height="6.18" fill="#feeca3"/>
<rect x="432.9" y="564.42" width="15" height="6.18" fill="#f8fccc"/>
<rect x="447.9" y="564.42" width="15" height="6.18" fill="#d5ecf4"/>
<rect x="462.9" y="564.42" width="15" height="6.18" fill="#5c8bc0"/>
<rect x="477.9" y="564.42" width="15" height="6.18" fill="#87b5d6"/>
<rect x="342.9" y="570.6" width="15" height="6.18" fill="#e24c36"/>
<rect x="357.9" y="570.6" width="15" height="6.18" fill="#fed287"/>
<rect x="372.9" y="570.6" width="15" height="6.18" fill="#fffdbc"/>
<rect x="387.9" y="570.6" width="15" height="6.18" fill="#f8fccc"/>
<rect x="402.9" y="570.6" width="15" height="6.18" fill="#fdb473"/>
<rect x="417.9" y="570.6" width="15" height="6.18" fill="#f8fccc"/>
<rect x="432.9" y="570.6" width="15" height="6.18" fill="#feeca3"/>
<rect x="447.9" y="570.6" width="15" height="6.18" fill="#feeca3"/>
<rect x="462.9" y="570.6" width="15" height="6.18" fill="#73a1cb"/>
<rect x="477.9" y="570.6" width="15" height="6.18" fill="#73a1cb"/>
<rect x="342.9" y="576.78" width="15" height="6.18" fill="#ec6543"/>
<rect x="357.9" y="576.78" width="15" height="6.18" fill="#fed287"/>
<rect x="372.9" y="576.78" width="15" height="6.18" fill="#fed287"/>
<rect x="387.9" y="576.78" width="15" height="6.18" fill="#fed287"/>
<rect x="402.9" y="576.78" width="15" height="6.18" fill="#fed287"/>
<rect x="417.9" y="576.78" width="15" height="6.18" fill="#fffdbc"/>
<rect x="432.9" y="576.78" width="15" height="6.18" fill="#fed287"/>
<rect x="447.9" y="576.78" width="15" height="6.18" fill="#e4f4f1"/>
<rect x="462.9" y="576.78" width="15" height="6.18" fill="#5c8bc0"/>
<rect x="477.9" y="576.78" width="15" height="6.18" fill="#87b5d6"/>
<rect x="342.9" y="582.96" width="15" height="6.18" fill="#fc9e64"/>
<rect x="357.9" y="582.96" width="15" height="6.18" fill="#fed287"/>
<rect x="372.9" y="582.96" width="15" height="6.18" fill="#fdb473"/>
<rect x="387.9" y="582.96" width="15" height="6.18" fill="#fed287"/>
<rect x="402.9" y="582.96" width="15" height="6.18" fill="#fed287"/>
<rect x="417.9" y="582.96" width="15" height="6.18" fill="#f8fccc"/>
<rect x="432.9" y="582.96" width="15" height="6.18" fill="#fed287"/>
<rect x="447.9" y="582.96" width="15" height="6.18" fill="#ebf7e3"/>
<rect x="462.9" y="582.96" width="15" height="6.18" fill="#5c8bc0"/>
<rect x="477.9" y="582.96" width="15" height="6.18" fill="#87b5d6"/>
<rect x="342.9" y="470.4" width="15" height="2.9" fill="#fc877d"/>
<rect x="342.9" y="473.8" width="15" height="3" fill="#79b1fc"/>
<rect x="357.9" y="470.4" width="15" height="2.9" fill="#fc877d"/>
<rect x="357.9" y="473.8" width="15" height="3" fill="#79b1fc"/>
<rect x="372.9" y="470.4" width="15" height="2.9" fill="#fc877d"/>
<rect x="372.9" y="473.8" width="15" height="3" fill="#79b1fc"/>
<rect x="387.9" y="470.4" width="15" height="2.9" fill="#fc877d"/>
<rect x="387.9" y="473.8" width="15" height="3" fill="#79b1fc"/>
<rect x="402.9" y="470.4" width="15" height="2.9" fill="#fc877d"/>
<rect x="402.9" y="473.8" width="15" height="3" fill="#79b1fc"/>
<rect x="417.9" y="470.4" width="15" height="2.9" fill="#fc877d"/>
<rect x="417.9" y="473.8" width="15" height="3" fill="#02d456"/>
<rect x="432.9" y="470.4" width="15" height="2.9" fill="#fc877d"/>
<rect x="432.9" y="473.8" width="15" height="3" fill="#02d456"/>
<rect x="447.9" y="470.4" width="15" height="2.9" fill="#fc877d"/>
<rect x="447.9" y="473.8" width="15" height="3" fill="#02d456"/>
<rect x="462.9" y="470.4" width="15" height="2.9" fill="#fc877d"/>
<rect x="462.9" y="473.8" width="15" height="3" fill="#02d456"/>
<rect x="477.9" y="470.4" width="15" height="2.9" fill="#fc877d"/>
<rect x="477.9" y="473.8" width="15" height="3" fill="#02d456"/>
</g>
<g stroke="#6a6a6a" stroke-width="0.75" stroke-linecap="square">
<line x1="395.4" y1="465.5" x2="410.4" y2="465.5"/>
<line x1="395.4" y1="465.5" x2="395.4" y2="470.4"/>
<line x1="410.4" y1="465.5" x2="410.4" y2="470.4"/>
<line x1="380.4" y1="465" x2="402.9" y2="465"/>
<line x1="380.4" y1="465" x2="380.4" y2="470.4"/>
<line x1="402.9" y1="465" x2="402.9" y2="465.5"/>
<line x1="365.4" y1="464.2" x2="391.65" y2="464.2"/>
<line x1="365.4" y1="464.2" x2="365.4" y2="470.4"/>
<line x1="391.65" y1="464.2" x2="391.65" y2="465"/>
<line x1="350.4" y1="462.5" x2="378.52" y2="462.5"/>
<line x1="350.4" y1="462.5" x2="350.4" y2="470.4"/>
<line x1="378.52" y1="462.5" x2="378.52" y2="464.2"/>
<line x1="425.4" y1="465.4" x2="440.4" y2="465.4"/>
<line x1="425.4" y1="465.4" x2="425.4" y2="470.4"/>
<line x1="440.4" y1="465.4" x2="440.4" y2="470.4"/>
<line x1="470.4" y1="464.7" x2="485.4" y2="464.7"/>
<line x1="470.4" y1="464.7" x2="470.4" y2="470.4"/>
<line x1="485.4" y1="464.7" x2="485.4" y2="470.4"/>
<line x1="455.4" y1="463.7" x2="477.9" y2="463.7"/>
<line x1="455.4" y1="463.7" x2="455.4" y2="470.4"/>
<line x1="477.9" y1="463.7" x2="477.9" y2="464.7"/>
<line x1="432.9" y1="459.5" x2="466.65" y2="459.5"/>
<line x1="432.9" y1="459.5" x2="432.9" y2="465.4"/>
<line x1="466.65" y1="459.5" x2="466.65" y2="463.7"/>
<line x1="364.46" y1="453" x2="449.77" y2="453"/>
<line x1="364.46" y1="453" x2="364.46" y2="462.5"/>
<line x1="449.77" y1="453" x2="449.77" y2="459.5"/>
<line x1="337.22" y1="480.99" x2="337.22" y2="487.17"/>
<line x1="337.22" y1="480.99" x2="342.5" y2="480.99"/>
<line x1="337.22" y1="487.17" x2="342.5" y2="487.17"/>
<line x1="340" y1="499.53" x2="340" y2="505.71"/>
<line x1="340" y1="499.53" x2="342.5" y2="499.53"/>
<line x1="340" y1="505.71" x2="342.5" y2="505.71"/>
<line x1="338.96" y1="511.89" x2="338.96" y2="518.07"/>
<line x1="338.96" y1="511.89" x2="342.5" y2="511.89"/>
<line x1="338.96" y1="518.07" x2="342.5" y2="518.07"/>
<line x1="338.58" y1="524.25" x2="338.58" y2="530.43"/>
<line x1="338.58" y1="524.25" x2="342.5" y2="524.25"/>
<line x1="338.58" y1="530.43" x2="342.5" y2="530.43"/>
<line x1="337.69" y1="514.98" x2="337.69" y2="527.34"/>
<line x1="337.69" y1="514.98" x2="338.96" y2="514.98"/>
<line x1="337.69" y1="527.34" x2="338.58" y2="527.34"/>
<line x1="336.32" y1="502.62" x2="336.32" y2="521.16"/>
<line x1="336.32" y1="502.62" x2="340" y2="502.62"/>
<line x1="336.32" y1="521.16" x2="337.69" y2="521.16"/>
<line x1="335.82" y1="493.35" x2="335.82" y2="511.89"/>
<line x1="335.82" y1="493.35" x2="342.5" y2="493.35"/>
<line x1="335.82" y1="511.89" x2="336.32" y2="511.89"/>
<line x1="334.6" y1="484.08" x2="334.6" y2="502.62"/>
<line x1="334.6" y1="484.08" x2="337.22" y2="484.08"/>
<line x1="334.6" y1="502.62" x2="335.82" y2="502.62"/>
<line x1="337.88" y1="536.61" x2="337.88" y2="542.79"/>
<line x1="337.88" y1="536.61" x2="342.5" y2="536.61"/>
<line x1="337.88" y1="542.79" x2="342.5" y2="542.79"/>
<line x1="338.76" y1="555.15" x2="338.76" y2="561.33"/>
<line x1="338.76" y1="555.15" x2="342.5" y2="555.15"/>
<line x1="338.76" y1="561.33" x2="342.5" y2="561.33"/>
<line x1="341.04" y1="579.87" x2="341.04" y2="586.05"/>
<line x1="341.04" y1="579.87" x2="342.5" y2="579.87"/>
<line x1="341.04" y1="586.05" x2="342.5" y2="586.05"/>
<line x1="338.57" y1="573.69" x2="338.57" y2="582.96"/>
<line x1="338.57" y1="573.69" x2="342.5" y2="573.69"/>
<line x1="338.57" y1="582.96" x2="341.04" y2="582.96"/>
<line x1="338.29" y1="567.51" x2="338.29" y2="578.33"/>
<line x1="338.29" y1="567.51" x2="342.5" y2="567.51"/>
<line x1="338.29" y1="578.33" x2="338.57" y2="578.33"/>
<line x1="335.75" y1="558.24" x2="335.75" y2="572.92"/>
<line x1="335.75" y1="558.24" x2="338.76" y2="558.24"/>
<line x1="335.75" y1="572.92" x2="338.29" y2="572.92"/>
<line x1="334.27" y1="548.97" x2="334.27" y2="565.58"/>
<line x1="334.27" y1="548.97" x2="342.5" y2="548.97"/>
<line x1="334.27" y1="565.58" x2="335.75" y2="565.58"/>
<line x1="331.2" y1="539.7" x2="331.2" y2="557.27"/>
<line x1="331.2" y1="539.7" x2="337.88" y2="539.7"/>
<line x1="331.2" y1="557.27" x2="334.27" y2="557.27"/>
<line x1="326.3" y1="493.35" x2="326.3" y2="548.49"/>
<line x1="326.3" y1="493.35" x2="334.6" y2="493.35"/>
<line x1="326.3" y1="548.49" x2="331.2" y2="548.49"/>
</g>
<g transform="translate(494.7,0) scale(0.8,1)" fill="#1e1e1e" stroke="#1e1e1e" stroke-width="0.06">
<text x="0" y="473.47" font-size="3.6" text-anchor="start" fill="#1e1e1e" >Stim</text>
<text x="0" y="476.92" font-size="3.6" text-anchor="start" fill="#1e1e1e" >CD16</text>
<text x="0" y="482.79" font-size="3.6" text-anchor="start" fill="#1e1e1e" >CLSTN1</text>
<text x="0" y="488.97" font-size="3.6" text-anchor="start" fill="#1e1e1e" >RUFY3</text>
<text x="0" y="495.15" font-size="3.6" text-anchor="start" fill="#1e1e1e" >SLC9A1</text>
<text x="0" y="501.33" font-size="3.6" text-anchor="start" fill="#1e1e1e" >RAPH1</text>
<text x="0" y="507.51" font-size="3.6" text-anchor="start" fill="#1e1e1e" >PARVA</text>
<text x="0" y="513.69" font-size="3.6" text-anchor="start" fill="#1e1e1e" >EPS8</text>
<text x="0" y="519.87" font-size="3.6" text-anchor="start" fill="#1e1e1e" >PALLD</text>
<text x="0" y="526.05" font-size="3.6" text-anchor="start" fill="#1e1e1e" >SPRY2</text>
<text x="0" y="532.23" font-size="3.6" text-anchor="start" fill="#1e1e1e" >FGD5</text>
<text x="0" y="538.41" font-size="3.6" text-anchor="start" fill="#1e1e1e" >SH3PXD2B</text>
<text x="0" y="544.59" font-size="3.6" text-anchor="start" fill="#1e1e1e" >PLXNA2</text>
<text x="0" y="550.77" font-size="3.6" text-anchor="start" fill="#1e1e1e" >IFT80</text>
<text x="0" y="556.95" font-size="3.6" text-anchor="start" fill="#1e1e1e" >TULP3</text>
<text x="0" y="563.13" font-size="3.6" text-anchor="start" fill="#1e1e1e" >IFT74</text>
<text x="0" y="569.31" font-size="3.6" text-anchor="start" fill="#1e1e1e" >CDC42EP3</text>
<text x="0" y="575.49" font-size="3.6" text-anchor="start" fill="#1e1e1e" >NUMB</text>
<text x="0" y="581.67" font-size="3.6" text-anchor="start" fill="#1e1e1e" >CTTNBP2</text>
<text x="0" y="587.85" font-size="3.6" text-anchor="start" fill="#1e1e1e" >SVIL</text>
</g>
<defs><linearGradient id="cb" x1="0" y1="1" x2="0" y2="0">
<stop offset="0.0000" stop-color="#4575B4"/>
<stop offset="0.1667" stop-color="#91BFDB"/>
<stop offset="0.3333" stop-color="#E0F3F8"/>
<stop offset="0.5000" stop-color="#FFFFBF"/>
<stop offset="0.6667" stop-color="#FEE090"/>
<stop offset="0.8333" stop-color="#FC8D59"/>
<stop offset="1.0000" stop-color="#D73027"/>
</linearGradient></defs>
<rect x="313.1" y="50.4" width="5.4" height="73.9" fill="url(#cb)"/>
<text transform="translate(321.6,54.8) scale(0.8,1)" font-size="3.6" fill="#1e1e1e" stroke="#1e1e1e" stroke-width="0.06">2</text>
<text transform="translate(321.6,71.5) scale(0.8,1)" font-size="3.6" fill="#1e1e1e" stroke="#1e1e1e" stroke-width="0.06">1</text>
<text transform="translate(321.6,88.2) scale(0.8,1)" font-size="3.6" fill="#1e1e1e" stroke="#1e1e1e" stroke-width="0.06">0</text>
<text transform="translate(321.6,105.1) scale(0.8,1)" font-size="3.6" fill="#1e1e1e" stroke="#1e1e1e" stroke-width="0.06">-1</text>
<text transform="translate(321.6,121.8) scale(0.8,1)" font-size="3.6" fill="#1e1e1e" stroke="#1e1e1e" stroke-width="0.06">-2</text>
<text transform="translate(329.3,53) scale(0.8,1)" font-size="3.6" fill="#1e1e1e" stroke="#1e1e1e" stroke-width="0.06">Stim</text>
<rect x="329.3" y="54.1" width="4.8" height="4.7" fill="#fc877d" stroke="#a8a8a8" stroke-width="0.3"/>
<text transform="translate(336,58.2) scale(0.8,1)" font-size="3.6" fill="#1e1e1e" stroke="#1e1e1e" stroke-width="0.06">Media</text>
<text transform="translate(329.3,65) scale(0.8,1)" font-size="3.6" fill="#1e1e1e" stroke="#1e1e1e" stroke-width="0.06">CD16</text>
<rect x="329.3" y="66.3" width="4.8" height="5.1" fill="#79b1fc" stroke="#a8a8a8" stroke-width="0.3"/>
<rect x="329.3" y="71.4" width="4.8" height="5.2" fill="#02d456" stroke="#a8a8a8" stroke-width="0.3"/>
<text transform="translate(336,70.4) scale(0.8,1)" font-size="3.6" fill="#1e1e1e" stroke="#1e1e1e" stroke-width="0.06">CD16n</text>
<text transform="translate(336,75.2) scale(0.8,1)" font-size="3.6" fill="#1e1e1e" stroke="#1e1e1e" stroke-width="0.06">CD16p</text>
<text x="14" y="17.5" font-size="11.2" fill="#000">A</text>
<text x="29.5" y="17.5" font-size="10.4" fill="#000" textLength="121.7" lengthAdjust="spacingAndGlyphs">Medium: transcription factors</text>
<text x="14" y="276.8" font-size="11.2" fill="#000">B</text>
<text x="29.6" y="276.8" font-size="10.4" fill="#000" textLength="77.8" lengthAdjust="spacingAndGlyphs">Medium: cytokines</text>
<text x="14" y="505" font-size="11.2" fill="#000">C</text>
<text x="29.6" y="505" font-size="10.4" fill="#000" textLength="121" lengthAdjust="spacingAndGlyphs">Medium: adhesion molecules</text>
<text x="333" y="276.5" font-size="11.2" fill="#000">D</text>
<text x="348.2" y="276.5" font-size="10.4" fill="#000" textLength="85.7" lengthAdjust="spacingAndGlyphs">Medium: chemotaxis</text>
<text x="333" y="445.3" font-size="11.2" fill="#000">E</text>
<text x="347" y="445.3" font-size="10.4" fill="#000" textLength="101.6" lengthAdjust="spacingAndGlyphs">Medium: cell projections</text>
<rect x="0.5" y="0.5" width="518" height="711" fill="none" stroke="#222" stroke-width="1"/>
<rect x="518" y="0" width="2" height="713" fill="#222"/>
<rect x="0" y="711" width="520" height="2" fill="#222"/>
</svg>
</body></html>
